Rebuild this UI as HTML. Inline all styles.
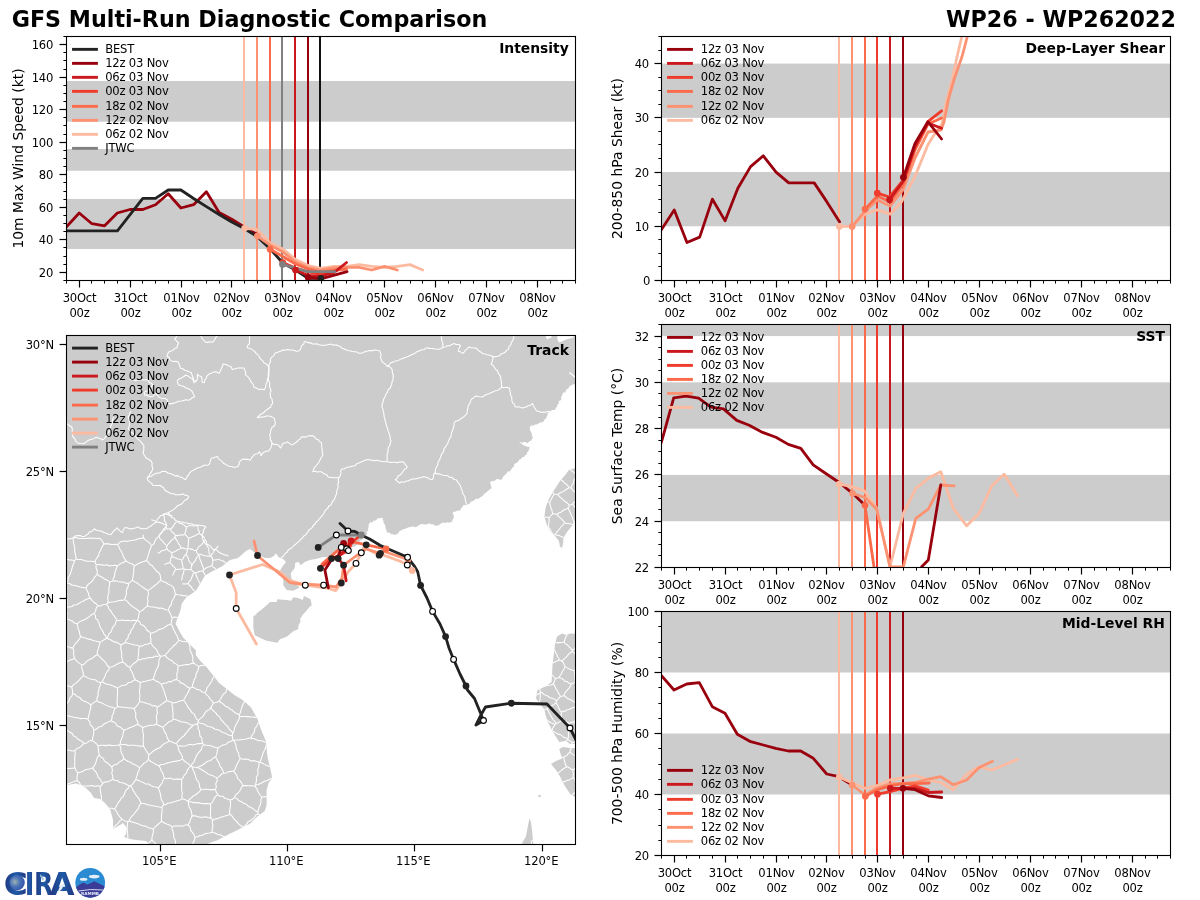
<!DOCTYPE html>
<html><head><meta charset="utf-8"><title>GFS Multi-Run Diagnostic Comparison</title>
<style>html,body{margin:0;padding:0;background:#fff;width:1200px;height:900px;overflow:hidden}svg{display:block;will-change:transform}</style>
</head><body>
<svg width="1200" height="900" viewBox="0 0 1200 900" font-family="'DejaVu Sans', 'Liberation Sans', sans-serif">
<rect x="0" y="0" width="1200" height="900" fill="#fff"/>
<text x="11.7" y="26.8" font-size="22.22" text-anchor="start" font-weight="bold">GFS Multi-Run Diagnostic Comparison</text>
<text x="1176" y="26.8" font-size="22.22" text-anchor="end" font-weight="bold">WP26 - WP262022</text>
<rect x="66.5" y="36.5" width="509" height="244" fill="#fff"/>
<rect x="66.5" y="81" width="509" height="40.7" fill="#cccccc"/>
<rect x="66.5" y="149" width="509" height="21.7" fill="#cccccc"/>
<rect x="66.5" y="199" width="509" height="50" fill="#cccccc"/>
<clipPath id="c1"><rect x="66.5" y="36.5" width="509" height="244"/></clipPath>
<g clip-path="url(#c1)">
<line x1="244" y1="36.5" x2="244" y2="280.5" stroke="#fcbba1" stroke-width="2"/>
<line x1="257" y1="36.5" x2="257" y2="280.5" stroke="#fc9272" stroke-width="2"/>
<line x1="270" y1="36.5" x2="270" y2="280.5" stroke="#fb6a4a" stroke-width="2"/>
<line x1="282" y1="36.5" x2="282" y2="280.5" stroke="#ef3b2c" stroke-width="2"/>
<line x1="295" y1="36.5" x2="295" y2="280.5" stroke="#cb181d" stroke-width="2"/>
<line x1="308" y1="36.5" x2="308" y2="280.5" stroke="#99000d" stroke-width="2"/>
<line x1="282" y1="36.5" x2="282" y2="280.5" stroke="#808080" stroke-width="2"/>
<line x1="320" y1="36.5" x2="320" y2="280.5" stroke="#111111" stroke-width="2"/>
<polyline points="60,222 66.5,226.7 79.2,213 91.9,223.7 104.6,225.8 117.3,213 130,209.5 142.8,209.5 155.5,204.7 168.2,193.8 180.9,208 193.6,204.7 206.4,191.7 219.1,212.5 231.8,219.2 244.6,227.3 257.3,234.5" fill="none" stroke="#99000d" stroke-width="2.8" stroke-linejoin="round" stroke-linecap="round"/>
<polyline points="66.5,230.8 117.4,230.8 142.8,198.3 155.5,198.3 168.2,190 180.9,190 193.6,198.5 206.4,206.6 219.1,214.5 231.8,222 244.6,228.7 257.3,236.7 270,248.7 282.8,263 295.5,270 308.2,278.3 320.9,278.3" fill="none" stroke="#222222" stroke-width="2.8" stroke-linejoin="round" stroke-linecap="round"/>
<polyline points="244.6,228.3 257.3,229.6 270.1,243 282.8,249 295.5,259.5 308.2,265.5 320.9,268.3 333.6,266.5 346.4,266.3 359.1,264.6 371.8,266.3 384.5,267.3 397.3,266.3 410,264.6 422.7,270" fill="none" stroke="#fcbba1" stroke-width="2.8" stroke-linejoin="round" stroke-linecap="round"/>
<polyline points="257.3,236.1 270.1,245 282.8,252 295.5,262 308.2,267.5 320.9,270 333.6,268 346.4,267.3 359.1,267.3 371.8,270 384.5,266.3 397.3,270" fill="none" stroke="#fc9272" stroke-width="2.8" stroke-linejoin="round" stroke-linecap="round"/>
<polyline points="270.1,249.2 282.8,256.5 295.5,264 308.2,269 320.9,272 333.6,270.5 346.4,269" fill="none" stroke="#fb6a4a" stroke-width="2.8" stroke-linejoin="round" stroke-linecap="round"/>
<polyline points="282.8,262.5 295.5,268 308.2,272 320.9,274.5 333.6,273" fill="none" stroke="#ef3b2c" stroke-width="2.8" stroke-linejoin="round" stroke-linecap="round"/>
<polyline points="295.5,270 308.2,275.5 320.9,276.5 335.8,271.1 346.6,262.5" fill="none" stroke="#cb181d" stroke-width="2.8" stroke-linejoin="round" stroke-linecap="round"/>
<polyline points="308.2,277.5 321.7,278.6 347.1,271.7" fill="none" stroke="#99000d" stroke-width="2.8" stroke-linejoin="round" stroke-linecap="round"/>
<polyline points="282.5,264.4 307.6,271.7 334.7,271.7" fill="none" stroke="#808080" stroke-width="2.8" stroke-linejoin="round" stroke-linecap="round"/>
<circle cx="244.6" cy="228.3" r="3.35" fill="#fcbba1" stroke="none" stroke-width="0"/>
<circle cx="257.3" cy="236.1" r="3.35" fill="#fc9272" stroke="none" stroke-width="0"/>
<circle cx="270.1" cy="249.2" r="3.35" fill="#fb6a4a" stroke="none" stroke-width="0"/>
<circle cx="282.8" cy="262.5" r="3.35" fill="#ef3b2c" stroke="none" stroke-width="0"/>
<circle cx="295.5" cy="270" r="3.35" fill="#cb181d" stroke="none" stroke-width="0"/>
<circle cx="308.2" cy="277.5" r="3.35" fill="#99000d" stroke="none" stroke-width="0"/>
<circle cx="282.5" cy="264.4" r="3.35" fill="#808080" stroke="none" stroke-width="0"/>
<circle cx="320.9" cy="278.3" r="3.35" fill="#222222" stroke="none" stroke-width="0"/>
</g>
<line x1="72.05" y1="49.35" x2="97.9" y2="49.35" stroke="#222222" stroke-width="2.9"/>
<text x="105.2" y="52.8" font-size="11.57" text-anchor="start" letter-spacing="-0.2">BEST</text>
<line x1="72.05" y1="63.35" x2="97.9" y2="63.35" stroke="#99000d" stroke-width="2.9"/>
<text x="105.2" y="66.8" font-size="11.57" text-anchor="start" letter-spacing="-0.2">12z 03 Nov</text>
<line x1="72.05" y1="77.35" x2="97.9" y2="77.35" stroke="#cb181d" stroke-width="2.9"/>
<text x="105.2" y="80.8" font-size="11.57" text-anchor="start" letter-spacing="-0.2">06z 03 Nov</text>
<line x1="72.05" y1="91.35" x2="97.9" y2="91.35" stroke="#ef3b2c" stroke-width="2.9"/>
<text x="105.2" y="94.8" font-size="11.57" text-anchor="start" letter-spacing="-0.2">00z 03 Nov</text>
<line x1="72.05" y1="106.35" x2="97.9" y2="106.35" stroke="#fb6a4a" stroke-width="2.9"/>
<text x="105.2" y="109.8" font-size="11.57" text-anchor="start" letter-spacing="-0.2">18z 02 Nov</text>
<line x1="72.05" y1="120.35" x2="97.9" y2="120.35" stroke="#fc9272" stroke-width="2.9"/>
<text x="105.2" y="123.8" font-size="11.57" text-anchor="start" letter-spacing="-0.2">12z 02 Nov</text>
<line x1="72.05" y1="134.35" x2="97.9" y2="134.35" stroke="#fcbba1" stroke-width="2.9"/>
<text x="105.2" y="137.8" font-size="11.57" text-anchor="start" letter-spacing="-0.2">06z 02 Nov</text>
<line x1="72.05" y1="148.35" x2="97.9" y2="148.35" stroke="#808080" stroke-width="2.9"/>
<text x="105.2" y="151.8" font-size="11.57" text-anchor="start" letter-spacing="-0.2">JTWC</text>
<text x="568.8" y="52.9" font-size="13.89" text-anchor="end" font-weight="bold">Intensity</text>
<rect x="66.5" y="36.5" width="509" height="244" fill="none" stroke="#000" stroke-width="1.1" stroke-linejoin="miter"/>
<line x1="63.4" y1="280.5" x2="66.5" y2="280.5" stroke="#000" stroke-width="1"/>
<line x1="63.4" y1="264.5" x2="66.5" y2="264.5" stroke="#000" stroke-width="1"/>
<line x1="63.4" y1="256.5" x2="66.5" y2="256.5" stroke="#000" stroke-width="1"/>
<line x1="63.4" y1="247.5" x2="66.5" y2="247.5" stroke="#000" stroke-width="1"/>
<line x1="63.4" y1="231.5" x2="66.5" y2="231.5" stroke="#000" stroke-width="1"/>
<line x1="63.4" y1="223.5" x2="66.5" y2="223.5" stroke="#000" stroke-width="1"/>
<line x1="63.4" y1="215.5" x2="66.5" y2="215.5" stroke="#000" stroke-width="1"/>
<line x1="63.4" y1="199.5" x2="66.5" y2="199.5" stroke="#000" stroke-width="1"/>
<line x1="63.4" y1="191.5" x2="66.5" y2="191.5" stroke="#000" stroke-width="1"/>
<line x1="63.4" y1="182.5" x2="66.5" y2="182.5" stroke="#000" stroke-width="1"/>
<line x1="63.4" y1="166.5" x2="66.5" y2="166.5" stroke="#000" stroke-width="1"/>
<line x1="63.4" y1="158.5" x2="66.5" y2="158.5" stroke="#000" stroke-width="1"/>
<line x1="63.4" y1="150.5" x2="66.5" y2="150.5" stroke="#000" stroke-width="1"/>
<line x1="63.4" y1="134.5" x2="66.5" y2="134.5" stroke="#000" stroke-width="1"/>
<line x1="63.4" y1="125.5" x2="66.5" y2="125.5" stroke="#000" stroke-width="1"/>
<line x1="63.4" y1="117.5" x2="66.5" y2="117.5" stroke="#000" stroke-width="1"/>
<line x1="63.4" y1="101.5" x2="66.5" y2="101.5" stroke="#000" stroke-width="1"/>
<line x1="63.4" y1="93.5" x2="66.5" y2="93.5" stroke="#000" stroke-width="1"/>
<line x1="63.4" y1="85.5" x2="66.5" y2="85.5" stroke="#000" stroke-width="1"/>
<line x1="63.4" y1="69.5" x2="66.5" y2="69.5" stroke="#000" stroke-width="1"/>
<line x1="63.4" y1="60.5" x2="66.5" y2="60.5" stroke="#000" stroke-width="1"/>
<line x1="63.4" y1="52.5" x2="66.5" y2="52.5" stroke="#000" stroke-width="1"/>
<line x1="63.4" y1="36.5" x2="66.5" y2="36.5" stroke="#000" stroke-width="1"/>
<line x1="59.5" y1="272.5" x2="66.5" y2="272.5" stroke="#000" stroke-width="1.2"/>
<text x="53.2" y="276.82" font-size="11.57" text-anchor="end" letter-spacing="-0.2">20</text>
<line x1="59.5" y1="239.5" x2="66.5" y2="239.5" stroke="#000" stroke-width="1.2"/>
<text x="53.2" y="244.28" font-size="11.57" text-anchor="end" letter-spacing="-0.2">40</text>
<line x1="59.5" y1="207.5" x2="66.5" y2="207.5" stroke="#000" stroke-width="1.2"/>
<text x="53.2" y="211.75" font-size="11.57" text-anchor="end" letter-spacing="-0.2">60</text>
<line x1="59.5" y1="174.5" x2="66.5" y2="174.5" stroke="#000" stroke-width="1.2"/>
<text x="53.2" y="179.22" font-size="11.57" text-anchor="end" letter-spacing="-0.2">80</text>
<line x1="59.5" y1="142.5" x2="66.5" y2="142.5" stroke="#000" stroke-width="1.2"/>
<text x="53.2" y="146.68" font-size="11.57" text-anchor="end" letter-spacing="-0.2">100</text>
<line x1="59.5" y1="109.5" x2="66.5" y2="109.5" stroke="#000" stroke-width="1.2"/>
<text x="53.2" y="114.15" font-size="11.57" text-anchor="end" letter-spacing="-0.2">120</text>
<line x1="59.5" y1="77.5" x2="66.5" y2="77.5" stroke="#000" stroke-width="1.2"/>
<text x="53.2" y="81.62" font-size="11.57" text-anchor="end" letter-spacing="-0.2">140</text>
<line x1="59.5" y1="44.5" x2="66.5" y2="44.5" stroke="#000" stroke-width="1.2"/>
<text x="53.2" y="49.08" font-size="11.57" text-anchor="end" letter-spacing="-0.2">160</text>
<line x1="66.5" y1="280.5" x2="66.5" y2="283.6" stroke="#000" stroke-width="1"/>
<line x1="79.5" y1="280.5" x2="79.5" y2="287.5" stroke="#000" stroke-width="1.2"/>
<text x="79.5" y="302.2" font-size="11.57" text-anchor="middle" letter-spacing="-0.2">30Oct</text>
<text x="79.5" y="317" font-size="11.57" text-anchor="middle" letter-spacing="-0.2">00z</text>
<line x1="91.5" y1="280.5" x2="91.5" y2="283.6" stroke="#000" stroke-width="1"/>
<line x1="104.5" y1="280.5" x2="104.5" y2="283.6" stroke="#000" stroke-width="1"/>
<line x1="117.5" y1="280.5" x2="117.5" y2="283.6" stroke="#000" stroke-width="1"/>
<line x1="130.5" y1="280.5" x2="130.5" y2="287.5" stroke="#000" stroke-width="1.2"/>
<text x="130.5" y="302.2" font-size="11.57" text-anchor="middle" letter-spacing="-0.2">31Oct</text>
<text x="130.5" y="317" font-size="11.57" text-anchor="middle" letter-spacing="-0.2">00z</text>
<line x1="142.5" y1="280.5" x2="142.5" y2="283.6" stroke="#000" stroke-width="1"/>
<line x1="155.5" y1="280.5" x2="155.5" y2="283.6" stroke="#000" stroke-width="1"/>
<line x1="168.5" y1="280.5" x2="168.5" y2="283.6" stroke="#000" stroke-width="1"/>
<line x1="181.5" y1="280.5" x2="181.5" y2="287.5" stroke="#000" stroke-width="1.2"/>
<text x="181.5" y="302.2" font-size="11.57" text-anchor="middle" letter-spacing="-0.2">01Nov</text>
<text x="181.5" y="317" font-size="11.57" text-anchor="middle" letter-spacing="-0.2">00z</text>
<line x1="193.5" y1="280.5" x2="193.5" y2="283.6" stroke="#000" stroke-width="1"/>
<line x1="206.5" y1="280.5" x2="206.5" y2="283.6" stroke="#000" stroke-width="1"/>
<line x1="219.5" y1="280.5" x2="219.5" y2="283.6" stroke="#000" stroke-width="1"/>
<line x1="231.5" y1="280.5" x2="231.5" y2="287.5" stroke="#000" stroke-width="1.2"/>
<text x="231.5" y="302.2" font-size="11.57" text-anchor="middle" letter-spacing="-0.2">02Nov</text>
<text x="231.5" y="317" font-size="11.57" text-anchor="middle" letter-spacing="-0.2">00z</text>
<line x1="244.5" y1="280.5" x2="244.5" y2="283.6" stroke="#000" stroke-width="1"/>
<line x1="257.5" y1="280.5" x2="257.5" y2="283.6" stroke="#000" stroke-width="1"/>
<line x1="270.5" y1="280.5" x2="270.5" y2="283.6" stroke="#000" stroke-width="1"/>
<line x1="282.5" y1="280.5" x2="282.5" y2="287.5" stroke="#000" stroke-width="1.2"/>
<text x="282.5" y="302.2" font-size="11.57" text-anchor="middle" letter-spacing="-0.2">03Nov</text>
<text x="282.5" y="317" font-size="11.57" text-anchor="middle" letter-spacing="-0.2">00z</text>
<line x1="295.5" y1="280.5" x2="295.5" y2="283.6" stroke="#000" stroke-width="1"/>
<line x1="308.5" y1="280.5" x2="308.5" y2="283.6" stroke="#000" stroke-width="1"/>
<line x1="321.5" y1="280.5" x2="321.5" y2="283.6" stroke="#000" stroke-width="1"/>
<line x1="333.5" y1="280.5" x2="333.5" y2="287.5" stroke="#000" stroke-width="1.2"/>
<text x="333.5" y="302.2" font-size="11.57" text-anchor="middle" letter-spacing="-0.2">04Nov</text>
<text x="333.5" y="317" font-size="11.57" text-anchor="middle" letter-spacing="-0.2">00z</text>
<line x1="346.5" y1="280.5" x2="346.5" y2="283.6" stroke="#000" stroke-width="1"/>
<line x1="359.5" y1="280.5" x2="359.5" y2="283.6" stroke="#000" stroke-width="1"/>
<line x1="371.5" y1="280.5" x2="371.5" y2="283.6" stroke="#000" stroke-width="1"/>
<line x1="384.5" y1="280.5" x2="384.5" y2="287.5" stroke="#000" stroke-width="1.2"/>
<text x="384.5" y="302.2" font-size="11.57" text-anchor="middle" letter-spacing="-0.2">05Nov</text>
<text x="384.5" y="317" font-size="11.57" text-anchor="middle" letter-spacing="-0.2">00z</text>
<line x1="397.5" y1="280.5" x2="397.5" y2="283.6" stroke="#000" stroke-width="1"/>
<line x1="410.5" y1="280.5" x2="410.5" y2="283.6" stroke="#000" stroke-width="1"/>
<line x1="422.5" y1="280.5" x2="422.5" y2="283.6" stroke="#000" stroke-width="1"/>
<line x1="435.5" y1="280.5" x2="435.5" y2="287.5" stroke="#000" stroke-width="1.2"/>
<text x="435.5" y="302.2" font-size="11.57" text-anchor="middle" letter-spacing="-0.2">06Nov</text>
<text x="435.5" y="317" font-size="11.57" text-anchor="middle" letter-spacing="-0.2">00z</text>
<line x1="448.5" y1="280.5" x2="448.5" y2="283.6" stroke="#000" stroke-width="1"/>
<line x1="460.5" y1="280.5" x2="460.5" y2="283.6" stroke="#000" stroke-width="1"/>
<line x1="473.5" y1="280.5" x2="473.5" y2="283.6" stroke="#000" stroke-width="1"/>
<line x1="486.5" y1="280.5" x2="486.5" y2="287.5" stroke="#000" stroke-width="1.2"/>
<text x="486.5" y="302.2" font-size="11.57" text-anchor="middle" letter-spacing="-0.2">07Nov</text>
<text x="486.5" y="317" font-size="11.57" text-anchor="middle" letter-spacing="-0.2">00z</text>
<line x1="499.5" y1="280.5" x2="499.5" y2="283.6" stroke="#000" stroke-width="1"/>
<line x1="511.5" y1="280.5" x2="511.5" y2="283.6" stroke="#000" stroke-width="1"/>
<line x1="524.5" y1="280.5" x2="524.5" y2="283.6" stroke="#000" stroke-width="1"/>
<line x1="537.5" y1="280.5" x2="537.5" y2="287.5" stroke="#000" stroke-width="1.2"/>
<text x="537.5" y="302.2" font-size="11.57" text-anchor="middle" letter-spacing="-0.2">08Nov</text>
<text x="537.5" y="317" font-size="11.57" text-anchor="middle" letter-spacing="-0.2">00z</text>
<line x1="550.5" y1="280.5" x2="550.5" y2="283.6" stroke="#000" stroke-width="1"/>
<line x1="562.5" y1="280.5" x2="562.5" y2="283.6" stroke="#000" stroke-width="1"/>
<line x1="575.5" y1="280.5" x2="575.5" y2="283.6" stroke="#000" stroke-width="1"/>
<text x="23" y="158.5" font-size="13.89" text-anchor="middle" transform="rotate(-90 23 158.5)">10m Max Wind Speed (kt)</text>
<rect x="661.5" y="36.5" width="509" height="244" fill="#fff"/>
<rect x="661.5" y="172.06" width="509" height="54.22" fill="#cccccc"/>
<rect x="661.5" y="63.61" width="509" height="54.22" fill="#cccccc"/>
<clipPath id="c2"><rect x="661.5" y="36.5" width="509" height="244"/></clipPath>
<g clip-path="url(#c2)">
<line x1="839" y1="36.5" x2="839" y2="280.5" stroke="#fcbba1" stroke-width="2"/>
<line x1="852" y1="36.5" x2="852" y2="280.5" stroke="#fc9272" stroke-width="2"/>
<line x1="865" y1="36.5" x2="865" y2="280.5" stroke="#fb6a4a" stroke-width="2"/>
<line x1="877" y1="36.5" x2="877" y2="280.5" stroke="#ef3b2c" stroke-width="2"/>
<line x1="890" y1="36.5" x2="890" y2="280.5" stroke="#cb181d" stroke-width="2"/>
<line x1="903" y1="36.5" x2="903" y2="280.5" stroke="#99000d" stroke-width="2"/>
<polyline points="648.77,219.77 661.5,229.53 674.23,210.01 686.95,242.54 699.67,237.12 712.4,199.17 725.12,220.86 737.85,188.32 750.58,166.63 763.3,155.79 776.02,172.06 788.75,182.9 801.48,182.9 814.2,182.9 826.92,201.88 839.65,221.94" fill="none" stroke="#99000d" stroke-width="2.8" stroke-linejoin="round" stroke-linecap="round"/>
<polyline points="839.4,226.4 852.2,226.4 865,214 877.3,209.8 890.3,214.2 901.9,201.2 914.9,176.6 927.9,144.8 933.3,136 942,124 946.7,100 952.2,80 957.2,56 961.7,37 964,25" fill="none" stroke="#fcbba1" stroke-width="2.8" stroke-linejoin="round" stroke-linecap="round"/>
<polyline points="852.2,226.4 865,211 877.3,200 890.3,206 903,190 915,158 928,132 941,130 944,122 948.3,100 953.9,80 962.2,56 967.2,37 970,25" fill="none" stroke="#fc9272" stroke-width="2.8" stroke-linejoin="round" stroke-linecap="round"/>
<polyline points="865.1,209.1 877.3,196 890.3,202 903.4,184 915,150 928,124 941.6,118" fill="none" stroke="#fb6a4a" stroke-width="2.8" stroke-linejoin="round" stroke-linecap="round"/>
<polyline points="877.3,193.2 889.6,197 903.4,180 915,147 927.9,121.7 941.6,110.8" fill="none" stroke="#ef3b2c" stroke-width="2.8" stroke-linejoin="round" stroke-linecap="round"/>
<polyline points="889.6,199.7 903.4,181 915,146 927.9,123 941.6,128.2" fill="none" stroke="#cb181d" stroke-width="2.8" stroke-linejoin="round" stroke-linecap="round"/>
<polyline points="903.4,177.3 915,143.4 927.9,121.7 941.6,139" fill="none" stroke="#99000d" stroke-width="2.8" stroke-linejoin="round" stroke-linecap="round"/>
<circle cx="839.4" cy="226.4" r="3.35" fill="#fcbba1" stroke="none" stroke-width="0"/>
<circle cx="852.2" cy="226.4" r="3.35" fill="#fc9272" stroke="none" stroke-width="0"/>
<circle cx="865.1" cy="209.1" r="3.35" fill="#fb6a4a" stroke="none" stroke-width="0"/>
<circle cx="877.3" cy="193.2" r="3.35" fill="#ef3b2c" stroke="none" stroke-width="0"/>
<circle cx="889.6" cy="199.7" r="3.35" fill="#cb181d" stroke="none" stroke-width="0"/>
<circle cx="903.4" cy="177.3" r="3.35" fill="#99000d" stroke="none" stroke-width="0"/>
</g>
<line x1="667.05" y1="49.4" x2="692.9" y2="49.4" stroke="#99000d" stroke-width="2.9"/>
<text x="700.8" y="52.85" font-size="11.57" text-anchor="start" letter-spacing="-0.2">12z 03 Nov</text>
<line x1="667.05" y1="63.4" x2="692.9" y2="63.4" stroke="#cb181d" stroke-width="2.9"/>
<text x="700.8" y="66.85" font-size="11.57" text-anchor="start" letter-spacing="-0.2">06z 03 Nov</text>
<line x1="667.05" y1="77.4" x2="692.9" y2="77.4" stroke="#ef3b2c" stroke-width="2.9"/>
<text x="700.8" y="80.85" font-size="11.57" text-anchor="start" letter-spacing="-0.2">00z 03 Nov</text>
<line x1="667.05" y1="91.4" x2="692.9" y2="91.4" stroke="#fb6a4a" stroke-width="2.9"/>
<text x="700.8" y="94.85" font-size="11.57" text-anchor="start" letter-spacing="-0.2">18z 02 Nov</text>
<line x1="667.05" y1="106.4" x2="692.9" y2="106.4" stroke="#fc9272" stroke-width="2.9"/>
<text x="700.8" y="109.85" font-size="11.57" text-anchor="start" letter-spacing="-0.2">12z 02 Nov</text>
<line x1="667.05" y1="120.4" x2="692.9" y2="120.4" stroke="#fcbba1" stroke-width="2.9"/>
<text x="700.8" y="123.85" font-size="11.57" text-anchor="start" letter-spacing="-0.2">06z 02 Nov</text>
<text x="1165" y="52.8" font-size="13.89" text-anchor="end" font-weight="bold">Deep-Layer Shear</text>
<rect x="661.5" y="36.5" width="509" height="244" fill="none" stroke="#000" stroke-width="1.1" stroke-linejoin="miter"/>
<line x1="658.4" y1="266.5" x2="661.5" y2="266.5" stroke="#000" stroke-width="1"/>
<line x1="658.4" y1="253.5" x2="661.5" y2="253.5" stroke="#000" stroke-width="1"/>
<line x1="658.4" y1="239.5" x2="661.5" y2="239.5" stroke="#000" stroke-width="1"/>
<line x1="658.4" y1="212.5" x2="661.5" y2="212.5" stroke="#000" stroke-width="1"/>
<line x1="658.4" y1="199.5" x2="661.5" y2="199.5" stroke="#000" stroke-width="1"/>
<line x1="658.4" y1="185.5" x2="661.5" y2="185.5" stroke="#000" stroke-width="1"/>
<line x1="658.4" y1="158.5" x2="661.5" y2="158.5" stroke="#000" stroke-width="1"/>
<line x1="658.4" y1="144.5" x2="661.5" y2="144.5" stroke="#000" stroke-width="1"/>
<line x1="658.4" y1="131.5" x2="661.5" y2="131.5" stroke="#000" stroke-width="1"/>
<line x1="658.4" y1="104.5" x2="661.5" y2="104.5" stroke="#000" stroke-width="1"/>
<line x1="658.4" y1="90.5" x2="661.5" y2="90.5" stroke="#000" stroke-width="1"/>
<line x1="658.4" y1="77.5" x2="661.5" y2="77.5" stroke="#000" stroke-width="1"/>
<line x1="658.4" y1="50.5" x2="661.5" y2="50.5" stroke="#000" stroke-width="1"/>
<line x1="658.4" y1="36.5" x2="661.5" y2="36.5" stroke="#000" stroke-width="1"/>
<line x1="654.5" y1="280.5" x2="661.5" y2="280.5" stroke="#000" stroke-width="1.2"/>
<text x="650.2" y="284.95" font-size="11.57" text-anchor="end" letter-spacing="-0.2">0</text>
<line x1="654.5" y1="226.5" x2="661.5" y2="226.5" stroke="#000" stroke-width="1.2"/>
<text x="649" y="230.73" font-size="11.57" text-anchor="end" letter-spacing="-0.2">10</text>
<line x1="654.5" y1="172.5" x2="661.5" y2="172.5" stroke="#000" stroke-width="1.2"/>
<text x="649" y="176.51" font-size="11.57" text-anchor="end" letter-spacing="-0.2">20</text>
<line x1="654.5" y1="117.5" x2="661.5" y2="117.5" stroke="#000" stroke-width="1.2"/>
<text x="649" y="122.28" font-size="11.57" text-anchor="end" letter-spacing="-0.2">30</text>
<line x1="654.5" y1="63.5" x2="661.5" y2="63.5" stroke="#000" stroke-width="1.2"/>
<text x="649" y="68.06" font-size="11.57" text-anchor="end" letter-spacing="-0.2">40</text>
<line x1="661.5" y1="280.5" x2="661.5" y2="283.6" stroke="#000" stroke-width="1"/>
<line x1="674.5" y1="280.5" x2="674.5" y2="287.5" stroke="#000" stroke-width="1.2"/>
<text x="674.5" y="302.2" font-size="11.57" text-anchor="middle" letter-spacing="-0.2">30Oct</text>
<text x="674.5" y="317" font-size="11.57" text-anchor="middle" letter-spacing="-0.2">00z</text>
<line x1="686.5" y1="280.5" x2="686.5" y2="283.6" stroke="#000" stroke-width="1"/>
<line x1="699.5" y1="280.5" x2="699.5" y2="283.6" stroke="#000" stroke-width="1"/>
<line x1="712.5" y1="280.5" x2="712.5" y2="283.6" stroke="#000" stroke-width="1"/>
<line x1="725.5" y1="280.5" x2="725.5" y2="287.5" stroke="#000" stroke-width="1.2"/>
<text x="725.5" y="302.2" font-size="11.57" text-anchor="middle" letter-spacing="-0.2">31Oct</text>
<text x="725.5" y="317" font-size="11.57" text-anchor="middle" letter-spacing="-0.2">00z</text>
<line x1="737.5" y1="280.5" x2="737.5" y2="283.6" stroke="#000" stroke-width="1"/>
<line x1="750.5" y1="280.5" x2="750.5" y2="283.6" stroke="#000" stroke-width="1"/>
<line x1="763.5" y1="280.5" x2="763.5" y2="283.6" stroke="#000" stroke-width="1"/>
<line x1="776.5" y1="280.5" x2="776.5" y2="287.5" stroke="#000" stroke-width="1.2"/>
<text x="776.5" y="302.2" font-size="11.57" text-anchor="middle" letter-spacing="-0.2">01Nov</text>
<text x="776.5" y="317" font-size="11.57" text-anchor="middle" letter-spacing="-0.2">00z</text>
<line x1="788.5" y1="280.5" x2="788.5" y2="283.6" stroke="#000" stroke-width="1"/>
<line x1="801.5" y1="280.5" x2="801.5" y2="283.6" stroke="#000" stroke-width="1"/>
<line x1="814.5" y1="280.5" x2="814.5" y2="283.6" stroke="#000" stroke-width="1"/>
<line x1="826.5" y1="280.5" x2="826.5" y2="287.5" stroke="#000" stroke-width="1.2"/>
<text x="826.5" y="302.2" font-size="11.57" text-anchor="middle" letter-spacing="-0.2">02Nov</text>
<text x="826.5" y="317" font-size="11.57" text-anchor="middle" letter-spacing="-0.2">00z</text>
<line x1="839.5" y1="280.5" x2="839.5" y2="283.6" stroke="#000" stroke-width="1"/>
<line x1="852.5" y1="280.5" x2="852.5" y2="283.6" stroke="#000" stroke-width="1"/>
<line x1="865.5" y1="280.5" x2="865.5" y2="283.6" stroke="#000" stroke-width="1"/>
<line x1="877.5" y1="280.5" x2="877.5" y2="287.5" stroke="#000" stroke-width="1.2"/>
<text x="877.5" y="302.2" font-size="11.57" text-anchor="middle" letter-spacing="-0.2">03Nov</text>
<text x="877.5" y="317" font-size="11.57" text-anchor="middle" letter-spacing="-0.2">00z</text>
<line x1="890.5" y1="280.5" x2="890.5" y2="283.6" stroke="#000" stroke-width="1"/>
<line x1="903.5" y1="280.5" x2="903.5" y2="283.6" stroke="#000" stroke-width="1"/>
<line x1="916.5" y1="280.5" x2="916.5" y2="283.6" stroke="#000" stroke-width="1"/>
<line x1="928.5" y1="280.5" x2="928.5" y2="287.5" stroke="#000" stroke-width="1.2"/>
<text x="928.5" y="302.2" font-size="11.57" text-anchor="middle" letter-spacing="-0.2">04Nov</text>
<text x="928.5" y="317" font-size="11.57" text-anchor="middle" letter-spacing="-0.2">00z</text>
<line x1="941.5" y1="280.5" x2="941.5" y2="283.6" stroke="#000" stroke-width="1"/>
<line x1="954.5" y1="280.5" x2="954.5" y2="283.6" stroke="#000" stroke-width="1"/>
<line x1="966.5" y1="280.5" x2="966.5" y2="283.6" stroke="#000" stroke-width="1"/>
<line x1="979.5" y1="280.5" x2="979.5" y2="287.5" stroke="#000" stroke-width="1.2"/>
<text x="979.5" y="302.2" font-size="11.57" text-anchor="middle" letter-spacing="-0.2">05Nov</text>
<text x="979.5" y="317" font-size="11.57" text-anchor="middle" letter-spacing="-0.2">00z</text>
<line x1="992.5" y1="280.5" x2="992.5" y2="283.6" stroke="#000" stroke-width="1"/>
<line x1="1005.5" y1="280.5" x2="1005.5" y2="283.6" stroke="#000" stroke-width="1"/>
<line x1="1017.5" y1="280.5" x2="1017.5" y2="283.6" stroke="#000" stroke-width="1"/>
<line x1="1030.5" y1="280.5" x2="1030.5" y2="287.5" stroke="#000" stroke-width="1.2"/>
<text x="1030.5" y="302.2" font-size="11.57" text-anchor="middle" letter-spacing="-0.2">06Nov</text>
<text x="1030.5" y="317" font-size="11.57" text-anchor="middle" letter-spacing="-0.2">00z</text>
<line x1="1043.5" y1="280.5" x2="1043.5" y2="283.6" stroke="#000" stroke-width="1"/>
<line x1="1055.5" y1="280.5" x2="1055.5" y2="283.6" stroke="#000" stroke-width="1"/>
<line x1="1068.5" y1="280.5" x2="1068.5" y2="283.6" stroke="#000" stroke-width="1"/>
<line x1="1081.5" y1="280.5" x2="1081.5" y2="287.5" stroke="#000" stroke-width="1.2"/>
<text x="1081.5" y="302.2" font-size="11.57" text-anchor="middle" letter-spacing="-0.2">07Nov</text>
<text x="1081.5" y="317" font-size="11.57" text-anchor="middle" letter-spacing="-0.2">00z</text>
<line x1="1094.5" y1="280.5" x2="1094.5" y2="283.6" stroke="#000" stroke-width="1"/>
<line x1="1106.5" y1="280.5" x2="1106.5" y2="283.6" stroke="#000" stroke-width="1"/>
<line x1="1119.5" y1="280.5" x2="1119.5" y2="283.6" stroke="#000" stroke-width="1"/>
<line x1="1132.5" y1="280.5" x2="1132.5" y2="287.5" stroke="#000" stroke-width="1.2"/>
<text x="1132.5" y="302.2" font-size="11.57" text-anchor="middle" letter-spacing="-0.2">08Nov</text>
<text x="1132.5" y="317" font-size="11.57" text-anchor="middle" letter-spacing="-0.2">00z</text>
<line x1="1145.5" y1="280.5" x2="1145.5" y2="283.6" stroke="#000" stroke-width="1"/>
<line x1="1157.5" y1="280.5" x2="1157.5" y2="283.6" stroke="#000" stroke-width="1"/>
<line x1="1170.5" y1="280.5" x2="1170.5" y2="283.6" stroke="#000" stroke-width="1"/>
<text x="622" y="158.5" font-size="13.89" text-anchor="middle" transform="rotate(-90 622 158.5)">200-850 hPa Shear (kt)</text>
<rect x="661.5" y="324.5" width="509" height="243" fill="#fff"/>
<rect x="661.5" y="474.93" width="509" height="46.29" fill="#cccccc"/>
<rect x="661.5" y="382.36" width="509" height="46.29" fill="#cccccc"/>
<rect x="661.5" y="324.5" width="509" height="11.57" fill="#cccccc"/>
<clipPath id="c3"><rect x="661.5" y="324.5" width="509" height="243"/></clipPath>
<g clip-path="url(#c3)">
<line x1="839" y1="324.5" x2="839" y2="567.5" stroke="#fcbba1" stroke-width="2"/>
<line x1="852" y1="324.5" x2="852" y2="567.5" stroke="#fc9272" stroke-width="2"/>
<line x1="865" y1="324.5" x2="865" y2="567.5" stroke="#fb6a4a" stroke-width="2"/>
<line x1="877" y1="324.5" x2="877" y2="567.5" stroke="#ef3b2c" stroke-width="2"/>
<line x1="890" y1="324.5" x2="890" y2="567.5" stroke="#cb181d" stroke-width="2"/>
<line x1="903" y1="324.5" x2="903" y2="567.5" stroke="#99000d" stroke-width="2"/>
<polyline points="655,460 661.8,440.9 673.7,397.9 686.1,396.1 698.6,398.2 711,407.1 723.4,408.9 736.8,420.4 749.2,425.2 762.6,432.4 775.9,437.3 788.3,444.4 800.8,448.4 813.2,464.9 826.5,474 839.2,482.5 852.5,493.3 865,505.3" fill="none" stroke="#99000d" stroke-width="2.8" stroke-linejoin="round" stroke-linecap="round"/>
<polyline points="839.2,484.2 851.7,486.7 864.2,490.8 876.7,508.3 890,567 903.3,513.3 915.8,488.3 928.3,478.3 940.8,471.7 953.3,508.3 966.7,525.8 979.2,513.3 991.7,485.8 1004.2,474.2 1017.5,495.8" fill="none" stroke="#fcbba1" stroke-width="2.8" stroke-linejoin="round" stroke-linecap="round"/>
<polyline points="852.5,493.3 865,497.5 876.7,509.2 890,567 903.3,567 915.8,518.3 928.3,509.2 940.8,485 954.2,485.8" fill="none" stroke="#fc9272" stroke-width="2.8" stroke-linejoin="round" stroke-linecap="round"/>
<polyline points="865,505.3 874,567 878,600" fill="none" stroke="#fb6a4a" stroke-width="2.8" stroke-linejoin="round" stroke-linecap="round"/>
<polyline points="915,590 921.7,566.7 928.3,560 940.8,485" fill="none" stroke="#99000d" stroke-width="2.8" stroke-linejoin="round" stroke-linecap="round"/>
<circle cx="839.2" cy="484.2" r="3.35" fill="#fcbba1" stroke="none" stroke-width="0"/>
<circle cx="852.5" cy="493.3" r="3.35" fill="#fc9272" stroke="none" stroke-width="0"/>
<circle cx="865" cy="505.3" r="3.35" fill="#fb6a4a" stroke="none" stroke-width="0"/>
</g>
<line x1="667.05" y1="337.4" x2="692.9" y2="337.4" stroke="#99000d" stroke-width="2.9"/>
<text x="700.8" y="340.85" font-size="11.57" text-anchor="start" letter-spacing="-0.2">12z 03 Nov</text>
<line x1="667.05" y1="351.4" x2="692.9" y2="351.4" stroke="#cb181d" stroke-width="2.9"/>
<text x="700.8" y="354.85" font-size="11.57" text-anchor="start" letter-spacing="-0.2">06z 03 Nov</text>
<line x1="667.05" y1="365.4" x2="692.9" y2="365.4" stroke="#ef3b2c" stroke-width="2.9"/>
<text x="700.8" y="368.85" font-size="11.57" text-anchor="start" letter-spacing="-0.2">00z 03 Nov</text>
<line x1="667.05" y1="379.4" x2="692.9" y2="379.4" stroke="#fb6a4a" stroke-width="2.9"/>
<text x="700.8" y="382.85" font-size="11.57" text-anchor="start" letter-spacing="-0.2">18z 02 Nov</text>
<line x1="667.05" y1="393.4" x2="692.9" y2="393.4" stroke="#fc9272" stroke-width="2.9"/>
<text x="700.8" y="396.85" font-size="11.57" text-anchor="start" letter-spacing="-0.2">12z 02 Nov</text>
<line x1="667.05" y1="407.4" x2="692.9" y2="407.4" stroke="#fcbba1" stroke-width="2.9"/>
<text x="700.8" y="410.85" font-size="11.57" text-anchor="start" letter-spacing="-0.2">06z 02 Nov</text>
<text x="1165" y="340.9" font-size="13.89" text-anchor="end" font-weight="bold">SST</text>
<rect x="661.5" y="324.5" width="509" height="243" fill="none" stroke="#000" stroke-width="1.1" stroke-linejoin="miter"/>
<line x1="658.4" y1="555.5" x2="661.5" y2="555.5" stroke="#000" stroke-width="1"/>
<line x1="658.4" y1="544.5" x2="661.5" y2="544.5" stroke="#000" stroke-width="1"/>
<line x1="658.4" y1="532.5" x2="661.5" y2="532.5" stroke="#000" stroke-width="1"/>
<line x1="658.4" y1="509.5" x2="661.5" y2="509.5" stroke="#000" stroke-width="1"/>
<line x1="658.4" y1="498.5" x2="661.5" y2="498.5" stroke="#000" stroke-width="1"/>
<line x1="658.4" y1="486.5" x2="661.5" y2="486.5" stroke="#000" stroke-width="1"/>
<line x1="658.4" y1="463.5" x2="661.5" y2="463.5" stroke="#000" stroke-width="1"/>
<line x1="658.4" y1="451.5" x2="661.5" y2="451.5" stroke="#000" stroke-width="1"/>
<line x1="658.4" y1="440.5" x2="661.5" y2="440.5" stroke="#000" stroke-width="1"/>
<line x1="658.4" y1="417.5" x2="661.5" y2="417.5" stroke="#000" stroke-width="1"/>
<line x1="658.4" y1="405.5" x2="661.5" y2="405.5" stroke="#000" stroke-width="1"/>
<line x1="658.4" y1="393.5" x2="661.5" y2="393.5" stroke="#000" stroke-width="1"/>
<line x1="658.4" y1="370.5" x2="661.5" y2="370.5" stroke="#000" stroke-width="1"/>
<line x1="658.4" y1="359.5" x2="661.5" y2="359.5" stroke="#000" stroke-width="1"/>
<line x1="658.4" y1="347.5" x2="661.5" y2="347.5" stroke="#000" stroke-width="1"/>
<line x1="658.4" y1="324.5" x2="661.5" y2="324.5" stroke="#000" stroke-width="1"/>
<line x1="654.5" y1="567.5" x2="661.5" y2="567.5" stroke="#000" stroke-width="1.2"/>
<text x="649" y="571.95" font-size="11.57" text-anchor="end" letter-spacing="-0.2">22</text>
<line x1="654.5" y1="521.5" x2="661.5" y2="521.5" stroke="#000" stroke-width="1.2"/>
<text x="649" y="525.66" font-size="11.57" text-anchor="end" letter-spacing="-0.2">24</text>
<line x1="654.5" y1="474.5" x2="661.5" y2="474.5" stroke="#000" stroke-width="1.2"/>
<text x="649" y="479.38" font-size="11.57" text-anchor="end" letter-spacing="-0.2">26</text>
<line x1="654.5" y1="428.5" x2="661.5" y2="428.5" stroke="#000" stroke-width="1.2"/>
<text x="649" y="433.09" font-size="11.57" text-anchor="end" letter-spacing="-0.2">28</text>
<line x1="654.5" y1="382.5" x2="661.5" y2="382.5" stroke="#000" stroke-width="1.2"/>
<text x="649" y="386.81" font-size="11.57" text-anchor="end" letter-spacing="-0.2">30</text>
<line x1="654.5" y1="336.5" x2="661.5" y2="336.5" stroke="#000" stroke-width="1.2"/>
<text x="649" y="340.52" font-size="11.57" text-anchor="end" letter-spacing="-0.2">32</text>
<line x1="661.5" y1="567.5" x2="661.5" y2="570.6" stroke="#000" stroke-width="1"/>
<line x1="674.5" y1="567.5" x2="674.5" y2="574.5" stroke="#000" stroke-width="1.2"/>
<text x="674.5" y="589.2" font-size="11.57" text-anchor="middle" letter-spacing="-0.2">30Oct</text>
<text x="674.5" y="604" font-size="11.57" text-anchor="middle" letter-spacing="-0.2">00z</text>
<line x1="686.5" y1="567.5" x2="686.5" y2="570.6" stroke="#000" stroke-width="1"/>
<line x1="699.5" y1="567.5" x2="699.5" y2="570.6" stroke="#000" stroke-width="1"/>
<line x1="712.5" y1="567.5" x2="712.5" y2="570.6" stroke="#000" stroke-width="1"/>
<line x1="725.5" y1="567.5" x2="725.5" y2="574.5" stroke="#000" stroke-width="1.2"/>
<text x="725.5" y="589.2" font-size="11.57" text-anchor="middle" letter-spacing="-0.2">31Oct</text>
<text x="725.5" y="604" font-size="11.57" text-anchor="middle" letter-spacing="-0.2">00z</text>
<line x1="737.5" y1="567.5" x2="737.5" y2="570.6" stroke="#000" stroke-width="1"/>
<line x1="750.5" y1="567.5" x2="750.5" y2="570.6" stroke="#000" stroke-width="1"/>
<line x1="763.5" y1="567.5" x2="763.5" y2="570.6" stroke="#000" stroke-width="1"/>
<line x1="776.5" y1="567.5" x2="776.5" y2="574.5" stroke="#000" stroke-width="1.2"/>
<text x="776.5" y="589.2" font-size="11.57" text-anchor="middle" letter-spacing="-0.2">01Nov</text>
<text x="776.5" y="604" font-size="11.57" text-anchor="middle" letter-spacing="-0.2">00z</text>
<line x1="788.5" y1="567.5" x2="788.5" y2="570.6" stroke="#000" stroke-width="1"/>
<line x1="801.5" y1="567.5" x2="801.5" y2="570.6" stroke="#000" stroke-width="1"/>
<line x1="814.5" y1="567.5" x2="814.5" y2="570.6" stroke="#000" stroke-width="1"/>
<line x1="826.5" y1="567.5" x2="826.5" y2="574.5" stroke="#000" stroke-width="1.2"/>
<text x="826.5" y="589.2" font-size="11.57" text-anchor="middle" letter-spacing="-0.2">02Nov</text>
<text x="826.5" y="604" font-size="11.57" text-anchor="middle" letter-spacing="-0.2">00z</text>
<line x1="839.5" y1="567.5" x2="839.5" y2="570.6" stroke="#000" stroke-width="1"/>
<line x1="852.5" y1="567.5" x2="852.5" y2="570.6" stroke="#000" stroke-width="1"/>
<line x1="865.5" y1="567.5" x2="865.5" y2="570.6" stroke="#000" stroke-width="1"/>
<line x1="877.5" y1="567.5" x2="877.5" y2="574.5" stroke="#000" stroke-width="1.2"/>
<text x="877.5" y="589.2" font-size="11.57" text-anchor="middle" letter-spacing="-0.2">03Nov</text>
<text x="877.5" y="604" font-size="11.57" text-anchor="middle" letter-spacing="-0.2">00z</text>
<line x1="890.5" y1="567.5" x2="890.5" y2="570.6" stroke="#000" stroke-width="1"/>
<line x1="903.5" y1="567.5" x2="903.5" y2="570.6" stroke="#000" stroke-width="1"/>
<line x1="916.5" y1="567.5" x2="916.5" y2="570.6" stroke="#000" stroke-width="1"/>
<line x1="928.5" y1="567.5" x2="928.5" y2="574.5" stroke="#000" stroke-width="1.2"/>
<text x="928.5" y="589.2" font-size="11.57" text-anchor="middle" letter-spacing="-0.2">04Nov</text>
<text x="928.5" y="604" font-size="11.57" text-anchor="middle" letter-spacing="-0.2">00z</text>
<line x1="941.5" y1="567.5" x2="941.5" y2="570.6" stroke="#000" stroke-width="1"/>
<line x1="954.5" y1="567.5" x2="954.5" y2="570.6" stroke="#000" stroke-width="1"/>
<line x1="966.5" y1="567.5" x2="966.5" y2="570.6" stroke="#000" stroke-width="1"/>
<line x1="979.5" y1="567.5" x2="979.5" y2="574.5" stroke="#000" stroke-width="1.2"/>
<text x="979.5" y="589.2" font-size="11.57" text-anchor="middle" letter-spacing="-0.2">05Nov</text>
<text x="979.5" y="604" font-size="11.57" text-anchor="middle" letter-spacing="-0.2">00z</text>
<line x1="992.5" y1="567.5" x2="992.5" y2="570.6" stroke="#000" stroke-width="1"/>
<line x1="1005.5" y1="567.5" x2="1005.5" y2="570.6" stroke="#000" stroke-width="1"/>
<line x1="1017.5" y1="567.5" x2="1017.5" y2="570.6" stroke="#000" stroke-width="1"/>
<line x1="1030.5" y1="567.5" x2="1030.5" y2="574.5" stroke="#000" stroke-width="1.2"/>
<text x="1030.5" y="589.2" font-size="11.57" text-anchor="middle" letter-spacing="-0.2">06Nov</text>
<text x="1030.5" y="604" font-size="11.57" text-anchor="middle" letter-spacing="-0.2">00z</text>
<line x1="1043.5" y1="567.5" x2="1043.5" y2="570.6" stroke="#000" stroke-width="1"/>
<line x1="1055.5" y1="567.5" x2="1055.5" y2="570.6" stroke="#000" stroke-width="1"/>
<line x1="1068.5" y1="567.5" x2="1068.5" y2="570.6" stroke="#000" stroke-width="1"/>
<line x1="1081.5" y1="567.5" x2="1081.5" y2="574.5" stroke="#000" stroke-width="1.2"/>
<text x="1081.5" y="589.2" font-size="11.57" text-anchor="middle" letter-spacing="-0.2">07Nov</text>
<text x="1081.5" y="604" font-size="11.57" text-anchor="middle" letter-spacing="-0.2">00z</text>
<line x1="1094.5" y1="567.5" x2="1094.5" y2="570.6" stroke="#000" stroke-width="1"/>
<line x1="1106.5" y1="567.5" x2="1106.5" y2="570.6" stroke="#000" stroke-width="1"/>
<line x1="1119.5" y1="567.5" x2="1119.5" y2="570.6" stroke="#000" stroke-width="1"/>
<line x1="1132.5" y1="567.5" x2="1132.5" y2="574.5" stroke="#000" stroke-width="1.2"/>
<text x="1132.5" y="589.2" font-size="11.57" text-anchor="middle" letter-spacing="-0.2">08Nov</text>
<text x="1132.5" y="604" font-size="11.57" text-anchor="middle" letter-spacing="-0.2">00z</text>
<line x1="1145.5" y1="567.5" x2="1145.5" y2="570.6" stroke="#000" stroke-width="1"/>
<line x1="1157.5" y1="567.5" x2="1157.5" y2="570.6" stroke="#000" stroke-width="1"/>
<line x1="1170.5" y1="567.5" x2="1170.5" y2="570.6" stroke="#000" stroke-width="1"/>
<text x="622" y="446" font-size="13.89" text-anchor="middle" transform="rotate(-90 622 446)">Sea Surface Temp (°C)</text>
<rect x="661.5" y="611.5" width="509" height="244" fill="#fff"/>
<rect x="661.5" y="733.5" width="509" height="61" fill="#cccccc"/>
<rect x="661.5" y="611.5" width="509" height="61" fill="#cccccc"/>
<clipPath id="c4"><rect x="661.5" y="611.5" width="509" height="244"/></clipPath>
<g clip-path="url(#c4)">
<line x1="839" y1="611.5" x2="839" y2="855.5" stroke="#fcbba1" stroke-width="2"/>
<line x1="852" y1="611.5" x2="852" y2="855.5" stroke="#fc9272" stroke-width="2"/>
<line x1="865" y1="611.5" x2="865" y2="855.5" stroke="#fb6a4a" stroke-width="2"/>
<line x1="877" y1="611.5" x2="877" y2="855.5" stroke="#ef3b2c" stroke-width="2"/>
<line x1="890" y1="611.5" x2="890" y2="855.5" stroke="#cb181d" stroke-width="2"/>
<line x1="903" y1="611.5" x2="903" y2="855.5" stroke="#99000d" stroke-width="2"/>
<polyline points="655,672 661.7,676 674,690 686.7,684 699.3,682.7 712.3,706.7 725,713.3 737.3,734.3 750.7,741.7 763.3,745 775.7,748.3 788.3,751 800.7,751 813.3,758.3 826.7,774 839,776.7 852.2,785" fill="none" stroke="#99000d" stroke-width="2.8" stroke-linejoin="round" stroke-linecap="round"/>
<polyline points="839.2,777 852.2,783 865,788.3 876.7,785.8 890,780 902.5,778 915,775.3 928.3,780 940.8,782.5 953.3,789.7 966.7,774.2 979.2,766.7 991.7,770 1004.2,765 1017.5,759.2" fill="none" stroke="#fcbba1" stroke-width="2.8" stroke-linejoin="round" stroke-linecap="round"/>
<polyline points="852.2,785 865,795 876.7,788.3 890,783.7 902.5,783.7 915,782.5 928.3,779.2 940.8,776.7 953.3,784.7 966.7,780 979.2,767.5 992.5,761.3" fill="none" stroke="#fc9272" stroke-width="2.8" stroke-linejoin="round" stroke-linecap="round"/>
<polyline points="865.3,796.3 876.7,790 890,785.8 902.5,783.7 915,783.7 929.2,783" fill="none" stroke="#fb6a4a" stroke-width="2.8" stroke-linejoin="round" stroke-linecap="round"/>
<polyline points="877.5,794.2 890,791.7 902.5,788.3 915,785.8 928.3,790" fill="none" stroke="#ef3b2c" stroke-width="2.8" stroke-linejoin="round" stroke-linecap="round"/>
<polyline points="890.3,788.3 902.5,788.3 915,788.3 928.3,792.5 941.7,792" fill="none" stroke="#cb181d" stroke-width="2.8" stroke-linejoin="round" stroke-linecap="round"/>
<polyline points="903,788.3 915,789.7 928.3,795.8 941.7,797.5" fill="none" stroke="#99000d" stroke-width="2.8" stroke-linejoin="round" stroke-linecap="round"/>
<circle cx="839.2" cy="777" r="3.35" fill="#fcbba1" stroke="none" stroke-width="0"/>
<circle cx="852.2" cy="785" r="3.35" fill="#fc9272" stroke="none" stroke-width="0"/>
<circle cx="865.3" cy="796.3" r="3.35" fill="#fb6a4a" stroke="none" stroke-width="0"/>
<circle cx="877.5" cy="794.2" r="3.35" fill="#ef3b2c" stroke="none" stroke-width="0"/>
<circle cx="890.3" cy="788.3" r="3.35" fill="#cb181d" stroke="none" stroke-width="0"/>
<circle cx="903" cy="788.3" r="3.35" fill="#99000d" stroke="none" stroke-width="0"/>
</g>
<line x1="667.05" y1="770.35" x2="692.9" y2="770.35" stroke="#99000d" stroke-width="2.9"/>
<text x="700.8" y="773.8" font-size="11.57" text-anchor="start" letter-spacing="-0.2">12z 03 Nov</text>
<line x1="667.05" y1="784.35" x2="692.9" y2="784.35" stroke="#cb181d" stroke-width="2.9"/>
<text x="700.8" y="787.8" font-size="11.57" text-anchor="start" letter-spacing="-0.2">06z 03 Nov</text>
<line x1="667.05" y1="799.35" x2="692.9" y2="799.35" stroke="#ef3b2c" stroke-width="2.9"/>
<text x="700.8" y="802.8" font-size="11.57" text-anchor="start" letter-spacing="-0.2">00z 03 Nov</text>
<line x1="667.05" y1="813.35" x2="692.9" y2="813.35" stroke="#fb6a4a" stroke-width="2.9"/>
<text x="700.8" y="816.8" font-size="11.57" text-anchor="start" letter-spacing="-0.2">18z 02 Nov</text>
<line x1="667.05" y1="827.35" x2="692.9" y2="827.35" stroke="#fc9272" stroke-width="2.9"/>
<text x="700.8" y="830.8" font-size="11.57" text-anchor="start" letter-spacing="-0.2">12z 02 Nov</text>
<line x1="667.05" y1="841.35" x2="692.9" y2="841.35" stroke="#fcbba1" stroke-width="2.9"/>
<text x="700.8" y="844.8" font-size="11.57" text-anchor="start" letter-spacing="-0.2">06z 02 Nov</text>
<text x="1164.8" y="628.2" font-size="13.89" text-anchor="end" font-weight="bold">Mid-Level RH</text>
<rect x="661.5" y="611.5" width="509" height="244" fill="none" stroke="#000" stroke-width="1.1" stroke-linejoin="miter"/>
<line x1="658.4" y1="840.5" x2="661.5" y2="840.5" stroke="#000" stroke-width="1"/>
<line x1="658.4" y1="825.5" x2="661.5" y2="825.5" stroke="#000" stroke-width="1"/>
<line x1="658.4" y1="809.5" x2="661.5" y2="809.5" stroke="#000" stroke-width="1"/>
<line x1="658.4" y1="779.5" x2="661.5" y2="779.5" stroke="#000" stroke-width="1"/>
<line x1="658.4" y1="764.5" x2="661.5" y2="764.5" stroke="#000" stroke-width="1"/>
<line x1="658.4" y1="748.5" x2="661.5" y2="748.5" stroke="#000" stroke-width="1"/>
<line x1="658.4" y1="718.5" x2="661.5" y2="718.5" stroke="#000" stroke-width="1"/>
<line x1="658.4" y1="703.5" x2="661.5" y2="703.5" stroke="#000" stroke-width="1"/>
<line x1="658.4" y1="687.5" x2="661.5" y2="687.5" stroke="#000" stroke-width="1"/>
<line x1="658.4" y1="657.5" x2="661.5" y2="657.5" stroke="#000" stroke-width="1"/>
<line x1="658.4" y1="642.5" x2="661.5" y2="642.5" stroke="#000" stroke-width="1"/>
<line x1="658.4" y1="626.5" x2="661.5" y2="626.5" stroke="#000" stroke-width="1"/>
<line x1="654.5" y1="855.5" x2="661.5" y2="855.5" stroke="#000" stroke-width="1.2"/>
<text x="649" y="859.95" font-size="11.57" text-anchor="end" letter-spacing="-0.2">20</text>
<line x1="654.5" y1="794.5" x2="661.5" y2="794.5" stroke="#000" stroke-width="1.2"/>
<text x="649" y="798.95" font-size="11.57" text-anchor="end" letter-spacing="-0.2">40</text>
<line x1="654.5" y1="733.5" x2="661.5" y2="733.5" stroke="#000" stroke-width="1.2"/>
<text x="649" y="737.95" font-size="11.57" text-anchor="end" letter-spacing="-0.2">60</text>
<line x1="654.5" y1="672.5" x2="661.5" y2="672.5" stroke="#000" stroke-width="1.2"/>
<text x="649" y="676.95" font-size="11.57" text-anchor="end" letter-spacing="-0.2">80</text>
<line x1="654.5" y1="611.5" x2="661.5" y2="611.5" stroke="#000" stroke-width="1.2"/>
<text x="649" y="615.95" font-size="11.57" text-anchor="end" letter-spacing="-0.2">100</text>
<line x1="661.5" y1="855.5" x2="661.5" y2="858.6" stroke="#000" stroke-width="1"/>
<line x1="674.5" y1="855.5" x2="674.5" y2="862.5" stroke="#000" stroke-width="1.2"/>
<text x="674.5" y="877.2" font-size="11.57" text-anchor="middle" letter-spacing="-0.2">30Oct</text>
<text x="674.5" y="892" font-size="11.57" text-anchor="middle" letter-spacing="-0.2">00z</text>
<line x1="686.5" y1="855.5" x2="686.5" y2="858.6" stroke="#000" stroke-width="1"/>
<line x1="699.5" y1="855.5" x2="699.5" y2="858.6" stroke="#000" stroke-width="1"/>
<line x1="712.5" y1="855.5" x2="712.5" y2="858.6" stroke="#000" stroke-width="1"/>
<line x1="725.5" y1="855.5" x2="725.5" y2="862.5" stroke="#000" stroke-width="1.2"/>
<text x="725.5" y="877.2" font-size="11.57" text-anchor="middle" letter-spacing="-0.2">31Oct</text>
<text x="725.5" y="892" font-size="11.57" text-anchor="middle" letter-spacing="-0.2">00z</text>
<line x1="737.5" y1="855.5" x2="737.5" y2="858.6" stroke="#000" stroke-width="1"/>
<line x1="750.5" y1="855.5" x2="750.5" y2="858.6" stroke="#000" stroke-width="1"/>
<line x1="763.5" y1="855.5" x2="763.5" y2="858.6" stroke="#000" stroke-width="1"/>
<line x1="776.5" y1="855.5" x2="776.5" y2="862.5" stroke="#000" stroke-width="1.2"/>
<text x="776.5" y="877.2" font-size="11.57" text-anchor="middle" letter-spacing="-0.2">01Nov</text>
<text x="776.5" y="892" font-size="11.57" text-anchor="middle" letter-spacing="-0.2">00z</text>
<line x1="788.5" y1="855.5" x2="788.5" y2="858.6" stroke="#000" stroke-width="1"/>
<line x1="801.5" y1="855.5" x2="801.5" y2="858.6" stroke="#000" stroke-width="1"/>
<line x1="814.5" y1="855.5" x2="814.5" y2="858.6" stroke="#000" stroke-width="1"/>
<line x1="826.5" y1="855.5" x2="826.5" y2="862.5" stroke="#000" stroke-width="1.2"/>
<text x="826.5" y="877.2" font-size="11.57" text-anchor="middle" letter-spacing="-0.2">02Nov</text>
<text x="826.5" y="892" font-size="11.57" text-anchor="middle" letter-spacing="-0.2">00z</text>
<line x1="839.5" y1="855.5" x2="839.5" y2="858.6" stroke="#000" stroke-width="1"/>
<line x1="852.5" y1="855.5" x2="852.5" y2="858.6" stroke="#000" stroke-width="1"/>
<line x1="865.5" y1="855.5" x2="865.5" y2="858.6" stroke="#000" stroke-width="1"/>
<line x1="877.5" y1="855.5" x2="877.5" y2="862.5" stroke="#000" stroke-width="1.2"/>
<text x="877.5" y="877.2" font-size="11.57" text-anchor="middle" letter-spacing="-0.2">03Nov</text>
<text x="877.5" y="892" font-size="11.57" text-anchor="middle" letter-spacing="-0.2">00z</text>
<line x1="890.5" y1="855.5" x2="890.5" y2="858.6" stroke="#000" stroke-width="1"/>
<line x1="903.5" y1="855.5" x2="903.5" y2="858.6" stroke="#000" stroke-width="1"/>
<line x1="916.5" y1="855.5" x2="916.5" y2="858.6" stroke="#000" stroke-width="1"/>
<line x1="928.5" y1="855.5" x2="928.5" y2="862.5" stroke="#000" stroke-width="1.2"/>
<text x="928.5" y="877.2" font-size="11.57" text-anchor="middle" letter-spacing="-0.2">04Nov</text>
<text x="928.5" y="892" font-size="11.57" text-anchor="middle" letter-spacing="-0.2">00z</text>
<line x1="941.5" y1="855.5" x2="941.5" y2="858.6" stroke="#000" stroke-width="1"/>
<line x1="954.5" y1="855.5" x2="954.5" y2="858.6" stroke="#000" stroke-width="1"/>
<line x1="966.5" y1="855.5" x2="966.5" y2="858.6" stroke="#000" stroke-width="1"/>
<line x1="979.5" y1="855.5" x2="979.5" y2="862.5" stroke="#000" stroke-width="1.2"/>
<text x="979.5" y="877.2" font-size="11.57" text-anchor="middle" letter-spacing="-0.2">05Nov</text>
<text x="979.5" y="892" font-size="11.57" text-anchor="middle" letter-spacing="-0.2">00z</text>
<line x1="992.5" y1="855.5" x2="992.5" y2="858.6" stroke="#000" stroke-width="1"/>
<line x1="1005.5" y1="855.5" x2="1005.5" y2="858.6" stroke="#000" stroke-width="1"/>
<line x1="1017.5" y1="855.5" x2="1017.5" y2="858.6" stroke="#000" stroke-width="1"/>
<line x1="1030.5" y1="855.5" x2="1030.5" y2="862.5" stroke="#000" stroke-width="1.2"/>
<text x="1030.5" y="877.2" font-size="11.57" text-anchor="middle" letter-spacing="-0.2">06Nov</text>
<text x="1030.5" y="892" font-size="11.57" text-anchor="middle" letter-spacing="-0.2">00z</text>
<line x1="1043.5" y1="855.5" x2="1043.5" y2="858.6" stroke="#000" stroke-width="1"/>
<line x1="1055.5" y1="855.5" x2="1055.5" y2="858.6" stroke="#000" stroke-width="1"/>
<line x1="1068.5" y1="855.5" x2="1068.5" y2="858.6" stroke="#000" stroke-width="1"/>
<line x1="1081.5" y1="855.5" x2="1081.5" y2="862.5" stroke="#000" stroke-width="1.2"/>
<text x="1081.5" y="877.2" font-size="11.57" text-anchor="middle" letter-spacing="-0.2">07Nov</text>
<text x="1081.5" y="892" font-size="11.57" text-anchor="middle" letter-spacing="-0.2">00z</text>
<line x1="1094.5" y1="855.5" x2="1094.5" y2="858.6" stroke="#000" stroke-width="1"/>
<line x1="1106.5" y1="855.5" x2="1106.5" y2="858.6" stroke="#000" stroke-width="1"/>
<line x1="1119.5" y1="855.5" x2="1119.5" y2="858.6" stroke="#000" stroke-width="1"/>
<line x1="1132.5" y1="855.5" x2="1132.5" y2="862.5" stroke="#000" stroke-width="1.2"/>
<text x="1132.5" y="877.2" font-size="11.57" text-anchor="middle" letter-spacing="-0.2">08Nov</text>
<text x="1132.5" y="892" font-size="11.57" text-anchor="middle" letter-spacing="-0.2">00z</text>
<line x1="1145.5" y1="855.5" x2="1145.5" y2="858.6" stroke="#000" stroke-width="1"/>
<line x1="1157.5" y1="855.5" x2="1157.5" y2="858.6" stroke="#000" stroke-width="1"/>
<line x1="1170.5" y1="855.5" x2="1170.5" y2="858.6" stroke="#000" stroke-width="1"/>
<text x="622" y="733.5" font-size="13.89" text-anchor="middle" transform="rotate(-90 622 733.5)">700-500 hPa Humidity (%)</text>
<rect x="66.5" y="335.5" width="509" height="509" fill="#fff"/>
<clipPath id="c5"><rect x="66.5" y="335.5" width="509" height="509"/></clipPath>
<g clip-path="url(#c5)">
<path d="M60,330 L580,330 L580,384.3 L574.7,384.3 L572.92,384.33 L571.47,385.41 L569.8,385.8 L568.3,388.6 L566.7,389.28 L565.77,390.63 L565.4,392.54 L563.13,392.55 L562.6,394.3 L561.68,396.09 L561.17,397.98 L561.2,400 L558.9,401.1 L558.79,403.21 L557.52,404.87 L556.7,406.7 L555.74,408.48 L554.4,410 L552.28,410.02 L550.64,411.23 L548.9,412.2 L547.64,413.44 L547.52,415.24 L546.7,416.7 L545.95,418.39 L544.37,419.39 L543.93,421.32 L542.2,422.2 L540.15,422.39 L538.45,423.45 L536.7,424.4 L534.87,424.54 L533.44,425.8 L531.4,425.32 L530,426.7 L529.67,428.67 L530.24,430.46 L531.1,432.2 L531.92,433.79 L531.71,435.54 L532.74,437.09 L532.2,438.9 L531.17,440.81 L529.03,441.6 L527.8,443.3 L526.1,442.55 L524.39,441.83 L522.4,442.65 L520.64,442.25 L518.9,441.7 L520.4,442.96 L522.2,443.88 L523.3,445.6 L525.18,445.52 L526.66,446.66 L528.48,446.78 L530,447.8 L528.9,449.31 L528.45,451.15 L526.99,452.48 L526.7,454.4 L525.07,455.24 L524.11,456.91 L522.13,457.31 L521.1,458.9 L519.38,459.57 L518.48,461.26 L517.21,462.5 L515.6,463.3 L514.2,464.6 L513.85,466.69 L512.2,467.8 L511.21,469.56 L510.08,471.18 L507.71,471.56 L506.7,473.3 L505.35,474.45 L504.18,475.74 L502.95,477 L502.28,478.71 L501.1,480 L498.93,479.33 L496.7,478.9 L495.31,480.31 L493.66,481.17 L491.54,481.1 L490,482.2 L490.62,484.22 L491.02,486.3 L491.7,488.3 L489.72,489.17 L488.3,490.8 L486.89,491.66 L485.74,492.83 L484.48,493.87 L483.3,495 L481.86,496.53 L480,497.5 L478.61,498.87 L476.7,498.74 L475,499.2 L473.97,500.61 L472.42,501.33 L470.6,501.69 L469.93,503.58 L468.3,504.2 L466.76,505.25 L465.03,505.12 L463.3,505 L462.8,506.63 L461.4,507.76 L460.74,509.3 L460,510.8 L458.26,510.52 L456.61,510.96 L455,511.64 L453.3,511.7 L452.6,513.32 L453.63,515.08 L453.76,516.77 L453.5,518.43 L452.23,520 L452.5,521.7 L450.67,521.93 L448.87,522.63 L446.98,522.18 L445.19,522.96 L443.3,522.5 L441.49,523.01 L440.04,524.24 L438.45,525.17 L436.7,525.8 L434.71,525.51 L433.02,524.33 L431,524.16 L429.2,523.3 L427.35,524.33 L425.37,524.58 L423.3,524.2 L421.36,524.05 L419.74,524.76 L418.22,525.74 L416.7,526.7 L415.06,527.28 L413.26,526.18 L411.61,526.68 L409.94,526.95 L408.3,527.5 L406.56,528.09 L404.88,528.89 L403,529 L402.1,530.58 L399.9,530.42 L399.05,532.06 L397.99,533.43 L396.54,534.28 L395,535 L393.38,534.36 L391.51,534.56 L390.21,532.89 L388.49,532.55 L386.7,532.5 L386.67,530.79 L385.76,529.31 L385.69,527.61 L385.2,526.02 L384.91,524.38 L383.51,523.02 L383.68,521.26 L382.61,519.82 L383,518 L381.33,518.01 L379.67,518.31 L378,518 L376.85,519.53 L375.4,520.59 L373.41,520.87 L372.33,522.49 L370.08,522.36 L369,524 L368.53,525.54 L368.61,527.2 L367.85,528.68 L368.53,530.46 L366.55,531.69 L367.06,533.44 L366.7,535 L365.13,535.84 L364.81,537.93 L363.08,538.62 L361.87,539.81 L360.09,540.44 L359.34,542.11 L358.26,543.43 L357.31,544.9 L355.8,545.8 L354.34,546.55 L352.7,546.68 L351.2,547.28 L349.87,548.45 L347.92,547.52 L346.34,547.86 L345,549 L343.54,550.16 L341.65,549.99 L340.24,551.29 L338.26,550.87 L336.7,551.7 L335.5,552.87 L333.75,553.12 L332.29,553.85 L330.85,554.62 L330.06,556.47 L328.3,556.7 L322,557.3 L316.7,558.7 L310,560 L304.7,562 L300.7,565.3 L298.7,562 L295.3,562.7 L294.7,568 L290.7,573.3 L292,581.3 L299.3,586.7 L298.7,588 L293.3,590.7 L286.7,590 L283.3,585.3 L283.3,580 L281.3,575.3 L280,572 L280.7,569.3 L283.3,565.3 L286,562 L283.3,559.3 L278.7,557.3 L276,553.3 L274,556 L270,558 L265,558 L255,553 L250,549 L246,551 L238,558 L230,560 L222.2,566.2 L212.9,570.9 L205.1,575.6 L200.4,583.3 L195.8,591.1 L186.4,597.3 L181.8,603.5 L180.2,611.3 L177.1,619.1 L175.6,623.8 L178.7,630 L183.3,637.8 L189.5,644 L195.8,650.2 L195.8,654.9 L200.4,661.1 L206.7,667.3 L212.9,675.1 L219.1,682.9 L226.9,689.1 L234.7,695.3 L242,699.5 L250.9,707.3 L257.4,718.7 L261.1,729.8 L265.7,740.8 L267.6,757.4 L270.3,768.5 L272.2,777.7 L268.5,783.2 L266.6,790.6 L266.6,805.3 L264.8,810.9 L257.4,816.4 L250,823.8 L239,829.3 L227.9,834.8 L216.9,840.4 L211.3,842.2 L207.6,844 L207.6,850 L149,850 L149,844 L146,841 L136,840 L130,839 L124,837 L126,834 L127,828 L123,823 L120,825 L113,829 L113,820 L112,816 L110,809 L104,802 L100,799 L94,798 L91,793 L86,788 L81,785 L76,783.5 L67.2,785 L60,785 Z" fill="#cccccc" stroke="none"/>
<path d="M253.3,616.7 L253.3,621.3 L253.3,627.3 L254.7,635.3 L262,638.7 L266.7,640.7 L277.3,642.7 L280,639.3 L286.7,636.7 L293.3,631.3 L298,629.3 L298.7,624.7 L300.7,621.3 L300,619.3 L302.7,614.7 L306,611.3 L309.3,607.3 L311.7,605.3 L310.7,599.3 L304,596 L302.7,600 L298,598 L293.3,597.3 L291.3,600.7 L286.7,600 L277.3,599.3 L276.7,602 L270,602 L268,604 L262,609.3 L254,615.3 Z" fill="#cccccc" stroke="none"/>
<path d="M580,468.3 L575,468.3 L568.9,470 L565.6,474.4 L560,481.1 L555.6,487.8 L552.2,493.3 L547.8,501.1 L545.6,507.8 L544.4,516.7 L546.7,524.4 L550,531.1 L555.6,536.7 L558.9,541.1 L560,546.7 L562.2,547.8 L563.3,542.2 L563.3,537.8 L567.8,531.1 L572.2,525.6 L574.4,521.1 L580,520 Z" fill="#cccccc" stroke="none"/>
<path d="M580,634 L570,633.5 L566,635 L562,633.5 L557,636.5 L555,644 L553.8,654.6 L552.5,665 L551.6,682 L546,686 L540,689 L537.4,690.2 L536,698.4 L540,704 L544.2,709.3 L547,720.2 L552.4,731.1 L559.2,742 L566,741 L570,744 L580,744 Z" fill="#cccccc" stroke="none"/>
<path d="M580,748 L570,748 L563,747 L559.2,749 L562,758.5 L556,761 L551,764 L556,770 L559.2,775 L564.7,785.8 L570.2,794 L575,797 L580,797 Z" fill="#cccccc" stroke="none"/>
<path d="M529.5,818.3 L527.6,827.5 L525.8,836.7 L522,843 L524,846 L533.2,846 L533.2,842.2 L532.3,833 L531,822 Z" fill="#cccccc" stroke="none"/>
<circle cx="539.6" cy="796" r="1.3" fill="#cccccc" stroke="none" stroke-width="0"/>
<path d="M545,335 L552.5,335 L551,337.8 L547,339.2 Z M557,335 L576,335 L572,338 L566,339.5 L562,341.5 L559,342.5 L557.5,339.8 Z" fill="#fff"/>
<line x1="569.5" y1="372.5" x2="575.5" y2="377.5" stroke="#fff" stroke-width="1.2"/>
<clipPath id="landclip"><path d="M60,330 L580,330 L580,384.3 L574.7,384.3 L572.92,384.33 L571.47,385.41 L569.8,385.8 L568.3,388.6 L566.7,389.28 L565.77,390.63 L565.4,392.54 L563.13,392.55 L562.6,394.3 L561.68,396.09 L561.17,397.98 L561.2,400 L558.9,401.1 L558.79,403.21 L557.52,404.87 L556.7,406.7 L555.74,408.48 L554.4,410 L552.28,410.02 L550.64,411.23 L548.9,412.2 L547.64,413.44 L547.52,415.24 L546.7,416.7 L545.95,418.39 L544.37,419.39 L543.93,421.32 L542.2,422.2 L540.15,422.39 L538.45,423.45 L536.7,424.4 L534.87,424.54 L533.44,425.8 L531.4,425.32 L530,426.7 L529.67,428.67 L530.24,430.46 L531.1,432.2 L531.92,433.79 L531.71,435.54 L532.74,437.09 L532.2,438.9 L531.17,440.81 L529.03,441.6 L527.8,443.3 L526.1,442.55 L524.39,441.83 L522.4,442.65 L520.64,442.25 L518.9,441.7 L520.4,442.96 L522.2,443.88 L523.3,445.6 L525.18,445.52 L526.66,446.66 L528.48,446.78 L530,447.8 L528.9,449.31 L528.45,451.15 L526.99,452.48 L526.7,454.4 L525.07,455.24 L524.11,456.91 L522.13,457.31 L521.1,458.9 L519.38,459.57 L518.48,461.26 L517.21,462.5 L515.6,463.3 L514.2,464.6 L513.85,466.69 L512.2,467.8 L511.21,469.56 L510.08,471.18 L507.71,471.56 L506.7,473.3 L505.35,474.45 L504.18,475.74 L502.95,477 L502.28,478.71 L501.1,480 L498.93,479.33 L496.7,478.9 L495.31,480.31 L493.66,481.17 L491.54,481.1 L490,482.2 L490.62,484.22 L491.02,486.3 L491.7,488.3 L489.72,489.17 L488.3,490.8 L486.89,491.66 L485.74,492.83 L484.48,493.87 L483.3,495 L481.86,496.53 L480,497.5 L478.61,498.87 L476.7,498.74 L475,499.2 L473.97,500.61 L472.42,501.33 L470.6,501.69 L469.93,503.58 L468.3,504.2 L466.76,505.25 L465.03,505.12 L463.3,505 L462.8,506.63 L461.4,507.76 L460.74,509.3 L460,510.8 L458.26,510.52 L456.61,510.96 L455,511.64 L453.3,511.7 L452.6,513.32 L453.63,515.08 L453.76,516.77 L453.5,518.43 L452.23,520 L452.5,521.7 L450.67,521.93 L448.87,522.63 L446.98,522.18 L445.19,522.96 L443.3,522.5 L441.49,523.01 L440.04,524.24 L438.45,525.17 L436.7,525.8 L434.71,525.51 L433.02,524.33 L431,524.16 L429.2,523.3 L427.35,524.33 L425.37,524.58 L423.3,524.2 L421.36,524.05 L419.74,524.76 L418.22,525.74 L416.7,526.7 L415.06,527.28 L413.26,526.18 L411.61,526.68 L409.94,526.95 L408.3,527.5 L406.56,528.09 L404.88,528.89 L403,529 L402.1,530.58 L399.9,530.42 L399.05,532.06 L397.99,533.43 L396.54,534.28 L395,535 L393.38,534.36 L391.51,534.56 L390.21,532.89 L388.49,532.55 L386.7,532.5 L386.67,530.79 L385.76,529.31 L385.69,527.61 L385.2,526.02 L384.91,524.38 L383.51,523.02 L383.68,521.26 L382.61,519.82 L383,518 L381.33,518.01 L379.67,518.31 L378,518 L376.85,519.53 L375.4,520.59 L373.41,520.87 L372.33,522.49 L370.08,522.36 L369,524 L368.53,525.54 L368.61,527.2 L367.85,528.68 L368.53,530.46 L366.55,531.69 L367.06,533.44 L366.7,535 L365.13,535.84 L364.81,537.93 L363.08,538.62 L361.87,539.81 L360.09,540.44 L359.34,542.11 L358.26,543.43 L357.31,544.9 L355.8,545.8 L354.34,546.55 L352.7,546.68 L351.2,547.28 L349.87,548.45 L347.92,547.52 L346.34,547.86 L345,549 L343.54,550.16 L341.65,549.99 L340.24,551.29 L338.26,550.87 L336.7,551.7 L335.5,552.87 L333.75,553.12 L332.29,553.85 L330.85,554.62 L330.06,556.47 L328.3,556.7 L322,557.3 L316.7,558.7 L310,560 L304.7,562 L300.7,565.3 L298.7,562 L295.3,562.7 L294.7,568 L290.7,573.3 L292,581.3 L299.3,586.7 L298.7,588 L293.3,590.7 L286.7,590 L283.3,585.3 L283.3,580 L281.3,575.3 L280,572 L280.7,569.3 L283.3,565.3 L286,562 L283.3,559.3 L278.7,557.3 L276,553.3 L274,556 L270,558 L265,558 L255,553 L250,549 L246,551 L238,558 L230,560 L222.2,566.2 L212.9,570.9 L205.1,575.6 L200.4,583.3 L195.8,591.1 L186.4,597.3 L181.8,603.5 L180.2,611.3 L177.1,619.1 L175.6,623.8 L178.7,630 L183.3,637.8 L189.5,644 L195.8,650.2 L195.8,654.9 L200.4,661.1 L206.7,667.3 L212.9,675.1 L219.1,682.9 L226.9,689.1 L234.7,695.3 L242,699.5 L250.9,707.3 L257.4,718.7 L261.1,729.8 L265.7,740.8 L267.6,757.4 L270.3,768.5 L272.2,777.7 L268.5,783.2 L266.6,790.6 L266.6,805.3 L264.8,810.9 L257.4,816.4 L250,823.8 L239,829.3 L227.9,834.8 L216.9,840.4 L211.3,842.2 L207.6,844 L207.6,850 L149,850 L149,844 L146,841 L136,840 L130,839 L124,837 L126,834 L127,828 L123,823 L120,825 L113,829 L113,820 L112,816 L110,809 L104,802 L100,799 L94,798 L91,793 L86,788 L81,785 L76,783.5 L67.2,785 L60,785 Z M253.3,616.7 L253.3,621.3 L253.3,627.3 L254.7,635.3 L262,638.7 L266.7,640.7 L277.3,642.7 L280,639.3 L286.7,636.7 L293.3,631.3 L298,629.3 L298.7,624.7 L300.7,621.3 L300,619.3 L302.7,614.7 L306,611.3 L309.3,607.3 L311.7,605.3 L310.7,599.3 L304,596 L302.7,600 L298,598 L293.3,597.3 L291.3,600.7 L286.7,600 L277.3,599.3 L276.7,602 L270,602 L268,604 L262,609.3 L254,615.3 Z M580,468.3 L575,468.3 L568.9,470 L565.6,474.4 L560,481.1 L555.6,487.8 L552.2,493.3 L547.8,501.1 L545.6,507.8 L544.4,516.7 L546.7,524.4 L550,531.1 L555.6,536.7 L558.9,541.1 L560,546.7 L562.2,547.8 L563.3,542.2 L563.3,537.8 L567.8,531.1 L572.2,525.6 L574.4,521.1 L580,520 Z M580,634 L570,633.5 L566,635 L562,633.5 L557,636.5 L555,644 L553.8,654.6 L552.5,665 L551.6,682 L546,686 L540,689 L537.4,690.2 L536,698.4 L540,704 L544.2,709.3 L547,720.2 L552.4,731.1 L559.2,742 L566,741 L570,744 L580,744 Z M580,748 L570,748 L563,747 L559.2,749 L562,758.5 L556,761 L551,764 L556,770 L559.2,775 L564.7,785.8 L570.2,794 L575,797 L580,797 Z M529.5,818.3 L527.6,827.5 L525.8,836.7 L522,843 L524,846 L533.2,846 L533.2,842.2 L532.3,833 L531,822 Z"/></clipPath>
<g clip-path="url(#landclip)" fill="none" stroke="#ffffff" stroke-width="1.05" stroke-linejoin="round">
<polyline points="177.1,336 174.8,339.1 176.63,341.17 178.7,343 177.37,345.17 177.1,347.7 174.98,348.33 173.37,349.99 171.38,350.88 169.3,351.6 167.68,353.67 167,356.2 169.06,357.28 169.82,359.65 171.7,360.9 173.71,361.58 175.84,361.39 177.9,361.7 178.93,363.67 179.72,365.73 180.2,367.9 182.7,368.74 184.9,370.2 186.99,370.89 189.03,371.74 191.1,372.5 192.18,375.28 193.4,378 193.12,380.47 194.2,382.7 196.04,381.39 197.3,379.5 197.47,376.8 197.3,374.1 198.9,375.84 201.2,376.4 201.99,379.09 202,381.9 204.3,382.7 204.66,380.43 206.05,378.56 206.7,376.4 208.64,374.32 211.3,373.3 213.45,371.93 216,371.8 219.1,373.3 220.15,371.24 221.12,369.15 222.2,367.1 223,364 226.9,364.8 228.64,366.1 230.8,366.3 232.3,369.4 235.1,368.82 237.8,367.9 239.87,367.92 241.93,367.9 244,367.9 244.85,370.16 245.67,372.42 245.5,374.9 247.75,376.55 249.4,378.8 250.37,380.89 251.8,382.7 253.32,384.81 254.1,387.3 256.87,388.33 259.5,389.7 261.85,389.01 264.2,389.7 265.43,387.93 265.8,385.8 266.1,383.68 267.3,381.9 267.24,379.53 268.36,377.29 268.1,374.9 268.38,372.3 269.12,369.75 268.9,367.1"/>
<polyline points="268.9,367.1 267.48,365.4 266.02,363.74 263.82,362.82 262.7,360.82 261.1,359.3 259.56,357.37 258.4,355.12 256.3,353.65 254.9,351.6 252.63,349.89 250.2,348.4 247.1,347.7 247.72,345.44 249.4,343.8 249.41,341.19 249.49,338.58 249.9,336"/>
<polyline points="268.9,367.1 268.92,364.41 270.33,361.98 270.4,359.3 271.83,357.13 274.07,355.57 275.1,353.1 277.1,352.44 279.05,351.69 281.02,350.95 282.9,350 285.22,350.25 287.55,349.51 289.88,349.92 292.2,350 294.67,350.45 296.9,351.6 300,350 300.93,347.89 301.6,345.64 303.73,344.15 304.2,341.8 306.35,341.82 308.3,342.86 310.47,342.77 312.38,343.97 314.51,344.09 316.73,343.78 318.7,344.7 320.86,345.18 323.02,345.32 325.19,345.27 327.35,344.8 329.51,344.2 331.68,344.27 333.84,345.3 336,344.7 337.9,345.72 340.06,346.2 341.56,348.03 343.65,348.68 345.62,349.54 347.6,350.4 349.94,350.81 352.23,351.44 354.59,351.79 356.96,352.09 359.1,353.3 361.55,353.23 363.73,352.1 366.08,351.62 368.32,350.74 370.7,350.4 372.85,350.75 375,349.74 377.15,350.22 379.3,350.4 380.52,352.56 380.97,354.91 380.41,357.52 381.41,359.73 382.2,362 384,363.08 385.66,364.35 387.13,365.91 389.28,366.46 390.9,367.8"/>
<polyline points="268.9,367.1 268.77,369.1 268.64,371.1 269.1,373.1 268.87,375.1 268.53,377.1 268.33,379.1 268.9,381.1 269.88,383.61 269.3,386.41 270.4,388.9 271.09,390.97 270.05,393.03 270.4,395.1 270.58,397.37 272.09,399.26 272.31,401.52 272.8,403.7 271.16,404.95 270.72,407.21 268.9,408.3 267.22,409.46 265.5,410.58 264.2,412.2 261.84,413.73 259.5,415.3 257.2,417.7 261.1,416.9 263.73,416.95 266.26,415.99 268.9,416.1 271.77,416.86 274.3,418.4 274.76,420.44 275.28,422.48 275.1,424.6 273.97,426.3 272.02,427.33 271.2,429.3 270.57,431.34 270.35,433.49 269.6,435.5 270.51,437.36 270.2,439.59 271.47,441.33 272,443.3 273.9,444.48 276.13,444.39 278.2,444.9 280.5,448 281.73,445.66 282.9,443.3 285.37,443.08 287.5,441.8 289.66,443.63 292.2,444.9 294.61,443.44 296.9,441.8 298.29,440.16 300.22,439.03 301.3,437.1 303.61,436.7 306.01,437.13 308.19,435.66 310.57,435.88 312.9,435.7 314.62,437.16 315.98,439.07 318.34,439.75 319.59,441.79 321.6,442.9 321.63,445.23 321.86,447.54 322.26,449.82 322.06,452.18 323,454.4 322,456.46 320.72,458.34 319.75,460.42 318.73,462.47 317.34,464.28 315.8,466 314.31,467.67 313.44,469.65 312.9,471.8 315.07,471.26 317.25,471.95 319.43,471.77 321.6,471.8 323.25,473.07 324.92,474.3 326.91,475.06 328.12,476.98 330.2,477.6 332.38,477.55 334.55,477.78 336.72,477.79 338.9,477.6"/>
<polyline points="272,443.3 271.64,445.41 271.02,447.43 269.79,449.2 268.9,451.1 266.49,451.14 264.2,451.9 262.3,453.58 261.1,455.8 260.6,453.73 259.5,451.9 257.72,453.66 255.06,454.01 253.3,455.8 251.4,457.86 250.2,460.4 248.26,459.39 246.07,459.37 244,458.9 241.33,459.96 239.3,462 239.15,464.5 237.8,466.6 235.7,467.26 233.6,467.27 231.5,466.6 229.31,466.16 227.24,465.4 225.3,464.3 223.48,463.33 222.29,461.63 220.7,460.4 218.6,458.86 217.5,456.5 215.4,456.91 213.48,458.02 211.3,458.1 210.31,460.73 209.8,463.5 208.1,464.9 206,465.3 203.72,465.25 202,466.6 200.03,467.33 197.94,467.74 196.07,468.72 194.2,469.7 191.76,471.17 189.5,472.9 188.74,474.84 187.16,476.24 186.66,478.36 185,479.7 183.29,478.36 181.49,477.19 179.3,476.8 177.6,475.64 175.33,475.99 173.6,474.91 171.8,474 169.81,473.54 167.81,473.11 166.16,471.73 164.2,471.2 161.81,471.54 159.76,472.93 157.26,472.94 155.03,473.76 152.9,474.9 151.24,476.33 148.93,476.5 147.2,477.8"/>
<polyline points="147.2,477.8 147.67,479.94 149.1,481.6 151.3,483.15 152.9,485.3 155.4,485.4 157.9,485.49 160.4,485.3 161.72,486.83 163.65,487.75 164.52,489.73 166.1,491 167.93,491.93 169.73,492.94 171.64,493.67 173.79,493.82 175.6,494.8 178.14,494.77 180.67,494.64 183.1,493.8 184.75,495.26 187.11,495.31 188.8,496.7 187.36,499.04 184.85,500.28 183.1,502.3 181.47,504.04 179.3,505.08 177.1,506.08 175.6,508 173.79,509.32 171.98,510.64 169.93,511.58 168,512.7"/>
<polyline points="131,411.1 129.84,412.93 129.57,415.22 128.1,416.9 129.01,419.76 129.6,422.7 129.35,425.73 128.1,428.5 129.51,430.35 130.92,432.22 132.97,433.48 134.55,435.18 136,437 137.56,438.8 139.5,440.25 141.06,442.04 142.58,443.88 144,445.8 143.73,447.88 143.91,450.03 143,452 143.68,454.16 144.9,456.05 146,458 148.64,459.26 151,461 152.21,463.28 151.91,465.96 152.9,468.3 152.2,470.47 151.06,472.36 149.92,474.27 148.84,476.2 147.2,477.8"/>
<polyline points="60,540 62.43,540.2 64.63,538.96 66.98,538.65 69.43,539.02 71.7,538.2 73.64,537.42 75.24,535.94 77.3,535.4 79.84,535.61 82.3,536.53 84.9,536.3 86.36,534.91 88.22,534.03 89.25,532.11 91.37,531.55 92.97,530.35 94.3,528.8 96.03,529.98 98.01,530.55 100.07,530.91 102.13,531.27 103.8,532.6 106.29,533.23 108.72,534.15 111.3,534.4 112.4,532.47 113.9,530.89 115.61,529.48 117,527.8 118.68,529.67 120.44,531.42 122.7,532.6 123.16,530.01 124.6,527.8 127.16,527.7 129.54,528.88 132.1,528.8 134.06,528.36 136,527.83 137.8,526.9 140.13,528.21 142.65,528.76 145.3,528.8 147.41,528.28 149.1,526.9 151.22,525.96 152.82,524.24 154.8,523.1 156.36,521.34 157.25,519.09 159.29,517.69 160.4,515.6 162.43,515.21 164.31,514.44 166.07,513.35 168,512.7 169.4,514.16 170.62,515.76 171.8,517.4 174.03,518.13 175.26,520.33 177.4,521.2 179.76,521.73 182.18,522 184.51,522.69 186.9,523.1 189.11,523.79 191.45,523.7 193.6,524.7 195.84,525.2 198.2,525 200.77,525.48 203.39,525.77 205.8,526.9 204.52,528.61 203.28,530.34 203.39,532.75 202,534.4 202.34,537.01 202.82,539.58 203.9,542 205.42,543.89 207.97,544.43 209.87,545.82 211.4,547.7 212.95,549.41 215.47,549.48 217.33,550.67 218.95,552.27 220.9,553.3 222.8,553.95 224.52,555.08 226.68,555.07 228.4,556.2"/>
<polyline points="338.9,477.6 338.02,479.82 338.69,482.25 337.63,484.45 338.3,486.88 337.4,489.1 336.76,491.29 336.66,493.65 335.61,495.72 334.93,497.9 334,500 332.55,501.42 331.65,503.24 330.9,505.17 328.65,505.98 328,508 326.23,509.44 324.87,511.18 324,513.3 322.66,515.28 320.91,516.88 319.48,518.78 317.99,520.62 316,522 315.18,524.03 313.34,525.23 312.42,527.18 311.04,528.75 308.97,529.75 308.05,531.7 306.7,533.3 305.48,535.14 303.47,536.19 302.35,538.12 300.56,539.39 299.27,541.16 297.51,542.46 296,544 294.35,545.19 292.91,546.62 291.51,548.1 289.62,549.01 288.01,550.25 287.12,552.31 285.3,553.3 283.9,555.46 282.15,557.28 280,558.7"/>
<polyline points="338.9,477.6 340.26,475.64 340.94,473.45 340.72,470.96 341.8,468.9 344.26,468.96 346.3,467.34 348.7,467.17 351,466.58 353.3,466 355.49,465.55 356.88,463.49 359.1,463.1 360.92,461.9 363.03,461.29 364.9,460.2 367.2,459.59 369.5,459.83 371.8,460.15 374.1,460.73 376.4,460.2 378.67,460.86 380.98,461.26 383.31,461.46 385.64,461.69 388,461.7 390.36,462.39 392.78,462.35 395.2,462.3 397.4,462.63 399.6,462.02 401.8,461.83 404,462.3 405.31,464.71 407.2,466.7 406.21,468.62 404.05,469.57 403.05,471.49 401.8,473.2 400.32,475 398.07,476.01 397.19,478.42 395.2,479.7 397.39,481.37 399.6,483 401.61,481.79 404.15,482.3 406.17,481.12 408.44,480.77 410.5,479.7 412.61,478.87 414.97,479.04 417.12,478.38 419.28,477.76 421.57,477.65 423.6,476.5 425.81,477.21 427.99,477.99 430.03,479.15 432.3,479.7 433.45,477.68 433.48,475.3 434.4,473.2 436.53,473.87 438.84,473.68 440.93,474.59 443.05,475.33 445.3,475.4 447.7,475.69 449.54,477.42 452.09,477.35 453.78,479.44 456.2,479.7 457.7,481.88 459.24,484.03 460.6,486.3 461.11,488.58 462.17,490.66 462.7,492.94 463.8,495 465.01,496.77 465.04,498.95 465.7,500.91 465.87,503.03 467.1,504.8"/>
<polyline points="390.9,367.8 392.16,369.66 392.26,371.88 392.68,374.01 393.5,376 392.93,377.98 393.08,380.14 391.87,381.97 391.88,384.09 391,386 390.11,388.23 388.05,389.72 387.61,392.22 386,394 385.26,396.22 384.07,398.28 383.33,400.5 382.73,402.77 382,405 382.08,407.34 383.05,409.49 383.34,411.79 384,414 383.96,416.09 384.56,418.05 385.01,420.04 385.73,421.97 386,424 386.67,426.28 387.64,428.45 387.93,430.86 389,433 389.66,434.96 390.05,436.99 390.15,439.09 391,441 390.25,443.25 389.72,445.57 388.32,447.61 388,450 387.97,452.22 387.12,454.36 387,456.56 387.27,458.81 387,461"/>
<polyline points="386.5,366.5 388.87,365.28 390.54,363.02 393.1,362.1 395.22,361.1 397.65,360.85 399.68,359.62 401.85,358.74 404,357.8 406.25,357.13 408.41,356.27 410.52,355.27 412.6,354.18 414.8,353.4 416.42,352.1 418.3,351.34 420.12,350.44 422.02,349.71 424.19,349.53 425.7,348 427.9,348.01 430.07,348.37 432.26,348.48 434.41,348.99 436.6,349.1 438.93,349.16 441.08,348.53 443.08,347.28 445.3,346.9 447.36,345.77 449.84,345.75 451.82,344.42 454,343.6 456.12,344.58 458.59,344.5 460.6,345.8 459.02,348.31 458.4,351.2 460.72,352.07 462.8,353.4 464.42,351.77 465.75,349.85 467.6,348.45 469.3,346.9 471.39,347.72 473.56,348.09 475.8,348 477.47,349.32 478.86,350.99 480.79,352 482.4,353.4 484.61,353.89 486.7,354.78 489,354.98 491.12,355.79 493.2,356.7 495.45,356.62 497.66,356.34 499.8,355.6 501.17,353.8 503.48,353.26 505.29,352.06 506.71,350.34 508.5,349.1 509.03,346.65 510.88,344.86 511.41,342.42 512.8,340.4 513.54,338.25 513.9,336"/>
<polyline points="441,336 441.61,338.15 441.69,340.4 442.65,342.47 442.79,344.71 443.2,346.9"/>
<polyline points="200.2,335 201.57,337.27 203,339.5 205.5,342.2 207.67,342.38 209.83,341.78 212,342.2 213.97,341.04 215,339 216.26,336.82 218,335"/>
<polyline points="493.2,356.7 492.76,359.31 492.13,361.86 491.1,364.3 493.15,365.5 494.43,367.47 495.71,369.44 497.6,370.8 498.15,373.1 499.65,375.05 500.55,377.22 500.9,379.6 501.51,382.1 501.26,384.72 502,387.2 499.81,388.81 497.6,390.4 495.21,390.67 493.17,391.85 491.01,392.72 488.9,393.7 486.56,394.47 484.41,395.59 482.4,397 480.16,396.85 477.94,396.6 475.8,395.9 473.7,397.62 471.5,399.2 470.41,401.37 469.75,403.76 468.2,405.7 467.91,408.25 467.27,410.74 467.1,413.3 465.8,415.06 464.18,416.44 462.52,417.77 460.6,418.8 458.57,420.49 455.85,421.13 454,423.1 454.12,425.43 453.38,427.55 452.88,429.74 451.9,431.8 451.2,434.01 451.08,436.41 449.7,438.4 448.65,440.6 447.92,442.96 446.69,445.07 445.3,447.1 443.86,449.09 443.55,451.65 441.93,453.55 441,455.8 440.24,458.03 439.35,460.2 437.95,462.17 437.92,464.7 436.6,466.7 435.65,468.77 435.32,470.94 435.5,473.2 434.4,473.2"/>
<polyline points="502,387.2 504.5,387.8 507.16,387.31 509.6,388.3 509.82,390.53 510.34,392.69 510.55,394.92 511.75,396.94 511.8,399.2 512.02,401.35 512.9,403.21 514.7,404.69 515,406.8 517.21,406.91 519.44,406.89 521.5,407.9 523.85,407.61 526.08,406.98 528.1,405.7 530.56,405.21 532.4,403.5 533.36,405.48 534.4,407.42 535.48,409.33 536.8,411.1 538.96,411.47 541.07,412.28 543.31,412.07 545.5,412.2 547.63,411.61 549.84,411.48 552,411.1"/>
<polyline points="196,380.8 193.79,380.43 192.34,378.59 190.3,377.9 188.3,376.22 186,375 183.86,376.54 181.6,377.9 179.17,378.94 177.3,380.8 177.66,383.06 178.7,385.1 181.22,385.85 183.79,386.48 186,388 188.13,388.51 190,389.54 191.7,390.9 192.91,392.71 193.7,394.73 194.6,396.7 192.11,397.65 190.3,399.6 188.17,400.26 185.86,399.75 183.73,400.4 181.6,401 178.58,401.27 175.8,402.5 172.93,403.38 170,404 168.01,402.17 167.2,399.6 165.15,398.49 162.74,398.49 160.52,397.9 158.5,396.7 157.35,394.95 155.6,393.8 153.97,395.07 152.7,396.7 150.65,396.72 148.69,396.27 146.89,394.97 144.8,395.2 144,392.4 145.79,391.14 147.99,390.72 149.8,389.5 150.82,387.01 152.7,385.1 151.56,383.36 149.42,382.63 148.37,380.81 146.9,379.4 144,380.05 141.1,379.4 138.23,380.03 135.4,380.8 132.61,379.63 129.6,379.4"/>
<polyline points="60,422.7 62,422.12 64,422.38 66,422.7 67.71,424.43 69.78,425.69 71.8,427 72.34,429 72.18,431.1 72.7,433.11 72.42,435.23 73.2,437.2 74.9,438.96 75.85,441.28 77.6,443 80.43,443.54 83.3,443.7 85.41,442.75 87.08,441.09 89.1,440 91.61,439.36 94,438.39 96.3,437.2 98.3,437.99 100.45,438.47 102.1,440 104.02,439.03 105.24,437.35 106.5,435.7 107.61,433.32 109.4,431.4 110.32,429.42 110.33,427.17 111.2,425.17 112.34,423.26 112.4,421.02 112.8,418.89 113.7,416.9"/>
<polyline points="237.83,839.7 235.23,839.21 232.62,838.75 230.13,837.87 227.61,837.1 225.05,836.5 222.48,835.91 220.07,834.73 217.45,834.3 215.09,832.98 212.48,832.54"/>
<polyline points="241.14,837.94 243.08,839.88 245.74,840.76 247.77,842.57 250.04,844.03 252.56,845.12 254.49,847.06"/>
<polyline points="241.14,837.94 237.83,839.7"/>
<polyline points="93.46,851.12 90.75,851.22 88.22,849.97 85.5,850.11 82.9,849.38 80.14,849.91 77.57,848.94 74.96,848.27 72.31,847.92 69.6,848.01"/>
<polyline points="93.46,851.12 93.8,848.35 95.28,845.97 96,843.34 97.04,840.81"/>
<polyline points="97.04,840.81 94.86,839.17 92.11,838.5 89.89,836.93 87.89,834.99 85.34,833.97 83,832.61 80.98,830.7 78.24,829.99 76.02,828.43"/>
<polyline points="76.02,828.43 73.91,830.38 71.29,831.49 69.04,833.21 66.69,834.76 64.02,835.81"/>
<polyline points="64.02,835.81 65.06,838.29 65.76,840.92 67.28,843.17 68.32,845.65 69.6,848.01"/>
<polyline points="62.94,835.48 64.02,835.81"/>
<polyline points="151.82,839.94 152.02,837.17 152.71,834.47 153.33,831.76 153.43,828.97"/>
<polyline points="151.82,839.94 153.83,841.81 155.75,843.79 158.02,845.34 160.38,846.81 162.16,848.95 164.31,850.65 166.38,852.45"/>
<polyline points="176.56,847.96 175.57,845.39 175.5,842.61 175.13,839.9 173.74,837.41 173.62,834.65 173.24,831.94 172.26,829.36 171.77,826.67"/>
<polyline points="153.43,828.97 155.27,826.84 157.38,824.99 159.54,823.2 161.54,821.23"/>
<polyline points="161.54,821.23 163.99,822.79 166.62,824.02 169.44,824.9 171.77,826.67"/>
<polyline points="190.54,850.78 187.82,849.84 185.05,849.15 182.05,849.56 179.29,848.82 176.56,847.96"/>
<polyline points="119.58,845.48 121.95,843.32 125.01,842.14 127.36,839.96"/>
<polyline points="127.36,839.96 129.59,841.67 132.53,842.02 134.84,843.61 137.38,844.73 139.68,846.3 142.13,847.61"/>
<polyline points="101.89,837.42 100.87,837.54"/>
<polyline points="101.89,837.42 104.21,839.03 107.16,839.25 109.64,840.52 112.01,842.01 114.52,843.2 116.93,844.6 119.58,845.48"/>
<polyline points="100.87,837.54 99.01,839.24 97.04,840.81"/>
<polyline points="151.82,839.94 149.67,842.19 147.09,843.91 144.19,845.24 142.13,847.61"/>
<polyline points="176.35,679.62 173.78,680.12 171.52,681.63 168.78,681.62 166.48,682.97 163.82,683.22 161.44,684.33"/>
<polyline points="176.35,679.62 178.91,680.57 180.61,682.88 183.31,683.61 185.37,685.34 187.48,686.99 189.84,688.27"/>
<polyline points="161.44,684.33 162.3,687.05 163.57,689.64 164.47,692.35 165.18,695.12 166.31,697.75 166.67,700.64"/>
<polyline points="189.84,688.27 188.88,690.83 187.71,693.27 186.09,695.48 184.95,697.93 183.53,700.25"/>
<polyline points="183.53,700.25 180.68,700.79 177.94,701.79 175.18,702.73 172.23,702.83"/>
<polyline points="166.67,700.64 169.52,701.54 172.23,702.83"/>
<polyline points="212.48,832.54 212.13,832.23"/>
<polyline points="190.54,850.78 191.75,848.15 192.11,845.23 193.2,842.57 194.52,839.98 195.16,837.16"/>
<polyline points="212.13,832.23 209.74,833.04 207.15,833.19 204.72,833.86 202.5,835.26 199.93,835.48 197.66,836.74 195.16,837.16"/>
<polyline points="171.77,826.67 174.46,825.97 177.23,826.06 179.98,825.98 182.76,826.11 185.4,824.89 188.17,825.04"/>
<polyline points="195.16,837.16 193.98,834.61 192.34,832.33 190.58,830.11 190.06,827.18 188.17,825.04"/>
<polyline points="93.86,730.17 96.43,729.02 98.57,727.07 101.49,726.53 103.49,724.33 105.95,722.97 108.55,721.87 111.11,720.69"/>
<polyline points="93.86,730.17 92.81,727.21 90.36,725.03 89.78,721.81 87.83,719.35"/>
<polyline points="111.11,720.69 111.98,718.29 112.09,715.66 113.4,713.39 114.01,710.91 114.8,708.48"/>
<polyline points="87.83,719.35 88.49,716.51 89.28,713.69 89.79,710.82 90.75,708.04 90.75,705.06"/>
<polyline points="90.75,705.06 93.55,702.59 96.84,700.79"/>
<polyline points="96.84,700.79 99.25,702.23 102.01,702.89 104.4,704.4 106.91,705.62 109.43,706.83 112.34,707.13 114.8,708.48"/>
<polyline points="270.63,820.45 273.28,821.45 275.7,823.06 278.33,824.12 281.21,824.54 283.59,826.23 286.42,826.79"/>
<polyline points="270.63,820.45 270.51,823.07 270.31,825.69 269.63,828.26 269.74,830.9 269.53,833.52 269.37,836.14 269.09,838.75 268.77,841.35"/>
<polyline points="268.77,841.35 271.33,841.8 273.77,842.56 275.9,844.2 278.38,844.84 280.82,845.62"/>
<polyline points="294.05,843.83 291.38,843.99 288.71,844.19 286.16,845.23 283.51,845.58 280.82,845.62"/>
<polyline points="291.17,799.6 289.48,801.66 287.58,803.52 285.31,805 283.76,807.2 281.92,809.12 279.78,810.73 278.28,812.98 276.47,814.92 274.09,816.3 272.16,818.12 270.49,820.21"/>
<polyline points="270.49,820.21 270.63,820.45"/>
<polyline points="254.49,847.06 256.78,845.88 259.32,845.31 261.43,843.69 263.97,843.15 266.43,842.39 268.77,841.35"/>
<polyline points="285.18,757.7 283.82,755.09 282.84,752.33 282.04,749.5 280.93,746.79 279.75,744.11"/>
<polyline points="192.17,687.28 194.85,687.93 197.11,689.58 199.92,689.92 202.03,691.95 204.77,692.46"/>
<polyline points="192.17,687.28 192.64,684.57 193.52,681.98 194.28,679.35 196,677.03 196.01,674.17 197.19,671.67 198.45,669.2 198.71,666.42"/>
<polyline points="204.77,692.46 206.55,690.51 206.93,687.73 208.74,685.8 210.14,683.62 211.56,681.45 212.5,679 213.81,676.77 215.3,674.65"/>
<polyline points="198.71,666.42 201.97,665.32 205.41,665.4"/>
<polyline points="205.41,665.4 208.52,666.5 211.06,668.62 213.92,670.15"/>
<polyline points="213.92,670.15 215.3,674.65"/>
<polyline points="101.13,806.93 100.39,809.95 99.05,812.72 97.7,815.48 96.31,818.22"/>
<polyline points="101.13,806.93 98.57,806.93 96.11,806.48 93.86,804.93 91.29,805 88.77,804.78 86.44,803.68 83.81,804.01 81.41,803.23 79.01,802.43"/>
<polyline points="96.31,818.22 93.6,818.25 91.04,818.9 88.52,819.77 86.08,820.98 83.44,821.28 80.93,822.19 78.23,822.21"/>
<polyline points="78.23,822.21 77.21,819.63 76.29,817.03 75.72,814.34 75.62,811.52 74.31,809.02 74.08,806.24"/>
<polyline points="74.08,806.24 76.29,804.01 79.01,802.43"/>
<polyline points="100.87,837.54 100.69,834.67 99.38,832.07 98.72,829.31 97.78,826.62 97.96,823.66 97.16,820.93 96.31,818.22"/>
<polyline points="76.02,828.43 77.18,825.34 78.23,822.21"/>
<polyline points="80.91,785.55 80.46,788.35 80.76,791.23 80.25,794.02 79.55,796.79 78.79,799.56 79.01,802.43"/>
<polyline points="80.91,785.55 83.71,786.05 86.52,785.95 89.34,785.91 92.17,785.42 94.94,786.58 97.79,785.7 100.58,786.33"/>
<polyline points="101.13,806.93 101.53,806.69"/>
<polyline points="101.53,806.69 100.97,804.17 101.53,801.59 101.55,799.04 101.4,796.49 100.88,793.97 100.43,791.44 100.14,788.9 100.58,786.33"/>
<polyline points="164.93,655.47 166.94,657.55 169.1,659.42 171.9,660.47 173.71,662.81 176.31,664.12 178.5,665.96"/>
<polyline points="164.93,655.47 166.54,653.41 168.48,651.67 169.81,649.36 171.96,647.82 173.52,645.72 175.74,644.24 177.33,642.16 179.09,640.26"/>
<polyline points="179.09,640.26 182.12,641.22 185.21,641.77 188.39,641.82"/>
<polyline points="188.39,641.82 189.29,644.43 190.01,647.09 189.93,649.96 191.11,652.5 192.27,655.05 193.01,657.71 192.59,660.66 193.84,663.18"/>
<polyline points="193.84,663.18 191.27,663.55 188.82,664.64 186.17,664.56 183.61,665.03 181.07,665.57 178.5,665.96"/>
<polyline points="160.94,656.2 159.58,658.58 158.75,661.14 158.84,664 157.97,666.54 156.84,669 155.51,671.39 154.91,674.02 153.95,676.54 153.37,679.18"/>
<polyline points="160.94,656.2 164.93,655.47"/>
<polyline points="153.37,679.18 156.01,680.97 158.94,682.32 161.44,684.33"/>
<polyline points="176.35,679.62 177.16,676.95 176.63,674.07 177.87,671.46 177.71,668.64 178.5,665.96"/>
<polyline points="189.84,688.27 192.17,687.28"/>
<polyline points="198.71,666.42 196.26,664.83 193.84,663.18"/>
<polyline points="170.88,624.31 168.13,624.92 165.84,626.53 163.56,628.19 160.87,628.92 158.24,629.8 156.03,631.6 153.42,632.52 150.79,633.38"/>
<polyline points="170.88,624.31 172.57,626.32 173.18,628.89 174.52,631.08 175.57,633.43 176.96,635.59 177.75,638.07 179.09,640.26"/>
<polyline points="160.94,656.2 160.12,655.59"/>
<polyline points="160.12,655.59 158.22,653.69 157.35,651.04 155.83,648.88 153.8,647.09 152.2,644.98 150.65,642.83"/>
<polyline points="150.79,633.38 150.31,636.52 150.95,639.68 150.65,642.83"/>
<polyline points="137.82,659.89 140.37,659.77 142.73,658.68 145.3,658.71 147.69,657.78 150.23,657.62 152.78,657.52 155.06,656.02 157.71,656.43 160.12,655.59"/>
<polyline points="137.82,659.89 138.23,657.17 138.39,654.41 138.72,651.68 138.74,648.91 139.61,646.25"/>
<polyline points="150.65,642.83 147.98,643.96 145.09,644.4 142.51,645.86 139.61,646.25"/>
<polyline points="228.63,687.53 226.87,685.55 225.21,683.45 223.32,681.6 221.34,679.84 219.37,678.07 216.94,676.77 215.3,674.65"/>
<polyline points="228.63,687.53 226.58,689.5 225.75,692.32 223.5,694.16 221.9,696.45 220.56,698.91 219.09,701.29"/>
<polyline points="204.77,692.46 206.46,694.57 208.46,696.41 209.88,698.73 211.8,700.64 213.32,702.89"/>
<polyline points="219.09,701.29 216.33,702.52 213.32,702.89"/>
<polyline points="247.57,691.01 244.79,689.88 242.64,687.68 240.16,686.04 237.35,684.97"/>
<polyline points="247.57,691.01 247.13,693.56 246.43,696.03 245.3,698.34 244.6,700.8 243.69,703.19 242.39,705.45 241.73,707.93 240.87,710.33 240.28,712.84 239.1,715.13"/>
<polyline points="237.35,684.97 234.39,685.64 231.61,686.92 228.63,687.53"/>
<polyline points="219.09,701.29 221.39,702.73 223.56,704.33 225.49,706.3 228.16,707.19 230.06,709.2 232.56,710.33 234.39,712.44 236.95,713.49 239.1,715.13"/>
<polyline points="198.4,720.54 200.17,718.66 202.27,717.08 203.86,715.03 205.12,712.67 206.93,710.82 209.45,709.64 210.79,707.36"/>
<polyline points="198.4,720.54 196.45,718.85 195.23,716.62 194.38,714.13 191.98,712.77 190.64,710.64 189.2,708.57 187.59,706.63 186.48,704.33 185.11,702.21 183.53,700.25"/>
<polyline points="213.32,702.89 212.24,705.23 210.79,707.36"/>
<polyline points="193.16,725.21 190.56,724.89 188.35,723.31 185.89,722.55 183.34,722.05 180.73,721.76 178.41,720.53 175.98,719.66 173.48,719.03"/>
<polyline points="193.16,725.21 191.37,727.29 189.13,728.96 187.69,731.36 185.73,733.28 184.23,735.62 181.98,737.28 179.94,739.13 178.12,741.18 176.47,743.38"/>
<polyline points="173.48,719.03 171.5,720.89 168.81,721.82 166.85,723.7 164.9,725.62 162.69,727.17"/>
<polyline points="162.69,727.17 163.84,729.43 164.5,731.91 166.22,733.91 166.77,736.45 167.74,738.79 169.03,740.98"/>
<polyline points="169.03,740.98 171.5,741.8 173.85,743.01 176.47,743.38"/>
<polyline points="166.67,700.64 164.4,702.27 162.11,703.87 159.94,705.65 157.49,707.04"/>
<polyline points="172.23,702.83 171.93,705.57 172.86,708.21 172.62,710.95 173.17,713.62 172.75,716.37 173.48,719.03"/>
<polyline points="157.49,707.04 156.76,709.86 157.65,712.79 156.3,715.56 156.57,718.45 157,721.34 156.29,724.16"/>
<polyline points="156.29,724.16 159.49,725.66 162.69,727.17"/>
<polyline points="158.96,765.72 161.44,764.45 164.22,764.29 166.73,763.12 169.41,762.59 172.01,761.77 174.73,761.37 177.42,760.88 180.08,760.27 182.56,759.02"/>
<polyline points="158.96,765.72 160.24,768.11 161.06,770.7 162.77,772.91 163.45,775.56 164.39,778.1"/>
<polyline points="164.39,778.1 167.21,778.86 170.15,778.06 172.94,779.17 175.82,779.12 178.71,778.9 181.55,779.36"/>
<polyline points="181.55,779.36 183.33,777.36 184.35,774.85 186.45,773.07 187.15,770.34 188.69,768.18 190.58,766.25"/>
<polyline points="182.56,759.02 184.36,761.05 186.61,762.59 188.85,764.13 190.58,766.25"/>
<polyline points="158.47,788.1 159.17,790.53 160.13,792.88 160.55,795.39 161.04,797.88 161.62,800.34 163.26,802.5 163.46,805.07"/>
<polyline points="158.47,788.1 160.05,785.66 161.93,783.39 162.87,780.57 164.39,778.1"/>
<polyline points="163.46,805.07 165.93,804.58 168.04,803.02 170.71,803.1 172.97,801.97 175.46,801.52 177.79,800.6 180.19,799.9 182.42,798.68"/>
<polyline points="182.42,798.68 181.76,795.94 182.43,793.15 181.68,790.41 181.64,787.65 181.59,784.89 181.78,782.11 181.55,779.36"/>
<polyline points="188.1,801.66 188.75,804.55 189.19,807.49 191.04,810.04 191.62,812.95 192.06,815.89"/>
<polyline points="188.1,801.66 190.91,801.8 193.64,802.64 196.47,802.62 199.27,802.87 202.02,803.47 204.83,803.64 207.67,803.51 210.43,804.06"/>
<polyline points="192.06,815.89 194.81,815.7 197.45,816.44 200.09,817.24 202.82,817.2 205.59,816.85 208.23,817.61 210.92,817.98"/>
<polyline points="210.43,804.06 210.67,806.84 210.53,809.63 210.62,812.42 210.28,815.22 210.92,817.98"/>
<polyline points="161.54,821.23 161.39,818.46 161.52,815.7 161.82,812.94 162.19,810.19 161.78,807.41"/>
<polyline points="188.17,825.04 189.69,822.09 190.73,818.93 192.06,815.89"/>
<polyline points="161.78,807.41 163.46,805.07"/>
<polyline points="187.83,801.3 185.29,799.65 182.42,798.68"/>
<polyline points="187.83,801.3 188.1,801.66"/>
<polyline points="212.13,832.23 212.25,829.14 212.96,826.08 212.27,822.96 212.67,819.88"/>
<polyline points="212.67,819.88 210.92,817.98"/>
<polyline points="72.76,693.45 71.91,696.01 69.91,697.96 69.23,700.61 67.39,702.65 66.4,705.14 65.25,707.55 64.01,709.9"/>
<polyline points="72.76,693.45 75.28,694.48 77.07,696.64 79.79,697.36 81.45,699.72 83.76,701.08 86.38,701.96 88.74,703.23 90.75,705.06"/>
<polyline points="87.83,719.35 85.39,718.5 82.79,718.59 80.21,718.62 77.76,717.79 75.2,717.7 72.71,717.11 70.23,716.45 67.77,715.73 65.17,715.83"/>
<polyline points="65.17,715.83 64.95,712.8 64.01,709.9"/>
<polyline points="135.84,779.85 138.49,780.38 140.88,781.66 143.39,782.59 145.7,784.07 148.58,783.97 150.92,785.36 153.27,786.73 156,787.07 158.47,788.1"/>
<polyline points="135.84,779.85 136.28,777.32 137.33,774.98 137.77,772.45 139.19,770.21 139.41,767.63"/>
<polyline points="158.96,765.72 156.06,764.59 153.49,762.91 150.77,761.48 148.37,759.5"/>
<polyline points="139.41,767.63 141.82,765.78 143.72,763.38 146.45,761.89 148.37,759.5"/>
<polyline points="177.97,746.29 178.45,749 179.31,751.56 181,753.83 182.2,756.27 182.56,759.02"/>
<polyline points="177.97,746.29 176.47,743.38"/>
<polyline points="169.03,740.98 166.86,742.63 164.23,743.6 162.12,745.33 160.35,747.56 157.67,748.46 155.28,749.79 153,751.27 150.92,753.06 148.83,754.81"/>
<polyline points="148.83,754.81 148.37,759.5"/>
<polyline points="92.81,767.81 94.5,765.4 95.78,762.79 96.56,759.92 97.58,757.17 99.32,754.78"/>
<polyline points="92.81,767.81 94.02,770.19 96.06,772.03 97.25,774.42 98.08,777.05 99.97,778.99 101.45,781.19 102.92,783.41"/>
<polyline points="99.32,754.78 100.71,756.94 103.05,758.15 104.22,760.54 106.06,762.24 108.3,763.55 110.11,765.3 111.74,767.22"/>
<polyline points="111.74,767.22 112.43,770.24 111.73,773.36 112.85,776.35 112.71,779.43"/>
<polyline points="102.92,783.41 105.14,781.87 107.99,781.85 110.31,780.53 112.71,779.43"/>
<polyline points="98.06,746 98.28,748.95 98.62,751.89 99.32,754.78"/>
<polyline points="98.06,746 100.7,745.32 103.37,745.25 106.06,745.62 108.7,744.95 111.39,745.37 114.07,745.52 116.73,745.3 119.39,744.98"/>
<polyline points="123.86,758.74 123.1,755.94 121.56,753.4 120.88,750.58 120.74,747.58 119.39,744.98"/>
<polyline points="123.86,758.74 121.7,760.81 118.99,762.1 116.9,764.27 113.86,765.09 111.74,767.22"/>
<polyline points="117.27,688.1 117.71,690.74 117.48,693.4 117.36,696.05 117.2,698.7 116.99,701.35 117.28,704 117.61,706.64"/>
<polyline points="117.27,688.1 119.48,686.91 121.63,685.59 124.23,685.25 126.64,684.52 128.46,682.45 131.11,682.25 133.1,680.57 135.55,679.9"/>
<polyline points="135.55,679.9 137.93,681.22 140.27,682.62"/>
<polyline points="140.27,682.62 140.16,685.31 139.96,688 139.43,690.68 139.7,693.38 139.97,696.08 139.5,698.76 139.67,701.47"/>
<polyline points="117.61,706.64 120.38,706.93 123.16,707.19 125.93,707.46 128.68,707.94 131.47,708.02 134.2,708.61"/>
<polyline points="139.67,701.47 138.09,704.03 136.36,706.48 134.2,708.61"/>
<polyline points="129.83,667.34 131.78,665.43 133.66,663.43 136.1,662.05 137.82,659.89"/>
<polyline points="129.83,667.34 130.6,670.03 132.29,672.29 133.13,674.94 133.96,677.59 135.55,679.9"/>
<polyline points="153.37,679.18 150.79,680.03 148.11,680.49 145.53,681.31 142.85,681.75 140.27,682.62"/>
<polyline points="157.49,707.04 155.11,705.72 152.27,705.86 150.02,704.12 147.37,703.67 144.87,702.72 142.26,702.11 139.67,701.47"/>
<polyline points="291.33,786.73 290.09,784.37 287.97,782.68 286.73,780.32 284.71,778.55 283.35,776.28 281.74,774.2"/>
<polyline points="285.18,757.7 283.99,760.09 283.53,762.78 282.69,765.32 280.89,767.47 280.22,770.08"/>
<polyline points="281.74,774.2 280.22,770.08"/>
<polyline points="239.1,715.13 239.6,716.56"/>
<polyline points="210.79,707.36 212.2,709.57 214.03,711.42 216.03,713.12 217.42,715.35 219.64,716.87 220.8,719.29 222.58,721.19 224.23,723.19 226.08,725.03 227.97,726.82 229.21,729.18 231.14,730.94 232.8,732.94"/>
<polyline points="232.8,732.94 234.05,730.71 234.6,728.2 235.26,725.73 236.74,723.6 237.8,721.3 239.1,719.09 239.6,716.56"/>
<polyline points="268.37,702.51 266.59,704.36 266.04,707.02 263.94,708.65 263.07,711.1 261.25,712.91 260.19,715.23 258.68,717.26"/>
<polyline points="258.68,717.26 255.95,717.37 253.23,717.07 250.51,716.92 247.79,716.63 245.06,716.59 242.34,716.45 239.6,716.56"/>
<polyline points="221.92,629.3 221.88,631.84 221.35,634.34 221.57,636.89 221.08,639.39 221.08,641.93 220.85,644.45"/>
<polyline points="221.92,629.3 218.85,628.75 215.67,628.92 212.68,627.88 209.61,627.4"/>
<polyline points="209.61,627.4 207.38,628.86 204.92,629.84 202.71,631.34 200.03,631.87 197.73,633.2"/>
<polyline points="210.95,650.16 209.16,648.3 206.72,647.35 204.48,646.12 202.77,644.15 200.37,643.16 198.84,640.94 196.24,640.21 194.44,638.37"/>
<polyline points="210.95,650.16 213.34,648.59 215.9,647.3 218.15,645.48 220.85,644.45"/>
<polyline points="194.44,638.37 195.9,635.67 197.73,633.2"/>
<polyline points="188.96,616 190.65,613.95 192.9,612.46 195.02,610.84 196.37,608.44 198.62,606.95 200.25,604.85"/>
<polyline points="188.96,616 190.6,618.26 191.38,620.95 192.79,623.33 194.2,625.71 194.88,628.46 196.22,630.87 197.73,633.2"/>
<polyline points="200.25,604.85 201.7,607.18 202.56,609.76 203.02,612.51 203.87,615.1 205.33,617.43 206.08,620.05 206.99,622.61 208.3,625 209.61,627.4"/>
<polyline points="205.41,665.4 206.5,662.92 206.94,660.21 208.03,657.73 209.24,655.29 210.5,652.87 210.95,650.16"/>
<polyline points="188.39,641.82 191.3,639.89 194.44,638.37"/>
<polyline points="172.12,617.78 171.62,621.07 170.88,624.31"/>
<polyline points="172.12,617.78 174.86,616.92 177.76,617.42 180.53,616.82 183.38,616.95 186.12,615.98 188.96,616"/>
<polyline points="256.34,614 254.16,615.28 252.09,616.7 250.16,618.34 248.29,620.05 246.07,621.27 243.77,622.37 242.08,624.35 240.08,625.89 237.76,626.96 235.85,628.62 233.6,629.79"/>
<polyline points="223.44,628.11 225.92,628.88 228.46,629.32 230.98,629.9 233.6,629.79"/>
<polyline points="223.44,628.11 224.2,625.55 224.33,622.92 224.14,620.23 225.26,617.73 225.5,615.11 225.88,612.5 226.18,609.89 226.69,607.3 226.42,604.61 227.01,602.03"/>
<polyline points="227.01,602.03 229.56,602.15 232.09,601.87 234.63,601.75"/>
<polyline points="234.63,601.75 237.09,602.66 239.48,603.74 241.94,604.64 244.16,606.1 246.6,607.05 248.95,608.2 251.12,609.76 253.58,610.66 256.05,611.55"/>
<polyline points="238.22,671.46 235.94,669.72 233.74,667.86 230.84,667.09 228.63,665.24 226.23,663.7"/>
<polyline points="238.22,671.46 239.79,669.43 241.92,668.05 244.26,666.9 245.47,664.46 247.9,663.42 249.88,661.86 251.49,659.88 253.61,658.49 255.27,656.57"/>
<polyline points="228.15,651.87 230.87,651.49 233.6,651.07 236.36,650.93 239.05,650.25 241.8,650.06 244.54,649.75 247.37,650.25 250.02,649.15 252.78,649.03"/>
<polyline points="228.15,651.87 227.99,654.88 226.67,657.7 227.14,660.81 226.23,663.7"/>
<polyline points="237.35,684.97 238.08,682.3 238.12,679.59 238.05,676.87 237.96,674.15 238.22,671.46"/>
<polyline points="213.92,670.15 216.22,668.54 218.63,667.15 221.09,665.86 223.69,664.83 226.23,663.7"/>
<polyline points="223.44,628.11 221.92,629.3"/>
<polyline points="233.6,629.79 235.6,631.64 237.08,634 239.32,635.59 240.85,637.9 243,639.6 245.41,641.04 246.98,643.3 249.23,644.89 251.25,646.72 252.78,649.03"/>
<polyline points="220.85,644.45 222.3,646.68 224.64,648.03 226.59,649.76 228.15,651.87"/>
<polyline points="167.06,524.82 164.29,524.45 161.86,522.99 159.17,522.38 156.38,522.07 154.01,520.44 151.3,519.86"/>
<polyline points="167.06,524.82 165.81,527.04 163.81,528.72 162.6,530.98 161.07,533 159.66,535.1 157.96,537 156.16,538.83 154.86,541.02 154.08,543.58 152.17,545.33"/>
<polyline points="143.65,538.05 143.11,534.77"/>
<polyline points="143.65,538.05 145.61,539.91 147.79,541.55 149.86,543.31 151.49,545.52"/>
<polyline points="151.49,545.52 152.17,545.33"/>
<polyline points="119.96,542.12 122.53,541.3 125.17,540.91 127.95,541.3 130.54,540.6 133.19,540.27 135.79,539.64 138.35,538.73 140.99,538.37 143.65,538.05"/>
<polyline points="74.08,806.24 70.11,805.81"/>
<polyline points="70.11,805.81 67.92,807.17 65.77,808.61 63.46,809.77 61.01,810.7 59.2,812.72 56.84,813.8 54.49,814.88 52.24,816.15"/>
<polyline points="70.11,805.81 68.72,803.62 67.12,801.57 65.63,799.44 63.47,797.82 61.97,795.69 60.53,793.53 58.94,791.48 57.82,789.07 56.01,787.18"/>
<polyline points="80.91,785.55 79.56,782.74 77.26,780.64"/>
<polyline points="56.01,787.18 58.73,786.57 61.16,785.01 63.91,784.5 66.74,784.26 69.44,783.58 71.98,782.38 74.55,781.28 77.26,780.64"/>
<polyline points="100.58,786.33 102.92,783.41"/>
<polyline points="92.81,767.81 90.37,768.8 87.78,769.3 85.21,769.86 82.92,771.27 80.49,772.26 77.89,772.73"/>
<polyline points="77.26,780.64 76.87,777.95 77.24,775.33 77.89,772.73"/>
<polyline points="65.17,715.83 63.08,718.46 61.57,721.44 59.96,724.36"/>
<polyline points="92.39,740.57 89.36,740.95 86.85,742.93 83.84,743.37"/>
<polyline points="92.39,740.57 92.6,737.95 93.48,735.42 93.68,732.8 93.86,730.17"/>
<polyline points="59.96,724.36 62.28,725.54 64.02,727.44 65.83,729.24 67.78,730.87 69.95,732.24 72.14,733.57 73.54,735.89 75.91,737 77.71,738.82 79.84,740.24 82.17,741.39 83.84,743.37"/>
<polyline points="92.39,740.57 94.5,742.15 96.53,743.81 98.06,746"/>
<polyline points="77.89,772.73 76.11,770.59 74.97,768.07"/>
<polyline points="74.97,768.07 74.59,765.17 74.84,762.28 74.71,759.38 74.74,756.49 75.27,753.59 74.88,750.69"/>
<polyline points="83.84,743.37 81.96,745.65 79.66,747.4 76.89,748.58 74.88,750.69"/>
<polyline points="114.45,809.09 115.84,807 117.09,804.83 118.28,802.6 119.91,800.67 120.94,798.35 122.94,796.65 124.26,794.52 125.1,792.08 126.16,789.77 128.38,788.22 129.35,785.86"/>
<polyline points="114.45,809.09 116.19,811 117.39,813.32 118.74,815.52 120.35,817.53 122.18,819.37"/>
<polyline points="122.18,819.37 124.76,820.89 127.66,821.61"/>
<polyline points="141.36,803.16 139.97,800.98 138.96,798.56 137.2,796.62 135.62,794.55 134.47,792.23 132.95,790.13 132.01,787.66 130.36,785.65"/>
<polyline points="141.36,803.16 139.47,805.2 138.6,807.94 137.01,810.18 135.24,812.3 133.6,814.51 131.55,816.44 130.01,818.72 128.89,821.28"/>
<polyline points="128.89,821.28 127.66,821.61"/>
<polyline points="130.36,785.65 129.35,785.86"/>
<polyline points="101.53,806.69 104.01,807.72 106.65,807.92 109.24,808.34 111.91,808.34 114.45,809.09"/>
<polyline points="112.71,779.43 115.15,780.2 117.68,780.71 119.7,782.56 122.32,782.85 124.78,783.55 127.05,784.73 129.35,785.86"/>
<polyline points="101.89,837.42 103.78,835.46 106.13,834.01 107.59,831.56 109.79,829.96 112.35,828.75 114.35,826.91 116.2,824.9 118.17,823.03 119.93,820.92 122.18,819.37"/>
<polyline points="127.36,839.96 127.85,837.34 127.76,834.72 127.51,832.09 127.13,829.47 127.24,826.85 127.48,824.23 127.66,821.61"/>
<polyline points="135.84,779.85 134.16,781.92 132.57,784.08 130.36,785.65"/>
<polyline points="161.78,807.41 159.2,806.99 156.66,806.41 154.07,806.07 151.54,805.42 148.98,804.95 146.44,804.37 143.94,803.55 141.36,803.16"/>
<polyline points="153.43,828.97 150.98,828.21 148.41,827.78 146.17,826.33 143.62,825.88 141.14,825.17 138.78,824.11 136.34,823.3 133.92,822.42 131.45,821.69 128.89,821.28"/>
<polyline points="123.86,758.74 125.98,760.18 128.17,761.51 130.73,762.19 132.63,764.03 135.11,764.83 137.33,766.1 139.41,767.63"/>
<polyline points="187.83,801.3 189.43,799.3 191.55,797.9 193.15,795.9 195.56,794.82 197.53,793.25 199.45,791.62 201.13,789.72"/>
<polyline points="191.01,766.23 190.58,766.25"/>
<polyline points="191.01,766.23 192.19,766.77"/>
<polyline points="201.13,789.72 199.73,787.33 199.31,784.56 198.53,781.92 196.64,779.72 195.82,777.1 194.91,774.52 194.14,771.88 192.82,769.46 192.19,766.77"/>
<polyline points="124.15,730.3 126.92,729.13 129.57,727.71 132.46,726.84 135.14,725.5 137.87,724.26"/>
<polyline points="124.15,730.3 123.12,733.04 122.82,736 121.47,738.65 120.62,741.45 120.08,744.34"/>
<polyline points="120.08,744.34 122.68,744.82 125.36,744.26 127.89,745.53 130.55,745.31 133.2,745.17 135.8,745.58 138.41,745.9 141.03,746.12 143.65,746.32"/>
<polyline points="143.65,746.32 143.25,743.65 143.17,740.96 143.19,738.28 143.59,735.57 143.08,732.9 142.5,730.24 142.95,727.53"/>
<polyline points="142.95,727.53 140.38,725.94 137.87,724.26"/>
<polyline points="111.11,720.69 113.5,722 115.81,723.42 117.29,725.95 119.95,726.89 121.95,728.73 124.15,730.3"/>
<polyline points="114.8,708.48 117.61,706.64"/>
<polyline points="134.2,708.61 134.98,711.18 135.95,713.7 135.57,716.54 136.14,719.16 137.63,721.56 137.87,724.26"/>
<polyline points="119.39,744.98 120.08,744.34"/>
<polyline points="148.83,754.81 147.02,752.03 145.25,749.23 143.65,746.32"/>
<polyline points="156.29,724.16 153.72,725.22 150.91,725.32 148.2,725.86 145.54,726.56 142.95,727.53"/>
<polyline points="241.14,837.94 241.7,835.31 241.27,832.56 241.87,829.94 242.54,827.33"/>
<polyline points="270.49,820.21 267.99,818.9 265.59,817.41 262.9,816.46 260.43,815.1 257.95,813.76"/>
<polyline points="257.95,813.76 255.75,815.14 254.47,817.58 252.35,819.05 250.41,820.73 247.93,821.79 246.61,824.18 244.83,826.04 242.54,827.33"/>
<polyline points="289.55,791.93 287.07,792.51 284.51,792.72 282.12,793.79 279.46,793.47 277.11,794.72 274.49,794.6 272.11,795.73 269.45,795.37 267.1,796.66 264.48,796.52 262.03,797.28"/>
<polyline points="262.03,797.28 260.94,799.59 260.9,802.2 260.39,804.68 259.11,806.93 258.51,809.38 257.81,811.81"/>
<polyline points="257.95,813.76 257.81,811.81"/>
<polyline points="212.67,819.88 215.14,819.08 217.73,818.64 220.09,817.5 222.58,816.76 225.06,815.96 227.52,815.15 230.02,814.42"/>
<polyline points="242.54,827.33 240.67,825.56 238.67,823.92 237,821.96 235.18,820.15 233.38,818.32 232.05,816.02 230.02,814.42"/>
<polyline points="201.13,789.72 203.98,789.24 206.83,789.33 209.69,789.7 212.54,789.42 215.39,789.63"/>
<polyline points="197.23,767.47 199.59,768.37 201.72,769.69 203.87,771.01 205.98,772.37 208.03,773.86 210.31,774.92 212.76,775.65 214.96,776.85 217.15,778.08"/>
<polyline points="197.23,767.47 194.7,767.22 192.19,766.77"/>
<polyline points="217.15,778.08 217.02,781.01 215.73,783.77 216.34,786.82 215.39,789.63"/>
<polyline points="257.81,811.81 255.29,810.69 253.23,808.8 250.85,807.45 248.32,806.35 246.39,804.25 243.73,803.37 241.51,801.76 238.85,800.86 237.01,798.62 234.43,797.6"/>
<polyline points="230.02,814.42 229.54,811.55 229.9,808.68 230.49,805.81 230.56,802.94 230.03,800.07"/>
<polyline points="230.03,800.07 232.47,799.26 234.43,797.6"/>
<polyline points="210.43,804.06 212.56,801.93 213.82,799.13 215.45,796.62 217.72,794.59"/>
<polyline points="230.03,800.07 227.55,799.03 224.9,798.36 222.87,796.28 219.94,796.23 217.72,794.59"/>
<polyline points="217.72,794.59 216.37,792.2 215.39,789.63"/>
<polyline points="198.4,720.54 198.01,722.38"/>
<polyline points="232.8,732.94 232.21,735.8"/>
<polyline points="232.21,735.8 229.64,735.18 227.11,734.43 224.88,732.93 222.26,732.44 220.17,730.56 217.64,729.84 215.05,729.24 212.82,727.75 210.35,726.84 207.7,726.41 205.49,724.87 203.08,723.82 200.5,723.21 198.01,722.38"/>
<polyline points="177.97,746.29 180.43,745.81 183,746.16 185.49,745.9 187.88,744.89 190.32,744.27 192.92,744.9 195.37,744.35 197.79,743.53 200.32,743.63 202.8,743.24"/>
<polyline points="191.01,766.23 192.2,763.73 194.23,761.72 195.03,758.99 196.28,756.52 197.52,754.04 199.22,751.84 201.29,749.85 201.89,747 203.58,744.79"/>
<polyline points="203.58,744.79 202.8,743.24"/>
<polyline points="193.16,725.21 196.97,723.74"/>
<polyline points="202.8,743.24 202.02,740.82 201.88,738.2 200.05,736.1 199.65,733.56 199.53,730.94 197.96,728.75 198.19,726.03 196.97,723.74"/>
<polyline points="196.97,723.74 198.01,722.38"/>
<polyline points="161.17,580.3 163.27,581.84 165.94,582.3 167.97,583.97 170.27,585.13 172.58,586.26"/>
<polyline points="161.17,580.3 158.85,581.8 156.96,583.86 154.73,585.47 152.65,587.29 150.44,588.93 148.11,590.43"/>
<polyline points="168.29,609.93 165.62,609.82 163.19,608.47 160.59,608 157.88,608.14 155.35,607.26 152.71,607.01 150.07,606.76 147.52,606.02"/>
<polyline points="168.29,609.93 169.3,607.19 171.14,604.83 171.62,601.87 173.05,599.32 174.62,596.84 175.3,593.96"/>
<polyline points="147.52,606.02 147.37,603.41 148.09,600.83 147.35,598.2 148.19,595.63 148.38,593.04 148.11,590.43"/>
<polyline points="175.3,593.96 174.78,591.26 174.03,588.64 172.58,586.26"/>
<polyline points="106.45,638.52 103.2,640.24 100.21,642.39"/>
<polyline points="106.45,638.52 105.82,635.98 103.93,634.08 103.05,631.67 101.58,629.56 100.3,627.35 99.54,624.89 98.7,622.46 97.62,620.15 95.66,618.28 95.51,615.51 93.9,613.47"/>
<polyline points="76.99,623.85 79.25,622.11 81.69,620.67 84.45,619.74 86.9,618.32 89.22,616.68 91.38,614.78 93.9,613.47"/>
<polyline points="76.99,623.85 77.78,626.36 78.1,629 79.4,631.36 79.63,634.03 80.73,636.45"/>
<polyline points="80.73,636.45 83.07,637.51 85.61,637.9 87.9,639.13 90.51,639.29 92.82,640.45 95.29,641.07 97.83,641.46 100.21,642.39"/>
<polyline points="172.12,617.78 170.88,615.15 169.68,612.49 168.29,609.93"/>
<polyline points="150.79,633.38 148.9,631.48 146.62,629.98 145.43,627.35 143.49,625.5 140.79,624.43 139.63,621.78 137.34,620.3"/>
<polyline points="147.52,606.02 144.86,607.94 142.52,610.29 139.61,611.89"/>
<polyline points="137.34,620.3 138.47,617.59 138.78,614.67 139.61,611.89"/>
<polyline points="125.94,561.03 123,562.41 120.11,563.89 117.49,565.83"/>
<polyline points="125.94,561.03 128.78,562.66 131.93,563.73 134.54,565.8"/>
<polyline points="117.49,565.83 116.35,568.23 115.72,570.79 114.7,573.23 114.66,575.97 113.3,578.31 112.85,580.92"/>
<polyline points="134.54,565.8 133.64,568.68 133.79,571.73 133.27,574.67 132.9,577.64 132.25,580.56"/>
<polyline points="112.85,580.92 115.57,580.75 118.15,581.42 120.76,581.95 123.43,582.1 125.93,583.29 128.61,583.38"/>
<polyline points="132.25,580.56 128.61,583.38"/>
<polyline points="117.53,544.51 118.81,546.83 119.86,549.27 121.36,551.47 122.48,553.87 123.26,556.44 124.77,558.65 125.94,561.03"/>
<polyline points="117.53,544.51 114.83,544.29 112.13,544.4 109.43,544.13 106.75,543.62 104.04,543.99"/>
<polyline points="96.21,564.53 98.89,564.41 101.53,564.88 104.18,565.24 106.88,564.68 109.48,565.9 112.17,565.5 114.85,565.36 117.49,565.83"/>
<polyline points="96.21,564.53 94.99,561.93"/>
<polyline points="104.04,543.99 102.63,546.09 101.44,548.31 100.5,550.65 99.07,552.74 98.82,555.43 97.22,557.43 95.86,559.56 94.99,561.93"/>
<polyline points="119.96,542.12 117.53,544.51"/>
<polyline points="146.17,560.5 147.53,558.17 148.11,555.56 148.95,553.05 149.59,550.47 150.69,548.04 151.49,545.52"/>
<polyline points="146.17,560.5 143.82,561.5 141.32,562.18 139.03,563.32 136.75,564.48 134.54,565.8"/>
<polyline points="96.21,564.53 96.01,567.8 97.35,570.93 97.14,574.21"/>
<polyline points="97.14,574.21 99.48,576.03 102.18,577.25 104.5,579.08 107.3,580.15 109.68,581.9"/>
<polyline points="109.68,581.9 112.85,580.92"/>
<polyline points="161.17,580.3 160.49,577.85 160.26,575.29 159.24,572.94"/>
<polyline points="159.24,572.94 156.99,571.56 155.34,569.57 153.63,567.62 152.07,565.52 149.72,564.25 148.31,562 146.17,560.5"/>
<polyline points="148.11,590.43 145.68,589.28 143.45,587.81 141.34,586.14 139.14,584.63 137.02,582.99 134.75,581.58 132.25,580.56"/>
<polyline points="124.79,599.57 122.38,600.39 119.77,600.35 117.32,601.01 114.91,601.84 112.33,601.92 109.82,602.31 107.44,603.31"/>
<polyline points="124.79,599.57 125.4,596.86 126.55,594.29 126.27,591.37 126.95,588.69 128.28,586.15 128.61,583.38"/>
<polyline points="109.68,581.9 109.63,584.6 109.01,587.24 108.84,589.93 108.98,592.65 107.98,595.25 107.71,597.93 108.14,600.68 107.44,603.31"/>
<polyline points="124.79,599.57 127.09,601.1 128.8,603.36 130.83,605.23 132.98,606.95 135.38,608.37 137.6,610 139.61,611.89"/>
<polyline points="74.97,768.07 72.2,768.2 69.44,768.59 66.67,768.27 63.91,768.65 61.15,768.8 58.38,768.6 55.61,768.52"/>
<polyline points="74.88,750.69 72.08,750.96 69.38,750.22 66.66,749.69 63.91,749.49 61.2,748.85 58.44,748.7 55.65,748.9"/>
<polyline points="272.16,739.76 269.69,741.05 267.38,742.61"/>
<polyline points="272.16,739.76 272.78,736.43 272.44,733.07"/>
<polyline points="267.38,742.61 264.58,741.96 261.91,740.83 258.98,740.71 256.28,739.72 253.63,738.47 250.71,738.31"/>
<polyline points="272.44,733.07 270.7,731.02 268.78,729.13 267.19,726.94 264.95,725.36 263.57,722.97 261.02,721.67 259.61,719.31"/>
<polyline points="259.61,719.31 258.78,721.82 257.74,724.23 256.54,726.56 254.68,728.59 254.57,731.43 253.16,733.67 251.74,735.9 250.71,738.31"/>
<polyline points="279.75,744.11 277.34,742.45 274.85,740.92 272.16,739.76"/>
<polyline points="280.22,770.08 277.57,769.21 274.91,768.39 272.59,766.68 269.68,766.5 267.06,765.56 264.54,764.38 262.06,763.08 259.47,762.08"/>
<polyline points="259.47,762.08 260.95,759.84 261.7,757.31 262.51,754.81 263.45,752.35 264.63,750 265.54,747.53 266.21,744.97 267.38,742.61"/>
<polyline points="290.5,712.86 289.06,715.21 287.16,717.14 284.83,718.7 283.16,720.84 281.21,722.73 280.07,725.35 277.5,726.69 276.16,729.12 273.87,730.71 272.44,733.07"/>
<polyline points="258.68,717.26 259.61,719.31"/>
<polyline points="281.74,774.2 279.32,775.08 276.96,776.12 274.46,776.81 272.16,778.01 269.76,778.94 267.62,780.5 265.03,780.99 262.77,782.25 260.52,783.55 258.11,784.47 255.56,785.05"/>
<polyline points="259.47,762.08 259.25,762.17"/>
<polyline points="259.25,762.17 258.86,764.72 258.71,767.3 257.7,769.75 258.06,772.41 257.78,774.97 256.2,777.33 256.6,780 255.96,782.51 255.56,785.05"/>
<polyline points="262.03,797.28 260.3,795.28 258.86,793.08 257.62,790.77 256.57,788.32 254.84,786.32"/>
<polyline points="234.43,797.6 235.64,794.89 238.08,793.04 239.89,790.74 241.12,788.05 242.72,785.62"/>
<polyline points="242.72,785.62 245.76,785.62 248.8,785.65 251.83,785.76 254.84,786.32"/>
<polyline points="254.84,786.32 255.56,785.05"/>
<polyline points="233.16,740.06 230.75,741.55 227.95,742.29 225.9,744.5 222.96,744.97 220.51,746.4 218.09,747.89"/>
<polyline points="233.16,740.06 233.6,740.45"/>
<polyline points="233.6,740.45 235.11,742.82 236.01,745.41 236.22,748.26 237.26,750.81 238.62,753.23 238.97,756.04 240.33,758.46"/>
<polyline points="215.6,757.09 217.06,759.23 217.99,761.65 219.48,763.78 220.06,766.36 221.82,768.36 222.88,770.7 223.69,773.17"/>
<polyline points="215.6,757.09 216.74,754.11 217.26,750.95 218.09,747.89"/>
<polyline points="240.33,758.46 238.83,760.91 237.42,763.41 236.22,766.02 235.32,768.79 233.67,771.16"/>
<polyline points="223.69,773.17 226.23,772.9 228.59,771.72 231.12,771.39 233.67,771.16"/>
<polyline points="232.21,735.8 233.16,740.06"/>
<polyline points="203.58,744.79 206.49,745.35 209.48,745.58 212.39,746.19 215.15,747.45 218.09,747.89"/>
<polyline points="250.71,738.31 247.82,738.38 245.03,739.18 242.17,739.51 239.35,740.08 236.45,740.06 233.6,740.45"/>
<polyline points="259.25,762.17 256.56,761.55 253.94,760.6 251.04,761.12 248.53,759.57 245.85,758.94 243,759.17 240.33,758.46"/>
<polyline points="197.23,767.47 199.65,766.41 202.01,765.22 204.2,763.74 206.29,762.06 208.78,761.11 211.23,760.08 213.07,757.98 215.6,757.09"/>
<polyline points="217.15,778.08 219.32,776.42 221.17,774.35 223.69,773.17"/>
<polyline points="242.72,785.62 241.56,782.99 239.99,780.62 237.73,778.68 236.94,775.82 235.37,773.45 233.67,771.16"/>
<polyline points="200.36,604.52 203.02,603.62 205.84,603.63 208.61,603.37 211.28,602.49 214.05,602.24 216.89,602.34 219.56,601.48 222.27,600.86 225.01,600.4"/>
<polyline points="200.36,604.52 198.38,602.41 196.9,599.98 195.75,597.34"/>
<polyline points="227.01,602.03 225.01,600.4"/>
<polyline points="200.25,604.85 200.36,604.52"/>
<polyline points="175.3,593.96 177.79,594.8 180.37,595.09 182.9,595.62 185.51,595.74 188.07,596.16 190.63,596.53 193.14,597.2 195.75,597.34"/>
<polyline points="100.12,538.32 97.41,538.47 94.71,538.22 92.01,538.2 89.31,537.91 86.6,538.39 83.89,538.57 81.19,538.44 78.49,538.28 75.81,537.41 73.1,537.79"/>
<polyline points="104.04,543.99 102.29,541.01 100.12,538.32"/>
<polyline points="94.99,561.93 92.35,561.25 89.61,561.22 86.86,561.24 84.24,560.42 81.62,559.56 78.87,559.59 76.18,559.21"/>
<polyline points="76.18,559.21 75.95,556.51 75.26,553.88 74.61,551.24 74.79,548.48 74.24,545.83 73.68,543.17 73.2,540.51 73.1,537.79"/>
<polyline points="76.18,559.21 74.44,560.69"/>
<polyline points="74.44,560.69 71.96,559.97 69.36,559.93 66.9,559.13 64.31,559.01 61.84,558.24"/>
<polyline points="72.76,693.45 72.5,690.15 71.64,686.96"/>
<polyline points="71.64,686.96 69.19,686.31 66.82,685.4 64.58,684.09 62.01,683.79"/>
<polyline points="66.97,619.12 67.1,615.8 66.99,612.48 66.58,609.17"/>
<polyline points="66.97,619.12 64.54,620.51 61.76,621.18 59.47,622.88 56.64,623.44 54.37,625.18"/>
<polyline points="57.59,643.45 60,644.69 62.63,645.19 65.11,646.17 67.76,646.62 70.24,647.62 72.86,648.13"/>
<polyline points="76.99,623.85 74.29,623.08 72.23,620.96 69.63,619.98 66.97,619.12"/>
<polyline points="72.86,648.13 74.08,645.56 75.76,643.29 77.66,641.17 79.42,638.96 80.73,636.45"/>
<polyline points="66.93,608.17 69.12,606.78 71.85,606.68 73.91,604.99 76.56,604.71 78.79,603.44 81.02,602.14 83.31,601.01 85.53,599.71 87.88,598.7 90.42,598.15"/>
<polyline points="66.93,608.17 67.01,605.41 67.1,602.65 67.18,599.89 66.45,597.15 67.05,594.37 66.21,591.64 66.9,588.86 66.79,586.1 66.21,583.36"/>
<polyline points="66.59,583.17 66.21,583.36"/>
<polyline points="66.59,583.17 69.46,583.47 72.02,584.99 74.83,585.51 77.6,586.21 80.33,587.07 83.19,587.42 85.97,588.08"/>
<polyline points="85.97,588.08 87.07,590.6 88.34,593.05 88.9,595.81 90.42,598.15"/>
<polyline points="93.9,613.47 95.61,611.19 96.1,608.29 97.74,605.98"/>
<polyline points="97.74,605.98 96.15,603.8 93.88,602.25 91.97,600.37 90.42,598.15"/>
<polyline points="66.58,609.17 66.93,608.17"/>
<polyline points="74.44,560.69 73.91,563.31 72.61,565.66 72.07,568.27 71.24,570.79 70.53,573.34 69.4,575.75 68.02,578.07 68,580.87 66.59,583.17"/>
<polyline points="97.14,574.21 95.56,576.21 93.85,578.1 92.77,580.49 90.95,582.29 88.78,583.81 87.1,585.72 85.97,588.08"/>
<polyline points="97.74,605.98 100.64,605.88 103.31,604.56 106.2,604.44"/>
<polyline points="106.2,604.44 107.44,603.31"/>
<polyline points="83.31,675.73 83.24,672.99 82.49,670.34 81.78,667.68 81.8,664.92"/>
<polyline points="83.31,675.73 85.77,676.67 88.04,678.12 90.51,679.03 93.18,679.44 95.78,680.03 97.87,681.93 100.5,682.44"/>
<polyline points="81.8,664.92 84.33,663.92 86.22,661.96 88.24,660.18 90.66,659.01 92.97,657.68 95.03,655.98 97.25,654.51"/>
<polyline points="97.25,654.51 99.12,656.2 100.96,657.92 102.66,659.78 104.62,661.38 106.18,663.37 107.32,665.76 109.46,667.2"/>
<polyline points="109.46,667.2 108.8,669.88 106.84,671.93 105.58,674.32 104.81,676.95 103.42,679.28 102.33,681.75"/>
<polyline points="102.33,681.75 100.5,682.44"/>
<polyline points="71.64,686.96 73.35,684.85 75.67,683.37 77.65,681.53 79.61,679.68 81.36,677.6 83.31,675.73"/>
<polyline points="74.76,658.54 76.73,661.09 79.16,663.12 81.8,664.92"/>
<polyline points="74.76,658.54 72.04,659.46 69.31,660.33 66.8,661.79 63.84,662.04 61.34,663.54"/>
<polyline points="61.34,663.54 61.25,666.07 61.03,668.62 61.85,671.12 61.1,673.68 62.23,676.18 61.81,678.73 62.4,681.24 62.01,683.79"/>
<polyline points="96.84,700.79 96.99,698.09 98.19,695.61 97.9,692.82 98.79,690.27 99.09,687.61 100.39,685.14 100.5,682.44"/>
<polyline points="74.76,658.54 73.79,656.03 73.62,653.37 73.76,650.66 72.86,648.13"/>
<polyline points="100.21,642.39 99.25,645.37 98.49,648.39 97.42,651.34 97.25,654.51"/>
<polyline points="129.83,667.34 127.13,666.06 125.22,663.7 122.74,662.12"/>
<polyline points="117.27,688.1 114.89,686.77 112.41,685.71 109.9,684.69 107.11,684.34 104.62,683.27 102.33,681.75"/>
<polyline points="122.74,662.12 119.96,662.83 117.38,664.03 114.87,665.43 112.32,666.73 109.46,667.2"/>
<polyline points="116.81,620.3 119.65,620.4 122.5,619.92 125.33,620.76 128.18,620.33 131.02,620.94 133.88,620.14 136.71,620.68"/>
<polyline points="116.81,620.3 115.6,622.58 114.81,625.07 112.88,626.96 111.9,629.35 111.03,631.81 109.05,633.67 108.13,636.09 107.12,638.47"/>
<polyline points="136.71,620.68 135.58,623.22 133.72,625.37 132.92,628.09 131.02,630.22 130.4,633.04 128.37,635.1 128.04,638.07 126.03,640.14 124.97,642.72"/>
<polyline points="107.12,638.47 109.53,639.32 111.77,640.55 113.97,641.86 116.58,642.31 118.8,643.58 120.97,644.97"/>
<polyline points="124.97,642.72 120.97,644.97"/>
<polyline points="137.34,620.3 136.71,620.68"/>
<polyline points="106.2,604.44 108.11,606.44 108.99,609.13 111.02,611.05 112.26,613.5 113.95,615.66 115.56,617.86 116.81,620.3"/>
<polyline points="106.45,638.52 107.12,638.47"/>
<polyline points="139.61,646.25 137.29,645.16 134.73,645.07 132.33,644.31 129.91,643.66 127.5,642.93 124.97,642.72"/>
<polyline points="122.74,662.12 122.16,659.29 121.64,656.46 121.81,653.55 121.16,650.72 120.69,647.88 120.97,644.97"/>
<polyline points="194.43,572.61 195.9,572.89"/>
<polyline points="194.43,572.61 192.97,574.2 192.25,576.21 191.45,578.17 190.72,580.17 189.04,581.64 188.29,583.62"/>
<polyline points="196.43,592.86 197.99,590.75 199.16,588.36 201.01,586.45"/>
<polyline points="196.43,592.86 195.36,592.65"/>
<polyline points="195.9,572.89 196.09,575.03 196.85,576.96 197.61,578.88 198.45,580.78 199.51,582.59 200.5,584.43 201.01,586.45"/>
<polyline points="188.29,583.62 189.56,585.54 191.45,586.98 192.42,589.13 194.36,590.52 195.36,592.65"/>
<polyline points="201.93,601.1 203.6,599.84 205.78,599.92 207.51,598.79 209.46,598.26"/>
<polyline points="209.46,598.26 211.61,599.05 213.8,599.7 215.99,600.32 218.3,600.49"/>
<polyline points="227.28,563.66 225.12,562.41 223.03,561.04 220.7,560.12 218.4,559.16"/>
<polyline points="227.91,570.34 228.21,568.07 227.96,565.84 227.28,563.66"/>
<polyline points="158.93,536.34 159.8,534.37 161.31,532.92 162.72,531.39 164.12,529.85"/>
<polyline points="163.07,513.98 163.9,516.01 164.52,518.09 164.24,520.4 165.77,522.25 166.12,524.4 165.98,526.67 166.82,528.7"/>
<polyline points="164.12,529.85 166.82,528.7"/>
<polyline points="163.07,513.98 165.48,514.08 167.83,514.54 170.03,515.8 172.48,515.68"/>
<polyline points="176.59,521.92 174.84,523.49 173.61,525.5 172.37,527.52 170.52,529.01"/>
<polyline points="166.82,528.7 170.52,529.01"/>
<polyline points="220.95,574.46 222.55,573.2 224.73,572.9 226.35,571.67 227.91,570.34"/>
<polyline points="220.95,574.46 219.06,573.32 218.06,571.26 216.25,570.04 215.01,568.23 213.12,567.08 211.77,565.39"/>
<polyline points="218.4,559.16 215.62,560.07 212.7,560.11"/>
<polyline points="212.7,560.11 212.8,562.85 211.77,565.39"/>
<polyline points="218.1,545.84 217.07,547.73 215.29,549.09 214.04,550.82 213.01,552.72 211.73,554.42 210.74,556.34"/>
<polyline points="210.74,556.34 210.49,556.22"/>
<polyline points="210.49,556.22 209.46,554.24 208.95,552.1 208.89,549.8 208.3,547.68 206.99,545.8 206.69,543.59 206.18,541.44 205,539.51"/>
<polyline points="212.7,560.11 212.25,557.95 210.74,556.34"/>
<polyline points="198.55,554.9 198.62,554.61"/>
<polyline points="198.55,554.9 199.52,556.95 199.86,559.22 200.9,561.24 201.55,563.4 202.29,565.53 203.24,567.59 203.73,569.8"/>
<polyline points="198.62,554.61 201.07,554.36 203.33,555.57 205.71,555.81 208.06,556.3 210.49,556.22"/>
<polyline points="203.73,569.8 205.54,568.34 207.6,567.32 209.81,566.6 211.77,565.39"/>
<polyline points="196.1,550.57 196.92,552.87 198.62,554.61"/>
<polyline points="196.1,550.57 197.35,548.97 198.37,547.18 200,545.9 201.61,544.59 202.8,542.95 204.1,541.39 205,539.51"/>
<polyline points="172.45,575.39 173.48,573.37 174.46,571.31 175.84,569.49"/>
<polyline points="175.84,569.49 174.6,567.49 172.96,565.86 171.44,564.11 169.57,562.69"/>
<polyline points="164.14,564.63 166.81,563.54 169.57,562.69"/>
<polyline points="186.08,554.48 187.27,556.15 188.29,557.91 188.59,560.06 189.51,561.88 191.06,563.35 191.89,565.22"/>
<polyline points="186.08,554.48 184.23,556.17 183.21,558.48 181.61,560.35"/>
<polyline points="181.61,560.35 182.03,562.37 182.25,564.44 183.01,566.4 183.04,568.49"/>
<polyline points="190.99,569.56 191.17,567.33 191.89,565.22"/>
<polyline points="190.99,569.56 188.74,569.69 186.51,569.56 184.3,569.13"/>
<polyline points="184.3,569.13 183.04,568.49"/>
<polyline points="188.05,548.59 187.46,548.9"/>
<polyline points="188.05,548.59 190.06,549.1 192.19,549.11 194.01,550.4 196.1,550.57"/>
<polyline points="187.46,548.9 187.15,551.78 186.08,554.48"/>
<polyline points="198.55,554.9 197.5,556.65 196.19,558.24 195.59,560.29 194.2,561.84 192.94,563.45 191.89,565.22"/>
<polyline points="175.84,569.49 178.25,569.22 180.71,569.29 183.04,568.49"/>
<polyline points="169.57,562.69 170.7,560.69 170.78,558.27 172.02,556.31"/>
<polyline points="172.02,556.31 173.79,557.48 175.84,557.98 177.69,558.93 179.85,559.17 181.61,560.35"/>
<polyline points="194.43,572.61 192.69,571.11 190.99,569.56"/>
<polyline points="202.78,570.86 200.42,571.31 198.09,571.87 195.9,572.89"/>
<polyline points="202.78,570.86 203.73,569.8"/>
<polyline points="181.29,580.31 182.25,578.17 182.17,575.75 183.48,573.71 183.77,571.39 184.3,569.13"/>
<polyline points="182.38,583.86 185.34,583.94 188.29,583.62"/>
<polyline points="220.55,575.9 221.61,577.73 223.39,578.93 224.31,580.9 225.72,582.43 227.16,583.92 228.82,585.24"/>
<polyline points="220.55,575.9 220.95,574.46"/>
<polyline points="222.2,597.78 223.63,594.07"/>
<polyline points="223.63,594.07 226.87,592.25"/>
<polyline points="218.3,600.49 220.17,599.02 222.2,597.78"/>
<polyline points="228.82,585.24 228.13,587.57 227.89,590.02 226.87,592.25"/>
<polyline points="195.36,592.65 193.23,593.57"/>
<polyline points="201.93,601.1 200.81,598.87 199.57,596.72 197.47,595.14 196.43,592.86"/>
<polyline points="211.78,586.92 215.23,585.13"/>
<polyline points="211.78,586.92 209.55,586.13 207.24,585.69 204.89,585.42"/>
<polyline points="206.82,576.57 206.88,578.9 205.37,580.89 205.4,583.21 204.89,585.42"/>
<polyline points="206.82,576.57 208.92,576.98 211.03,577.38 212.77,578.9 214.95,579.07 216.91,579.92"/>
<polyline points="216.91,579.92 216.05,582.52 215.23,585.13"/>
<polyline points="209.46,598.26 209.56,595.92 210.51,593.75 210.73,591.43 211.68,589.26 211.78,586.92"/>
<polyline points="223.63,594.07 222.38,592.45 221.02,590.91 219.21,589.81 217.65,588.47 216.96,586.31 215.23,585.13"/>
<polyline points="201.01,586.45 203.08,586.44 204.89,585.42"/>
<polyline points="202.78,570.86 203.99,572.86 205.06,574.96 206.82,576.57"/>
<polyline points="220.55,575.9 218.55,577.74 216.91,579.92"/>
<polyline points="181.24,548.12 180.32,546.18 179.09,544.41 177.99,542.57 177.1,540.62 175.78,538.9 175.04,536.86"/>
<polyline points="181.24,548.12 179.35,549.13 177.38,549.98 175.7,551.42 173.58,551.96 171.6,552.78"/>
<polyline points="175.04,536.86 173.84,538.56 172.14,539.8 170.6,541.19 169.38,542.87 167.95,544.36 166.71,546.02"/>
<polyline points="171.6,552.78 170.09,551.4 168.22,550.47 166.81,548.97"/>
<polyline points="166.71,546.02 166.81,548.97"/>
<polyline points="187.46,548.9 185.37,548.78 183.36,547.97 181.24,548.12"/>
<polyline points="172.02,556.31 171.6,552.78"/>
<polyline points="175.25,535.62 175.04,536.86"/>
<polyline points="175.25,535.62 174.51,533.66 172.58,532.54 171.23,531 170.52,529.01"/>
<polyline points="158.93,536.34 159.8,538.3 161.19,539.83 162.72,541.26 163.82,543.03 165.32,544.47 166.71,546.02"/>
<polyline points="157.62,552.96 159.65,552.61 161.17,551.08 163.11,550.5 165.05,549.95 166.81,548.97"/>
<polyline points="188.05,548.59 187.83,546.51 188.55,544.49 188.12,542.41 188.78,540.39 188.64,538.32"/>
<polyline points="175.25,535.62 177.65,535.64 179.92,534.85 182.36,535.18 184.62,534.25"/>
<polyline points="188.64,538.32 186.74,536.17 184.62,534.25"/>
<polyline points="177.8,521.7 179.75,523.3 182.33,523.88 184.37,525.31 186.23,527.03"/>
<polyline points="184.62,534.25 185.41,531.9 186.21,529.55 186.23,527.03"/>
<polyline points="186.23,527.03 189.06,525.6"/>
<polyline points="197.74,525.73 197.98,527.74 198.04,529.79 199.43,531.58 199.3,533.66"/>
<polyline points="204.98,538.54 203.39,536.56 201.49,534.95 199.3,533.66"/>
<polyline points="188.64,538.32 190.84,537.53 192.87,536.38 195.14,535.75 197.05,534.31 199.3,533.66"/>
<polyline points="189.06,525.6 191.23,525.83 193.4,525.9 195.57,525.75 197.74,525.73"/>
<polyline points="532.21,636.27 531.81,634.16 531.38,632.06 531.41,629.92 531.88,627.74 531.38,625.64"/>
<polyline points="578.09,645.47 576.36,647.23 574.54,648.88 572.36,650.09"/>
<polyline points="581.6,661.52 579.85,659.98 578.49,658.1 576.98,656.35 575.63,654.45 574.06,652.76 572.23,651.29"/>
<polyline points="572.23,651.29 572.36,650.09"/>
<polyline points="576.52,632.91 576.31,635.07 576.66,637.15 577.35,639.18 577.92,641.24 577.38,643.43 578.09,645.47"/>
<polyline points="539.07,644.25 537.22,645.71 535.03,646.6 533.11,647.93"/>
<polyline points="539.07,644.25 537.52,642.81 536.57,640.85 534.73,639.65 533.52,637.91 532.21,636.27"/>
<polyline points="539.07,644.25 540.8,644.92"/>
<polyline points="540.8,644.92 541.28,642.8 542.63,641 543.15,638.9 543.91,636.88 544.35,634.75 544.97,632.68 546.02,630.77"/>
<polyline points="559.55,660.19 557.4,660.79 555.45,661.81 553.46,662.76 551.36,663.45 549.57,664.83"/>
<polyline points="559.55,660.19 558.68,658.28 557.41,656.56 556.88,654.49 555.66,652.74 554.94,650.76 553.97,648.9 553.14,646.97 552.16,645.11"/>
<polyline points="552.16,645.11 549.65,644.93 547.19,645.27 544.75,645.9 542.27,646.05"/>
<polyline points="542.27,646.05 541.82,648.04 541.64,650.05 541.59,652.07 541.67,654.1 541.19,656.08 541.46,658.12 541.32,660.14"/>
<polyline points="541.32,660.14 543.58,660.97 545.56,662.29 547.43,663.8 549.57,664.83"/>
<polyline points="537.92,742.57 538.99,744.64 539.91,746.78 540.89,748.89 541.76,751.06"/>
<polyline points="537.92,742.57 538.4,740.22 539.08,737.93 539.81,735.67 541.17,733.61 541.77,731.31"/>
<polyline points="541.77,731.31 544.12,731.14 546.48,731.27 548.83,731.76 551.18,731.33"/>
<polyline points="551.18,731.33 551.14,733.42 551.05,735.52 551.18,737.61 551.08,739.7 552.06,741.76 551.83,743.86 551.8,745.95"/>
<polyline points="551.8,745.95 549.59,746.57 547.8,748.03 545.57,748.62 543.91,750.32 541.76,751.06"/>
<polyline points="534.88,757.23 536.52,755.99 538.7,755.9 540.36,754.7"/>
<polyline points="534.88,757.23 532.53,756.88 530.21,756.36 527.96,755.51 525.54,755.51"/>
<polyline points="526.6,740.59 528.91,740.71 531.05,741.84 533.41,741.67 535.7,741.92 537.92,742.57"/>
<polyline points="540.36,754.7 541.76,751.06"/>
<polyline points="574.03,670.49 574.6,672.77 574.63,675.12 575,677.43 574.89,679.8 575.59,682.06"/>
<polyline points="574.03,670.49 571.63,669.93 569.42,668.96 567.25,667.89 565.17,666.59"/>
<polyline points="558.92,677.52 560.05,675.75 561.24,674.02 562.03,672.05 563.18,670.29 564.25,668.49 565.17,666.59"/>
<polyline points="558.92,677.52 561.2,678.17 563.17,679.45 564.89,681.19 567.26,681.67 569.04,683.29 571.32,683.96"/>
<polyline points="571.32,683.96 573.45,683 575.59,682.06"/>
<polyline points="576.68,682.5 575.59,682.06"/>
<polyline points="580.5,665.02 579.06,666.6 577.58,668.14 575.83,669.34 574.03,670.49"/>
<polyline points="562.22,660.88 563.36,662.71 564.24,664.66 565.17,666.59"/>
<polyline points="562.22,660.88 563.85,659.25 565.59,657.72 567.21,656.07 568.57,654.15 570.4,652.72 572.23,651.29"/>
<polyline points="540.8,644.92 542.27,646.05"/>
<polyline points="541.32,660.14 539.27,660.88 537.98,662.81 535.8,663.35 534.13,664.68"/>
<polyline points="534.13,664.68 533.96,667.27 533.75,669.86"/>
<polyline points="530.64,672.6 532.34,671.39 533.75,669.86"/>
<polyline points="526.89,814.06 529.17,814.1 531.43,814.34 533.68,814.69 535.91,815.29 538.23,814.91 540.47,815.29"/>
<polyline points="540.47,815.29 542.86,816.93 544.69,819.19"/>
<polyline points="535.02,831.07 536.04,829.08 538.08,827.91 539.02,825.86 540.25,824.04 542,822.64 543.57,821.1 544.69,819.19"/>
<polyline points="527.11,731.29 529.35,730.39 531.37,728.98 533.72,728.3"/>
<polyline points="533.72,728.3 533.04,726.26 532.31,724.25 531.48,722.26 531.81,719.94 530.73,718.02 530.18,715.95"/>
<polyline points="541.77,731.31 539.27,729.3"/>
<polyline points="533.72,728.3 536.56,728.44 539.27,729.3"/>
<polyline points="554.82,724.94 553.55,726.69 552.54,728.57 552.06,730.7"/>
<polyline points="554.82,724.94 553.11,723.45 550.92,722.71 549.01,721.55 547.31,720.05 545.46,718.78 543.74,717.32 541.65,716.42"/>
<polyline points="552.06,730.7 551.18,731.33"/>
<polyline points="539.27,729.3 540.13,727.24 540.47,725.08 540.31,722.83 540.94,720.73 540.89,718.5 541.65,716.42"/>
<polyline points="556.09,723.52 554.82,724.94"/>
<polyline points="556.09,723.52 554.93,721.67 553.38,720.07 552.24,718.21 551.07,716.37 550.05,714.43 548.88,712.59 548.04,710.54 546.69,708.81"/>
<polyline points="546.69,708.81 544.53,709.63 542.28,710 539.98,710.03"/>
<polyline points="541.65,716.42 541.25,714.25 540.7,712.11 539.98,710.03"/>
<polyline points="556.09,723.52 558.04,722.67 559.9,721.65 561.65,720.43"/>
<polyline points="552.06,730.7 553.94,731.92 555.96,732.89 557.84,734.13 560.12,734.62 562.02,735.81 563.73,737.35 565.96,737.94 567.78,739.28"/>
<polyline points="561.65,720.43 563.65,721.16 565.75,721.61 567.7,722.47 569.69,723.23"/>
<polyline points="567.78,739.28 568.35,737.31 568.42,735.29 568.44,733.25 568.51,731.23 569.28,729.29 569.37,727.26 569.39,725.23 569.69,723.23"/>
<polyline points="568.65,631.59 567.38,633.56 566.6,635.75 565.4,637.76 564.75,640.01 563.97,642.2"/>
<polyline points="554.55,643.06 554.92,640.94 554.53,638.83 554.65,636.72 554.75,634.6 554.37,632.49"/>
<polyline points="554.55,643.06 556.87,642.44 559.26,642.61 561.62,642.52 563.97,642.2"/>
<polyline points="576.52,632.91 574.11,632.12 572.13,630.55"/>
<polyline points="572.36,650.09 570.88,648.3 569.15,646.78 567.62,645.04 565.56,643.87 563.97,642.2"/>
<polyline points="572.13,630.55 568.65,631.59"/>
<polyline points="546.02,630.77 548.11,631.17 550.11,632.04 552.3,631.98 554.37,632.49"/>
<polyline points="552.16,645.11 554.55,643.06"/>
<polyline points="562.22,660.88 559.55,660.19"/>
<polyline points="578.67,728.29 577.45,726 575.61,724.14 574.18,721.99"/>
<polyline points="574.18,721.99 575.72,719.89 577.34,717.86 579.17,716.01"/>
<polyline points="561.65,720.43 561.3,718.4 561.47,716.35 561.14,714.32 561.43,712.27"/>
<polyline points="574.18,721.99 571.85,722.29 569.69,723.23"/>
<polyline points="579.17,716.01 579.02,713.52 577.55,711.38 576.9,709.02 576.71,706.54"/>
<polyline points="561.43,712.27 563.16,711.09 565.4,711.24 567.01,709.72 569.13,709.57 570.91,708.5 572.79,707.69 574.71,707.02 576.71,706.54"/>
<polyline points="546.69,708.81 548.65,707.78 550.15,706.02 552.46,705.54 554.16,704.09 555.98,702.84"/>
<polyline points="561.43,712.27 560.11,710.51 559,708.64 558.29,706.53 557.18,704.66 555.98,702.84"/>
<polyline points="540.14,692.93 540.28,695.06 540.22,697.19 540.05,699.31 539.56,701.43 539.88,703.56 539.54,705.69 539.69,707.82 539.79,709.95"/>
<polyline points="540.14,692.93 538.28,693.98 536.49,695.15 534.56,696.09 532.83,697.35 530.88,698.26 529.33,699.83 527.33,700.66"/>
<polyline points="527.64,701.24 529.48,702.34 530.9,704.03 532.91,704.88 534.38,706.49 536.06,707.81 538,708.77 539.78,709.95"/>
<polyline points="539.78,709.95 539.79,709.95"/>
<polyline points="540.45,692.23 540.14,692.93"/>
<polyline points="540.45,692.23 542.42,692.84 543.9,694.39 545.73,695.27 547.69,695.91 549.21,697.37 551.17,698 553.16,698.6 554.94,699.57 556.53,700.91"/>
<polyline points="539.98,710.03 539.79,709.95"/>
<polyline points="556.53,700.91 555.98,702.84"/>
<polyline points="530.18,715.95 531.96,714.52 534.08,713.64 536.11,712.62 537.65,710.81 539.78,709.95"/>
<polyline points="539.82,687.68 539.64,687.5"/>
<polyline points="539.82,687.68 541.93,686.61 544.33,686.58 546.51,685.77 548.76,685.19 551.1,684.95 553.26,684.03"/>
<polyline points="539.64,687.5 540.17,685.31 540.32,683.09 540.24,680.87 539.57,678.61 540.17,676.42"/>
<polyline points="540.17,676.42 541.93,675.28 544,674.86 546.04,674.39 547.6,672.77 549.66,672.33"/>
<polyline points="549.66,672.33 551.06,673.93 552.56,675.43 553.97,677.02 555.31,678.67"/>
<polyline points="555.31,678.67 554.5,681.43 553.26,684.03"/>
<polyline points="540.45,692.23 539.91,689.98 539.82,687.68"/>
<polyline points="527.47,685.64 529.54,685.69 531.59,685.87 533.55,686.62 535.59,686.83 537.58,687.4 539.64,687.5"/>
<polyline points="560.35,696.55 558.33,698.64 556.53,700.91"/>
<polyline points="560.35,696.55 559.73,694.54 558.18,693.05 557.64,690.99 556.2,689.45 555.42,687.53 554.54,685.67 553.26,684.03"/>
<polyline points="533.75,669.86 535.43,671.43 537,673.1 538.47,674.87 540.17,676.42"/>
<polyline points="549.57,664.83 549.99,667.33 549.6,669.83 549.66,672.33"/>
<polyline points="558.92,677.52 555.31,678.67"/>
<polyline points="571.32,683.96 570.41,686.14 569.06,688.04 567.47,689.79 565.93,691.56 564.66,693.51 563.84,695.74"/>
<polyline points="560.35,696.55 563.84,695.74"/>
<polyline points="534.88,757.23 535.02,759.5 535.03,761.77 534.56,764.02 534.54,766.29 534.51,768.56 534.29,770.82"/>
<polyline points="534.29,770.82 532.39,771.82 530.69,773.08 529.03,774.42 527.33,775.69"/>
<polyline points="560.15,822.89 561.38,825.61 562.82,828.23"/>
<polyline points="560.15,822.89 562.03,821.88 563.91,820.88 565.87,820.01 567.71,818.94 569.56,817.89 571.33,816.7 572.78,814.97 574.79,814.18 576.65,813.14"/>
<polyline points="562.82,828.23 564.9,828.18 566.87,827.38 568.96,827.36 570.92,826.49 573.03,826.61"/>
<polyline points="573.03,826.61 574.21,824.53 575.78,822.74 576.93,820.65 578.63,818.96 580.11,817.1"/>
<polyline points="576.65,813.14 578.58,814.94 580.11,817.1"/>
<polyline points="578.44,789.51 578.1,787.41 576.91,785.6 576.29,783.6 576.01,781.48 575.04,779.6"/>
<polyline points="535.02,831.07 535.67,832.96 536.86,834.66 537.15,836.7"/>
<polyline points="531.12,841.75 532.95,839.85 535.21,838.47 537.15,836.7"/>
<polyline points="531.12,841.75 531.59,843.74 531.71,845.75 531.5,847.79 531.8,849.8 532.19,851.79 532.13,853.82"/>
<polyline points="573.28,806.66 574.35,808.85 575.41,811.04 576.65,813.14"/>
<polyline points="580.43,837.28 578.82,835.76 577.78,833.85 576.57,832.05 575.81,829.95 573.89,828.64 573.03,826.61"/>
<polyline points="573.03,769.87 574.86,768.53 576.7,767.18 578.88,766.39 580.69,765.01"/>
<polyline points="573.03,769.87 572.82,771.89 573.68,773.85 572.97,775.89 573.44,777.87"/>
<polyline points="573.44,777.87 575.04,779.6"/>
<polyline points="578.67,728.29 577.94,730.24 577.87,732.36 576.66,734.18 576.72,736.34 575.7,738.21 575.85,740.39 574.91,742.28"/>
<polyline points="580.69,765.01 580.18,763 579.76,760.96 579.29,758.94"/>
<polyline points="575.17,702.57 575.58,704.63 576.73,706.38"/>
<polyline points="575.17,702.57 576.53,701.06 577.37,699.22 578.03,697.26 579.43,695.77 580.57,694.12"/>
<polyline points="563.84,695.74 565.79,696.77 567.36,698.44 569.41,699.31 571.44,700.21 573.35,701.32 575.17,702.57"/>
<polyline points="576.71,706.54 576.73,706.38"/>
<polyline points="576.68,682.5 577.07,684.52 578.36,686.24 578.32,688.41 579.11,690.3 579.98,692.16 580.57,694.12"/>
<polyline points="526.66,779.24 528.34,780.48 530.28,781.26 532.19,782.1 533.83,783.4 535.8,784.14 537.35,785.58"/>
<polyline points="537.35,785.58 536.92,787.86 535.77,789.86 534.6,791.85 534.36,794.2 533.27,796.22"/>
<polyline points="532.17,798.1 533.27,796.22"/>
<polyline points="540.47,815.29 540.58,813.16 541.16,811.06 541.12,808.93 541.3,806.81 541.18,804.68 541.11,802.55"/>
<polyline points="541.11,802.55 538.91,801.36 536.67,800.25 534.45,799.12 532.17,798.1"/>
<polyline points="537.15,836.7 540,838.3"/>
<polyline points="540,838.3 540.24,840.42 540.54,842.53 540.87,844.63 541.24,846.73 541.14,848.88 541.22,851.01"/>
<polyline points="544.69,819.19 545.75,819.31"/>
<polyline points="545.75,819.31 545.95,821.35 546.61,823.27 547.45,825.16 547.27,827.28 548.48,829.09 548.07,831.26 548.8,833.18 549.34,835.13 549.85,837.09"/>
<polyline points="540,838.3 542.45,837.91 544.97,838.02 547.33,836.91 549.85,837.09"/>
<polyline points="534.29,770.82 537.08,771.28 539.55,772.66"/>
<polyline points="537.35,785.58 539.5,785.05 541.59,784.27 543.79,783.91"/>
<polyline points="543.79,783.91 542.99,782.07 542.41,780.15 541.24,778.45 541.41,776.24 540.42,774.47 539.55,772.66"/>
<polyline points="540.36,754.7 542.11,755.8 543.14,757.66 544.75,758.9 546.12,760.41 547.55,761.83 549.19,763.05"/>
<polyline points="549.19,763.05 548.91,765.22 549.61,767.29"/>
<polyline points="539.55,772.66 541.38,771.25 543.8,770.95 545.57,769.42 547.46,768.1 549.61,767.29"/>
<polyline points="567.96,739.65 570.31,741.08 572.51,742.72"/>
<polyline points="567.96,739.65 566.25,740.88 564.19,741.54 562.6,742.97 561.06,744.47 558.93,745.03 557.26,746.32 555.48,747.43"/>
<polyline points="572.51,742.72 571.6,745.06 571.74,747.67 570.34,749.9 570.09,752.41"/>
<polyline points="570.09,752.41 568.22,753.38 567.15,755.36 565.24,756.28 563.61,757.54"/>
<polyline points="555.48,747.43 556.82,749.08 557.48,751.1 558.87,752.72 559.19,754.93 560.54,756.58"/>
<polyline points="560.54,756.58 563.61,757.54"/>
<polyline points="567.78,739.28 567.96,739.65"/>
<polyline points="574.91,742.28 572.51,742.72"/>
<polyline points="551.8,745.95 555.48,747.43"/>
<polyline points="579.29,758.94 577.27,757.89 575.71,756.19 573.86,754.9 571.82,753.86 570.09,752.41"/>
<polyline points="573.03,769.87 570.8,769.1 569,767.45 566.71,766.8"/>
<polyline points="566.71,766.8 565.5,764.63 564.93,762.25 564.22,759.91 563.61,757.54"/>
<polyline points="549.19,763.05 551.12,762.05 552.91,760.78 554.67,759.48 556.79,758.8 558.76,757.85 560.54,756.58"/>
<polyline points="566.71,766.8 564.67,767.86 562.86,769.28 561.03,770.66 559.27,772.14 557.06,772.94 555.15,774.2"/>
<polyline points="555.15,774.2 553.86,772.39 552.33,770.78 551.35,768.73 549.61,767.29"/>
<polyline points="541.11,802.55 542.9,801.48 545.04,801.25 546.83,800.17"/>
<polyline points="533.27,796.22 535.39,795.69 537.49,795.13 539.55,794.42 541.36,793.04 543.64,792.95 545.51,791.73 547.59,791.09"/>
<polyline points="546.83,800.17 547.19,797.92 547.66,795.67 547.49,793.37 547.59,791.09"/>
<polyline points="543.79,783.91 546.42,784.76 549.11,785.45"/>
<polyline points="547.59,791.09 547.93,788.16 549.11,785.45"/>
<polyline points="564.92,805.06 563.03,804.2 560.97,803.76 559.1,802.85 557.22,801.98"/>
<polyline points="564.92,805.06 564.04,806.89 562.53,808.36 561.83,810.29 560.77,812.01 560.26,814.04 559.16,815.74 557.67,817.22 557,819.17"/>
<polyline points="557,819.17 554.45,819.27 552.02,818.17 549.45,818.34"/>
<polyline points="549.45,818.34 549.63,816.07 549.85,813.8 550.23,811.56 550.41,809.29 550.69,807.03 550.89,804.76 551.22,802.51"/>
<polyline points="551.22,802.51 553.24,802.53 555.2,801.93 557.22,801.98"/>
<polyline points="573.28,806.66 571.11,805.35 569.36,803.51"/>
<polyline points="560.15,822.89 558.53,821.07 557,819.17"/>
<polyline points="569.36,803.51 567.28,804.67 564.92,805.06"/>
<polyline points="545.75,819.31 549.45,818.34"/>
<polyline points="562.7,828.66 561.2,830.02 559.63,831.31 557.9,832.41 556.8,834.24 555.07,835.35 553.28,836.38 551.92,837.91"/>
<polyline points="562.7,828.66 562.82,828.23"/>
<polyline points="549.85,837.09 551.92,837.91"/>
<polyline points="546.83,800.17 549.1,801.2 551.22,802.51"/>
<polyline points="553.66,842.49 553.76,845.27 554.52,847.94"/>
<polyline points="553.66,842.49 555.71,842.23 557.57,841.1 559.65,840.96 561.75,840.86 563.7,840.15 565.74,839.82 567.71,839.18"/>
<polyline points="554.52,847.94 556.67,848.48 558.85,848.22 561.02,848.14 563.18,848.49 565.36,848.13 567.54,847.76 569.69,848.3"/>
<polyline points="569.69,848.3 570.13,845.65 571.01,843.11"/>
<polyline points="567.71,839.18 569.29,841.21 571.01,843.11"/>
<polyline points="551.92,837.91 552.37,840.36 553.66,842.49"/>
<polyline points="562.7,828.66 563.61,830.81 564.9,832.77 565.26,835.18 566.8,837.03 567.71,839.18"/>
<polyline points="580.27,837.56 578.55,838.9 576.54,839.74 574.79,841.03 573.06,842.34 571.01,843.11"/>
<polyline points="554.96,781.75 552.23,784.26"/>
<polyline points="554.96,781.75 557.05,782.48 559.2,782.98 561.39,783.32"/>
<polyline points="552.23,784.26 552.81,786.45 554.56,788.06 554.87,790.38 556.23,792.17"/>
<polyline points="556.23,792.17 558.19,793.1 560.39,793.22 562.37,794.08 564.37,794.86 566.5,795.2 568.61,795.65 570.53,796.66"/>
<polyline points="561.39,783.32 562.26,785.16 563.96,786.43 564.84,788.28 566.03,789.9 566.8,791.82 568.23,793.28 569.48,794.86 570.57,796.55"/>
<polyline points="570.57,796.55 570.53,796.66"/>
<polyline points="555.15,774.2 554.61,776.7 555.17,779.24 554.96,781.75"/>
<polyline points="549.11,785.45 552.23,784.26"/>
<polyline points="573.44,777.87 571.34,778.57 569.53,779.93 567.31,780.36 565.3,781.27 563.26,782.11 561.39,783.32"/>
<polyline points="557.22,801.98 556.96,799.53 556.45,797.1 556.61,794.61 556.23,792.17"/>
<polyline points="569.36,803.51 570.15,801.3 569.95,798.91 570.53,796.66"/>
<polyline points="578.44,789.51 577.18,791.28 575.5,792.56 573.43,793.41 572.47,795.51 570.57,796.55"/>
<polyline points="549.35,469.16 547.68,469.51"/>
<polyline points="547.68,469.51 545.22,468.53 542.95,467.2 540.82,465.63"/>
<polyline points="551.23,487.97 552.93,486.52 554.09,484.58 555.74,483.08 557.22,481.42 558.52,479.61 560.03,477.98"/>
<polyline points="551.23,487.97 549.6,486.7 547.75,485.77 546.04,484.62"/>
<polyline points="549.35,469.16 551.23,470.05 553.21,470.74 555.21,471.38 556.91,472.67 558.92,473.29 560.74,474.32"/>
<polyline points="546.04,484.62 546.09,482.44 546.81,480.34 546.63,478.13 546.66,475.95 547.32,473.84 547.48,471.67 547.68,469.51"/>
<polyline points="560.03,477.98 560.74,474.32"/>
<polyline points="541.15,485.04 543.56,484.48 546.04,484.62"/>
<polyline points="542.17,544.17 544.59,543.59 547.08,543.34 549.51,542.8"/>
<polyline points="551.23,487.97 552.4,489.97 552.9,492.3 554.26,494.2"/>
<polyline points="560.03,477.98 561.42,479.79 563.15,481.27 564.47,483.14 566.55,484.3 568,486.05 569.41,487.84"/>
<polyline points="569.41,487.84 567.27,488.65 565.45,490.04 563.61,491.38 561.48,492.2 559.44,493.19 557.55,494.45"/>
<polyline points="554.26,494.2 557.55,494.45"/>
<polyline points="533.87,494.54 535.75,495.66 537.88,496.32 539.8,497.36 541.58,498.67 543.65,499.44 545.54,500.54 547.3,501.88"/>
<polyline points="533.19,509.03 535.25,508.11 537.2,506.94 539.09,505.67 541.39,505.21 543.22,503.83 545.43,503.18 547.3,501.88"/>
<polyline points="554.26,494.2 553.04,496.09 551.89,498.02 550.89,500.04 549.69,501.94"/>
<polyline points="547.3,501.88 549.69,501.94"/>
<polyline points="549.51,542.8 549.6,542.74"/>
<polyline points="549.6,542.74 551.15,544.03 552.97,544.92 554.58,546.11 555.91,547.69 557.85,548.43 559.39,549.73 560.84,551.13 562.66,552.04 564.2,553.33"/>
<polyline points="572.61,504.08 573.99,505.64 574.96,507.54 576.7,508.82 577.98,510.46 578.87,512.42 580.56,513.74 581.72,515.48"/>
<polyline points="572.61,504.08 574.23,502.2 576.28,500.73 577.68,498.64 579.51,496.96"/>
<polyline points="569.41,487.84 571.04,487.71"/>
<polyline points="571.04,487.71 572.16,489.52 573.67,490.97 575.07,492.52 576.85,493.73 578.26,495.26 579.51,496.96"/>
<polyline points="569.49,505.39 568.14,503.88 566.69,502.46 564.87,501.45 563.37,500.09 561.89,498.7 560.34,497.4 559,495.86 557.55,494.45"/>
<polyline points="569.49,505.39 572.61,504.08"/>
<polyline points="569.49,505.39 568.15,507.83"/>
<polyline points="552.77,513.91 552.26,511.91 551.84,509.89 550.89,508.01 550.48,505.99 549.91,504.01 549.69,501.94"/>
<polyline points="552.77,513.91 554.84,513.94 556.87,514.34"/>
<polyline points="556.87,514.34 558.63,513.04 560.81,512.47 562.46,511 564.25,509.75 566.34,509.03 568.15,507.83"/>
<polyline points="548.63,527.61 546.25,527.79 544,528.47 541.74,529.13 539.5,529.89 537.19,530.35"/>
<polyline points="548.63,527.61 548.66,525.16 548.7,522.72 549.21,520.3 549.08,517.85"/>
<polyline points="549.08,517.85 546.66,517.21 544.15,517.06 541.73,516.36 539.22,516.25"/>
<polyline points="549.6,542.74 550.72,540.82 551.75,538.86 552.46,536.73 553.63,534.84"/>
<polyline points="553.63,534.84 552.21,533.15 550.95,531.35 550.15,529.23 548.63,527.61"/>
<polyline points="552.77,513.91 550.75,515.71 549.08,517.85"/>
<polyline points="569.38,468.62 571.01,470.3 572.88,471.67 574.72,473.08 576.69,474.31"/>
<polyline points="576.69,474.31 578.88,474.3"/>
<polyline points="560.74,474.32 562.44,473.14 564.32,472.22 565.78,470.68 567.72,469.87 569.38,468.62"/>
<polyline points="571.04,487.71 571.51,485.65 573,484.02 573.74,482.08 574.02,479.95 575.28,478.22 576.13,476.32 576.69,474.31"/>
<polyline points="568.96,539 566.89,538.73 565.05,537.72 563.05,537.21 561.13,536.45 559.23,535.63 557.23,535.14 555.21,534.69"/>
<polyline points="568.96,539 569.7,538.66"/>
<polyline points="569.7,538.66 571.47,536.95 573.57,535.64 575.49,534.12 577.38,532.55"/>
<polyline points="555.21,534.69 556.24,532.75 557.66,531.1 559.14,529.51 560.36,527.71 561.74,526.03 563.35,524.55 564.58,522.75"/>
<polyline points="564.58,522.75 566.62,523.5 568.8,523.48 570.88,524.01 572.97,524.48 575.11,524.65"/>
<polyline points="578.37,529.98 577.95,527.97 577.26,526.02"/>
<polyline points="578.37,529.98 577.38,532.55"/>
<polyline points="577.26,526.02 575.11,524.65"/>
<polyline points="553.63,534.84 555.21,534.69"/>
<polyline points="564.2,553.33 565,551.32 565.18,549.11 566.52,547.28 566.66,545.05 567.36,543.01 568.29,541.05 568.96,539"/>
<polyline points="577.03,549.91 575.86,548 574.76,546.05 573.22,544.38 572.44,542.22 571,540.48 569.7,538.66"/>
<polyline points="556.87,514.34 558.21,516.21 559.97,517.69 561.75,519.16 563.33,520.81 564.58,522.75"/>
<polyline points="568.15,507.83 568.82,509.74 569.75,511.55 570.51,513.42 571.37,515.25 572.26,517.08 572.81,519.04 573.75,520.84 574.05,522.9 575.11,524.65"/>
<polyline points="582.14,518.28 581.13,520.35 579.38,521.95 578.23,523.93 577.26,526.02"/>
</g>
<polyline points="412.2,570.5 407.3,565 401.8,561.9 384,555.2 379.2,555.2 364,547 356,563.4 348,572 341.3,583 335.6,590.6 326.7,588 305.3,585.2 289,580 280,572 262.5,564.5 229.5,575 236.2,592.7 236.2,608.5 256.4,644" fill="none" stroke="#fcbba1" stroke-width="2.8" stroke-linejoin="round" stroke-linecap="round"/>
<polyline points="407.9,559.4 384,551.5 380.4,553.3 366,549 361.3,552.8 356,556 343.6,565.2 342,578 336,587 323.6,585.2 300,584 290,582.7 275,570 265,562 257.5,555.5 254,541" fill="none" stroke="#fc9272" stroke-width="2.8" stroke-linejoin="round" stroke-linecap="round"/>
<polyline points="386,549 366.2,544.8 351.6,541.7 341.3,547.4 322.2,563.9 320.4,568.3" fill="none" stroke="#fb6a4a" stroke-width="2.8" stroke-linejoin="round" stroke-linecap="round"/>
<polyline points="361.3,535 352,542 348.4,550.6 338,556 331.6,558.6 320.4,568.3" fill="none" stroke="#ef3b2c" stroke-width="2.8" stroke-linejoin="round" stroke-linecap="round"/>
<polyline points="351.1,540.8 346.7,548.8 340,555 338.2,558.6 343.6,565.2 346.2,580.8" fill="none" stroke="#cb181d" stroke-width="2.8" stroke-linejoin="round" stroke-linecap="round"/>
<polyline points="343.6,543.4 338,556 332,559 324.9,570.1 328.4,587.9" fill="none" stroke="#99000d" stroke-width="2.8" stroke-linejoin="round" stroke-linecap="round"/>
<polyline points="361.3,535 336.4,535 318.2,547.4" fill="none" stroke="#808080" stroke-width="2.8" stroke-linejoin="round" stroke-linecap="round"/>
<polyline points="578,744 570,728 547,704 511.25,703.25 485.5,707 481.5,714 476,725 483.5,720.5 480.5,713 474.5,698.5 467.5,690 466,686 460,674 453.6,659.4 449,648 445.6,636.6 440,624 432.6,611.4 427,598 420.6,585.4 417.7,571.7 414,565.6 407.6,557.3 403,555.2 388.3,549 380,545.2 370,539.3 365.8,537.2 361.3,535 355,531.5 348,531 340,523.4" fill="none" stroke="#222222" stroke-width="2.8" stroke-linejoin="round" stroke-linecap="round"/>
<circle cx="412.2" cy="570.5" r="3.4" fill="#fcbba1" stroke="none" stroke-width="0"/>
<circle cx="407.9" cy="559.4" r="3.4" fill="#fc9272" stroke="none" stroke-width="0"/>
<circle cx="386" cy="549" r="3.4" fill="#fb6a4a" stroke="none" stroke-width="0"/>
<circle cx="351.1" cy="540.8" r="3.4" fill="#cb181d" stroke="none" stroke-width="0"/>
<circle cx="343.6" cy="543.4" r="3.4" fill="#99000d" stroke="none" stroke-width="0"/>
<circle cx="361.3" cy="535" r="3.4" fill="#808080" stroke="none" stroke-width="0"/>
<circle cx="511.25" cy="703.25" r="3.4" fill="#222222" stroke="none" stroke-width="0"/>
<circle cx="466" cy="686" r="3.4" fill="#222222" stroke="none" stroke-width="0"/>
<circle cx="445.6" cy="636.6" r="3.4" fill="#222222" stroke="none" stroke-width="0"/>
<circle cx="420.6" cy="585.4" r="3.4" fill="#222222" stroke="none" stroke-width="0"/>
<circle cx="318.2" cy="547.4" r="3.4" fill="#222222" stroke="none" stroke-width="0"/>
<circle cx="379.2" cy="555.2" r="3.4" fill="#222222" stroke="none" stroke-width="0"/>
<circle cx="380.4" cy="553.3" r="3.4" fill="#222222" stroke="none" stroke-width="0"/>
<circle cx="366.2" cy="544.8" r="3.4" fill="#222222" stroke="none" stroke-width="0"/>
<circle cx="331.6" cy="558.6" r="3.4" fill="#222222" stroke="none" stroke-width="0"/>
<circle cx="338.2" cy="558.6" r="3.4" fill="#222222" stroke="none" stroke-width="0"/>
<circle cx="343.6" cy="565.2" r="3.4" fill="#222222" stroke="none" stroke-width="0"/>
<circle cx="341.3" cy="583" r="3.4" fill="#222222" stroke="none" stroke-width="0"/>
<circle cx="320.4" cy="568.3" r="3.4" fill="#222222" stroke="none" stroke-width="0"/>
<circle cx="229.5" cy="575" r="3.4" fill="#222222" stroke="none" stroke-width="0"/>
<circle cx="257.5" cy="555.5" r="3.4" fill="#222222" stroke="none" stroke-width="0"/>
<circle cx="570" cy="728" r="2.9" fill="#fff" stroke="#000" stroke-width="1.1"/>
<circle cx="483.5" cy="720.5" r="2.9" fill="#fff" stroke="#000" stroke-width="1.1"/>
<circle cx="453.6" cy="659.4" r="2.9" fill="#fff" stroke="#000" stroke-width="1.1"/>
<circle cx="432.6" cy="611.4" r="2.9" fill="#fff" stroke="#000" stroke-width="1.1"/>
<circle cx="407.6" cy="557.3" r="2.9" fill="#fff" stroke="#000" stroke-width="1.1"/>
<circle cx="348" cy="531" r="2.9" fill="#fff" stroke="#000" stroke-width="1.1"/>
<circle cx="336.4" cy="535" r="2.9" fill="#fff" stroke="#000" stroke-width="1.1"/>
<circle cx="407.3" cy="565" r="2.9" fill="#fff" stroke="#000" stroke-width="1.1"/>
<circle cx="341.3" cy="547.4" r="2.9" fill="#fff" stroke="#000" stroke-width="1.1"/>
<circle cx="346.7" cy="548.8" r="2.9" fill="#fff" stroke="#000" stroke-width="1.1"/>
<circle cx="348.4" cy="550.6" r="2.9" fill="#fff" stroke="#000" stroke-width="1.1"/>
<circle cx="361.3" cy="552.8" r="2.9" fill="#fff" stroke="#000" stroke-width="1.1"/>
<circle cx="356" cy="563.4" r="2.9" fill="#fff" stroke="#000" stroke-width="1.1"/>
<circle cx="323.6" cy="585.2" r="2.9" fill="#fff" stroke="#000" stroke-width="1.1"/>
<circle cx="305.3" cy="585.2" r="2.9" fill="#fff" stroke="#000" stroke-width="1.1"/>
<circle cx="236.2" cy="608.5" r="2.9" fill="#fff" stroke="#000" stroke-width="1.1"/>
</g>
<line x1="72.05" y1="348.1" x2="97.9" y2="348.1" stroke="#222222" stroke-width="2.9"/>
<text x="105.2" y="351.55" font-size="11.57" text-anchor="start" letter-spacing="-0.2">BEST</text>
<line x1="72.05" y1="362.1" x2="97.9" y2="362.1" stroke="#99000d" stroke-width="2.9"/>
<text x="105.2" y="365.55" font-size="11.57" text-anchor="start" letter-spacing="-0.2">12z 03 Nov</text>
<line x1="72.05" y1="376.1" x2="97.9" y2="376.1" stroke="#cb181d" stroke-width="2.9"/>
<text x="105.2" y="379.55" font-size="11.57" text-anchor="start" letter-spacing="-0.2">06z 03 Nov</text>
<line x1="72.05" y1="390.1" x2="97.9" y2="390.1" stroke="#ef3b2c" stroke-width="2.9"/>
<text x="105.2" y="393.55" font-size="11.57" text-anchor="start" letter-spacing="-0.2">00z 03 Nov</text>
<line x1="72.05" y1="405.1" x2="97.9" y2="405.1" stroke="#fb6a4a" stroke-width="2.9"/>
<text x="105.2" y="408.55" font-size="11.57" text-anchor="start" letter-spacing="-0.2">18z 02 Nov</text>
<line x1="72.05" y1="419.1" x2="97.9" y2="419.1" stroke="#fc9272" stroke-width="2.9"/>
<text x="105.2" y="422.55" font-size="11.57" text-anchor="start" letter-spacing="-0.2">12z 02 Nov</text>
<line x1="72.05" y1="433.1" x2="97.9" y2="433.1" stroke="#fcbba1" stroke-width="2.9"/>
<text x="105.2" y="436.55" font-size="11.57" text-anchor="start" letter-spacing="-0.2">06z 02 Nov</text>
<line x1="72.05" y1="447.1" x2="97.9" y2="447.1" stroke="#808080" stroke-width="2.9"/>
<text x="105.2" y="450.55" font-size="11.57" text-anchor="start" letter-spacing="-0.2">JTWC</text>
<text x="568.9" y="354.8" font-size="13.89" text-anchor="end" font-weight="bold">Track</text>
<rect x="66.5" y="335.5" width="509" height="509" fill="none" stroke="#000" stroke-width="1.1" stroke-linejoin="miter"/>
<line x1="160.5" y1="844.5" x2="160.5" y2="851.4" stroke="#000" stroke-width="1.2"/>
<text x="159.2" y="864.9" font-size="11.57" text-anchor="middle" letter-spacing="-0.2">105°E</text>
<line x1="287.5" y1="844.5" x2="287.5" y2="851.4" stroke="#000" stroke-width="1.2"/>
<text x="286.2" y="864.9" font-size="11.57" text-anchor="middle" letter-spacing="-0.2">110°E</text>
<line x1="414.5" y1="844.5" x2="414.5" y2="851.4" stroke="#000" stroke-width="1.2"/>
<text x="413.2" y="864.9" font-size="11.57" text-anchor="middle" letter-spacing="-0.2">115°E</text>
<line x1="542.5" y1="844.5" x2="542.5" y2="851.4" stroke="#000" stroke-width="1.2"/>
<text x="541.2" y="864.9" font-size="11.57" text-anchor="middle" letter-spacing="-0.2">120°E</text>
<line x1="59.6" y1="725.5" x2="66.5" y2="725.5" stroke="#000" stroke-width="1.2"/>
<text x="54" y="730.4" font-size="11.57" text-anchor="end" letter-spacing="-0.2">15°N</text>
<line x1="59.6" y1="598.5" x2="66.5" y2="598.5" stroke="#000" stroke-width="1.2"/>
<text x="54" y="603.4" font-size="11.57" text-anchor="end" letter-spacing="-0.2">20°N</text>
<line x1="59.6" y1="471.5" x2="66.5" y2="471.5" stroke="#000" stroke-width="1.2"/>
<text x="54" y="476.4" font-size="11.57" text-anchor="end" letter-spacing="-0.2">25°N</text>
<line x1="59.6" y1="344.5" x2="66.5" y2="344.5" stroke="#000" stroke-width="1.2"/>
<text x="54" y="349.4" font-size="11.57" text-anchor="end" letter-spacing="-0.2">30°N</text>
<defs>
<linearGradient id="lg" x1="0" y1="0" x2="1" y2="0">
<stop offset="0" stop-color="#22367f"/><stop offset="0.5" stop-color="#1f5aa6"/><stop offset="1" stop-color="#22367f"/>
</linearGradient>
<radialGradient id="globe" cx="0.35" cy="0.45" r="0.7">
<stop offset="0" stop-color="#9fb4b0"/><stop offset="0.45" stop-color="#4d74b8"/><stop offset="1" stop-color="#2f4fa6"/>
</radialGradient>
<clipPath id="logoc"><circle cx="90.2" cy="882.8" r="14.85"/></clipPath>
</defs>
<g font-family="'DejaVu Sans', 'Liberation Sans', sans-serif" font-weight="bold" fill="url(#lg)">
<text x="3.65" y="894.5" font-size="32.7">C</text>
<text x="24.8" y="894.5" font-size="32.7" textLength="9.7" lengthAdjust="spacingAndGlyphs">I</text>
<text x="34.0" y="894.5" font-size="32.7" textLength="19.4" lengthAdjust="spacingAndGlyphs">R</text>
<text x="49.7" y="894.5" font-size="32.7" textLength="24.8" lengthAdjust="spacingAndGlyphs">A</text>
</g>
<circle cx="17.2" cy="882.6" r="7.6" fill="url(#globe)"/>
<path d="M57,893.5 L60.5,885 L64.5,883.2 L62,889 Z" fill="#e6edf5"/>
<path d="M40.5,874 L44,879 L43,881 L40,876 Z" fill="#9fc0dd"/>
<g clip-path="url(#logoc)">
<rect x="74" y="866" width="32" height="34" fill="#2a8bd2"/>
<ellipse cx="83.6" cy="879.2" rx="3.8" ry="1.5" fill="#e4eef8"/>
<ellipse cx="94.2" cy="876.6" rx="5.4" ry="1.8" fill="#e4eef8"/>
<path d="M74,889 L79,885 L83.3,882.4 L87,884.6 L91,883 L94.2,881.2 L99,883.5 L104,886 L106,888 L106,900 L74,900 Z" fill="#3b3b98"/>
<path d="M78.5,891 Q90,888.6 103,890" fill="none" stroke="#e8eef8" stroke-width="0.9"/>
<text x="90" y="895.2" font-size="4.2" text-anchor="middle" fill="#e8eef8" font-weight="bold">RAMMB</text>
</g>
</svg>
</body></html>
